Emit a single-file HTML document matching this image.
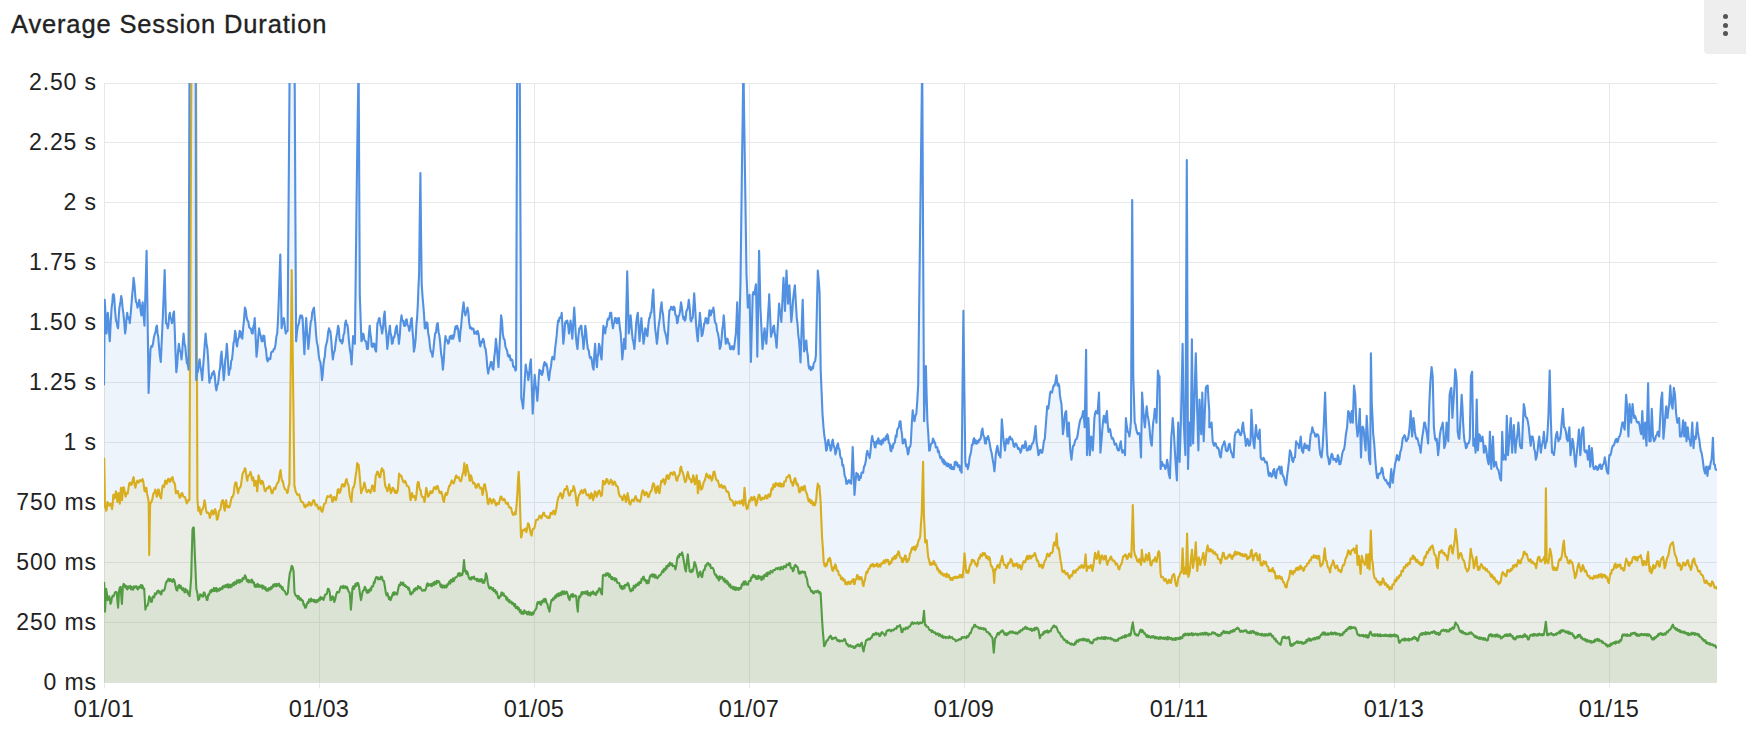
<!DOCTYPE html>
<html><head><meta charset="utf-8"><style>
html,body{margin:0;padding:0;background:#fff;width:1746px;height:734px;overflow:hidden;position:relative;font-family:"Liberation Sans",sans-serif;color:#222}
.title{position:absolute;left:11px;top:9px;font-size:25.5px;line-height:30px;letter-spacing:0.85px;white-space:nowrap;-webkit-text-stroke:0.35px #222}
.menu{position:absolute;left:1704px;top:0;width:42px;height:53.5px;background:#eeeeee;border-bottom-left-radius:4px}
.dot{position:absolute;left:19px;width:5px;height:5px;border-radius:50%;background:#555}
.yl{position:absolute;right:1649.2px;font-size:23px;letter-spacing:0.85px;white-space:nowrap;line-height:24px}
.xl{position:absolute;top:695.5px;width:80px;text-align:center;font-size:23.5px;letter-spacing:0.3px;line-height:26px}
svg{position:absolute;left:0;top:0}
</style></head><body>
<div class="title">Average Session Duration</div>
<div class="menu"><div class="dot" style="top:14.2px"></div><div class="dot" style="top:23px"></div><div class="dot" style="top:31.1px"></div></div>
<div class="yl" style="top:70.0px">2.50 s</div><div class="yl" style="top:129.9px">2.25 s</div><div class="yl" style="top:189.9px">2 s</div><div class="yl" style="top:249.9px">1.75 s</div><div class="yl" style="top:309.8px">1.50 s</div><div class="yl" style="top:369.8px">1.25 s</div><div class="yl" style="top:429.7px">1 s</div><div class="yl" style="top:489.6px">750 ms</div><div class="yl" style="top:549.6px">500 ms</div><div class="yl" style="top:609.5px">250 ms</div><div class="yl" style="top:669.5px">0 ms</div><div class="xl" style="left:64px">01/01</div><div class="xl" style="left:279px">01/03</div><div class="xl" style="left:494px">01/05</div><div class="xl" style="left:709px">01/07</div><div class="xl" style="left:924px">01/09</div><div class="xl" style="left:1139px">01/11</div><div class="xl" style="left:1354px">01/13</div><div class="xl" style="left:1569px">01/15</div>
<svg width="1746" height="734" viewBox="0 0 1746 734">
<defs><clipPath id="c"><rect x="104" y="83" width="1613" height="599.5"/></clipPath></defs>
<g stroke="#e8e8e8" stroke-width="1"><line x1="104" y1="682.5" x2="1717" y2="682.5"/><line x1="104" y1="622.5" x2="1717" y2="622.5"/><line x1="104" y1="562.5" x2="1717" y2="562.5"/><line x1="104" y1="502.5" x2="1717" y2="502.5"/><line x1="104" y1="442.5" x2="1717" y2="442.5"/><line x1="104" y1="382.5" x2="1717" y2="382.5"/><line x1="104" y1="322.5" x2="1717" y2="322.5"/><line x1="104" y1="262.5" x2="1717" y2="262.5"/><line x1="104" y1="202.5" x2="1717" y2="202.5"/><line x1="104" y1="142.5" x2="1717" y2="142.5"/><line x1="104" y1="83.5" x2="1717" y2="83.5"/><line x1="104.5" y1="83" x2="104.5" y2="688.5"/><line x1="319.5" y1="83" x2="319.5" y2="688.5"/><line x1="534.5" y1="83" x2="534.5" y2="688.5"/><line x1="749.5" y1="83" x2="749.5" y2="688.5"/><line x1="964.5" y1="83" x2="964.5" y2="688.5"/><line x1="1179.5" y1="83" x2="1179.5" y2="688.5"/><line x1="1394.5" y1="83" x2="1394.5" y2="688.5"/><line x1="1609.5" y1="83" x2="1609.5" y2="688.5"/></g>
<g clip-path="url(#c)">
<polygon points="104.0,385.2 104.7,299.9 105.6,315.7 106.5,333.5 107.1,325.4 107.8,312.8 108.5,320.2 109.1,333.0 109.8,341.3 110.7,322.8 111.6,307.6 112.3,302.7 112.9,294.7 113.6,294.1 114.2,297.3 115.1,311.0 116.0,320.6 116.7,322.2 117.4,326.5 118.1,328.3 118.8,315.8 119.4,307.6 120.3,303.3 121.2,296.0 121.9,299.5 122.6,307.9 123.3,312.8 124.2,321.6 125.1,333.5 125.8,328.6 126.5,318.5 127.2,312.8 128.0,318.6 128.9,317.4 129.8,323.1 130.7,313.6 131.6,302.4 132.3,293.5 132.9,287.8 133.6,277.9 134.5,285.2 135.4,297.3 136.1,302.1 136.8,303.0 137.5,307.6 138.4,305.2 139.3,299.9 140.0,304.2 140.7,311.3 141.4,315.4 142.0,307.4 142.7,302.4 143.6,315.7 144.5,325.7 145.2,300.7 145.9,275.7 146.6,250.7 147.3,298.1 148.0,345.6 148.6,393.0 149.5,371.0 150.5,349.0 151.3,346.1 152.2,346.7 153.0,343.8 153.9,337.5 154.9,333.5 155.5,332.5 156.2,327.1 156.9,325.7 157.6,333.4 158.3,337.3 159.0,346.4 159.9,355.9 160.8,362.0 161.5,346.4 162.2,330.9 162.9,315.4 163.8,292.7 164.7,270.1 165.3,296.6 166.0,323.1 166.9,323.9 167.8,328.3 168.5,324.2 169.2,315.5 169.9,312.8 170.5,318.5 171.2,318.7 171.9,323.1 172.6,320.6 173.3,313.4 174.0,311.5 174.8,331.8 175.5,352.0 176.3,372.3 177.2,364.8 178.1,350.9 178.9,343.8 179.8,350.5 180.6,352.0 181.5,359.4 182.2,352.7 182.9,340.8 183.6,333.5 184.4,343.0 185.3,346.7 186.2,356.8 186.9,363.3 187.7,363.8 188.5,369.7 189.5,60.0 190.3,61.8 191.1,59.2 191.8,61.2 192.6,57.9 193.4,61.5 194.2,58.9 195.0,61.7 195.7,60.0 196.2,380.1 197.1,372.9 197.9,371.6 198.8,363.1 199.6,359.4 200.5,367.8 201.3,371.5 202.2,380.1 203.0,368.4 203.9,356.8 204.7,345.1 205.6,333.5 206.5,343.4 207.4,349.0 208.1,358.6 208.8,372.9 209.4,382.7 210.2,378.5 211.0,378.3 211.8,374.9 212.5,372.8 213.2,374.3 213.8,371.0 214.7,375.0 215.6,385.7 216.4,390.4 217.1,385.5 217.8,384.6 218.5,380.1 219.3,371.3 220.1,368.3 220.8,356.6 221.6,351.6 222.3,362.8 223.0,368.3 223.7,380.1 224.5,372.2 225.2,360.3 226.0,355.3 226.8,343.8 227.5,352.4 228.2,366.1 228.8,374.9 229.6,369.8 230.4,368.8 231.2,360.8 232.0,359.4 232.7,353.0 233.5,343.0 234.3,340.2 235.1,330.9 235.7,333.8 236.4,343.3 237.1,346.4 238.0,339.1 238.9,337.7 239.7,330.9 240.6,331.8 241.4,337.6 242.3,338.7 243.2,327.5 244.0,320.2 244.9,307.6 245.8,310.2 246.6,317.3 247.5,320.6 248.3,321.5 249.2,327.3 250.1,328.3 250.9,328.7 251.8,333.1 252.7,333.5 253.3,326.6 254.0,325.0 254.7,318.0 255.6,335.6 256.5,356.8 257.4,348.8 258.3,337.0 259.1,328.3 260.0,333.8 260.8,335.9 261.7,341.3 262.6,341.3 263.4,335.5 264.3,336.1 265.2,346.0 266.0,349.5 266.9,359.4 267.7,361.5 268.6,358.2 269.5,359.4 270.3,359.0 271.2,352.3 272.1,351.6 272.9,351.6 273.8,349.1 274.6,349.0 275.5,344.6 276.4,336.6 277.2,333.5 277.9,321.7 278.5,307.6 279.4,281.1 280.3,254.6 281.0,291.4 281.6,328.3 282.3,323.9 283.0,323.3 283.7,318.0 284.4,321.8 285.1,329.2 285.8,333.5 286.7,331.2 287.6,330.9 288.3,240.6 289.0,150.3 289.7,60.0 290.5,61.7 291.3,59.0 292.1,61.2 292.9,58.0 293.7,61.5 294.6,60.0 295.3,200.6 296.1,341.3 297.0,332.2 297.9,325.7 298.8,323.9 299.7,318.0 300.5,315.4 301.2,317.7 301.9,315.6 302.6,318.0 303.5,337.2 304.4,354.2 305.3,335.1 306.2,318.0 306.9,330.6 307.6,337.0 308.3,349.0 309.2,339.8 310.1,328.3 310.8,321.3 311.5,320.1 312.2,312.8 313.1,309.4 314.0,307.6 314.7,317.0 315.4,323.9 316.0,333.5 316.9,342.4 317.8,346.3 318.6,354.2 319.5,360.1 320.4,362.0 321.2,369.1 322.0,380.1 322.7,374.9 323.4,365.1 324.1,359.4 324.8,356.6 325.6,346.9 326.4,343.8 327.3,340.3 328.1,332.4 329.0,328.3 329.7,331.5 330.3,330.9 331.2,339.0 332.1,351.6 332.9,359.4 333.8,352.9 334.7,350.9 335.5,343.8 336.4,337.0 337.2,333.0 338.1,325.7 338.8,328.5 339.5,338.4 340.2,341.3 341.0,340.0 341.9,343.5 342.8,341.3 343.5,334.8 344.3,333.3 345.1,323.7 345.9,320.6 346.6,324.6 347.3,324.5 347.9,328.3 348.8,339.4 349.8,349.0 350.7,354.5 351.6,364.5 352.3,351.1 353.1,336.1 354.0,337.8 354.9,343.8 355.8,267.5 356.7,191.2 357.6,125.6 358.6,60.0 359.2,177.3 359.8,294.7 360.6,318.0 361.4,341.3 362.0,339.8 362.7,333.5 363.6,334.3 364.4,339.7 365.3,341.3 366.1,341.6 367.0,348.9 367.9,349.0 368.8,335.4 369.7,325.7 370.4,334.3 371.1,338.1 371.7,346.4 372.6,346.9 373.5,343.6 374.3,343.8 375.2,349.7 376.1,351.6 376.8,335.9 377.4,323.1 378.1,322.5 378.8,318.8 379.5,318.0 380.4,325.1 381.2,327.1 382.1,333.5 383.0,327.8 383.8,317.5 384.7,311.5 385.5,326.3 386.4,334.2 387.3,349.0 388.1,342.0 389.0,332.4 389.9,325.7 390.5,333.1 391.2,335.3 391.9,343.8 392.7,343.4 393.5,337.3 394.3,337.2 395.0,333.5 395.9,327.7 396.8,325.7 397.5,334.0 398.2,335.4 398.9,343.8 399.8,335.7 400.6,322.6 401.5,315.4 402.4,320.8 403.2,320.7 404.1,325.7 405.0,326.0 405.8,320.3 406.7,319.3 407.5,325.2 408.4,326.1 409.3,330.9 410.1,327.6 411.0,319.9 411.8,318.0 412.5,330.3 413.2,338.3 413.9,351.6 414.8,346.9 415.7,338.7 416.4,325.2 417.1,317.6 417.8,305.0 418.4,288.2 419.1,274.0 419.7,223.5 420.4,173.1 421.0,228.7 421.7,284.3 422.6,297.2 423.5,307.6 424.1,315.7 424.8,328.3 425.6,328.4 426.5,322.4 427.4,323.1 428.2,333.2 429.1,337.7 430.0,346.4 430.8,351.6 431.7,352.4 432.5,356.8 433.4,349.8 434.3,340.4 435.1,333.5 436.0,332.3 436.9,324.5 437.7,323.1 438.6,332.2 439.4,335.6 440.3,343.8 441.2,354.3 442.0,359.0 442.9,369.7 443.8,359.9 444.6,345.5 445.5,336.1 446.3,339.8 447.2,340.4 448.1,343.8 448.9,342.5 449.8,336.4 450.7,336.1 451.5,338.7 452.4,335.4 453.2,338.7 454.2,335.0 455.1,328.3 455.7,326.2 456.4,328.7 457.1,325.7 458.0,328.7 458.9,336.9 459.7,341.3 460.4,331.6 461.1,326.6 461.8,318.0 462.7,309.3 463.6,302.4 464.5,311.2 465.4,315.4 466.1,312.0 466.8,311.4 467.5,307.6 468.3,312.0 469.2,322.9 470.1,328.3 470.9,327.4 471.8,329.4 472.7,328.3 473.5,328.9 474.4,333.8 475.2,333.5 476.1,331.7 477.0,334.1 477.8,330.9 478.7,334.7 479.6,343.7 480.4,346.4 481.3,341.5 482.1,342.5 483.0,338.7 483.9,340.9 484.7,347.2 485.6,349.0 486.5,356.3 487.3,367.3 488.2,373.6 489.0,368.9 489.9,366.6 490.8,362.0 491.6,362.1 492.5,368.4 493.4,369.7 494.2,357.6 495.1,350.6 495.9,338.7 496.8,346.9 497.7,358.5 498.5,367.1 499.4,349.9 500.3,332.6 501.1,315.4 502.0,320.8 502.8,333.4 503.7,338.7 504.6,339.7 505.4,346.5 506.3,349.0 507.1,350.5 508.0,356.0 508.9,356.8 509.7,355.2 510.6,360.2 511.5,359.4 512.3,360.0 513.2,366.4 514.0,367.1 514.7,366.8 515.4,370.6 516.1,369.7 517.2,60.0 518.0,58.7 518.9,61.2 519.7,60.0 520.5,229.1 521.3,398.2 522.2,402.5 523.1,408.5 524.0,393.9 524.8,379.2 525.7,364.5 526.6,371.0 527.4,372.4 528.3,380.1 529.1,374.7 530.0,364.4 530.9,359.4 531.8,386.5 532.7,413.7 533.4,402.6 534.1,385.4 534.7,374.9 535.6,384.9 536.5,390.9 537.3,400.8 538.0,391.7 538.7,378.8 539.4,369.7 540.3,373.7 541.1,370.9 542.0,374.9 542.9,371.9 543.7,364.9 544.6,362.0 545.4,365.4 546.3,363.6 547.2,367.1 548.1,375.4 549.0,380.1 549.7,373.7 550.3,369.7 551.0,366.2 551.7,359.9 552.4,356.8 553.3,358.9 554.2,359.4 555.1,348.6 556.0,341.3 556.7,335.2 557.4,326.6 558.1,320.6 558.8,321.6 559.5,317.6 560.2,318.0 561.0,317.5 561.7,312.8 562.5,326.7 563.3,343.8 564.2,335.8 565.1,323.1 565.8,321.3 566.5,323.0 567.2,320.6 568.1,324.9 569.0,333.5 569.8,327.9 570.5,320.6 571.4,327.2 572.3,338.7 573.2,324.2 574.2,307.6 574.9,318.4 575.7,333.5 576.6,343.7 577.5,349.0 578.4,336.5 579.3,328.3 580.0,328.8 580.7,325.7 581.4,325.7 582.1,335.1 582.8,338.9 583.5,349.0 584.4,338.6 585.3,325.7 586.1,331.2 587.0,342.3 587.9,349.0 588.8,350.6 589.7,356.8 590.4,358.4 591.1,357.2 591.7,359.4 592.7,366.9 593.6,369.7 594.3,354.6 595.1,343.8 596.0,357.8 596.9,367.1 597.6,357.1 598.3,353.7 599.0,343.8 599.9,347.1 600.7,355.3 601.6,359.4 602.5,341.0 603.4,325.7 604.3,330.6 605.2,333.5 605.9,327.2 606.6,326.8 607.3,320.6 608.0,318.5 608.7,319.7 609.3,318.0 610.2,312.9 611.2,312.8 612.1,322.7 613.0,328.3 613.7,323.2 614.3,323.1 615.0,318.0 615.9,318.3 616.8,323.1 617.5,323.0 618.2,318.3 618.9,318.0 619.8,327.1 620.7,333.5 621.5,345.2 622.3,359.4 623.2,349.8 624.1,338.7 624.7,342.0 625.4,349.0 626.3,310.2 627.2,271.4 628.0,302.4 628.7,333.5 629.7,325.9 630.6,315.4 631.2,321.4 631.9,331.8 632.6,338.7 633.5,342.5 634.4,349.0 635.3,337.1 636.2,323.1 637.0,317.0 637.8,312.8 638.7,328.2 639.6,341.3 640.5,327.4 641.4,318.0 642.1,328.0 642.8,333.8 643.5,343.8 644.4,337.9 645.3,328.3 646.0,329.7 646.7,334.3 647.4,336.1 648.3,325.3 649.2,318.0 649.9,317.9 650.6,312.6 651.3,312.8 651.9,306.5 652.6,295.3 653.3,289.5 654.2,310.9 655.1,328.3 656.0,334.9 656.9,343.8 657.6,338.6 658.3,328.5 659.0,323.1 659.9,317.4 660.7,307.9 661.6,302.4 662.3,311.1 663.0,313.9 663.7,323.1 664.6,330.7 665.5,333.5 666.4,337.4 667.3,343.8 668.0,334.5 668.7,320.6 669.4,310.2 670.2,310.2 671.1,306.8 672.0,307.6 672.8,309.9 673.7,306.6 674.5,307.6 675.4,314.9 676.3,315.7 677.1,323.1 677.8,321.9 678.5,316.0 679.2,315.4 680.1,311.1 681.0,302.4 681.9,307.5 682.8,315.4 683.5,319.1 684.2,316.8 684.9,320.6 685.6,318.9 686.3,311.4 687.0,310.2 687.9,307.4 688.8,299.9 689.7,307.8 690.6,320.6 691.3,321.4 692.0,317.8 692.7,318.0 693.4,306.9 694.2,293.4 695.1,307.1 696.0,323.1 696.9,333.9 697.8,341.3 698.5,329.7 699.2,323.1 699.9,312.8 700.8,322.5 701.7,336.1 702.6,334.2 703.5,328.3 704.2,323.5 704.9,323.1 705.6,318.0 706.5,318.7 707.3,323.4 708.2,323.1 708.8,315.9 709.5,310.2 710.1,315.3 710.8,315.4 711.6,310.6 712.5,312.1 713.4,307.6 714.0,311.6 714.7,320.3 715.4,323.1 716.3,324.2 717.1,331.0 718.0,333.5 718.9,339.1 719.8,349.0 720.7,346.1 721.6,338.7 722.3,329.0 723.0,325.1 723.7,315.4 724.4,323.3 725.1,336.7 725.8,343.8 726.7,338.8 727.6,338.7 728.4,343.5 729.3,343.4 730.2,349.0 731.1,349.2 732.0,346.4 732.7,346.3 733.4,349.5 734.0,349.0 735.0,340.3 735.9,333.5 736.5,320.3 737.2,302.4 737.9,328.3 738.7,354.2 739.6,318.0 740.5,281.7 741.2,226.3 741.9,170.9 742.7,115.4 743.4,60.0 744.1,113.5 744.9,167.0 745.7,220.5 746.5,274.0 747.1,288.4 747.8,307.6 748.7,302.1 749.6,294.7 750.2,328.3 750.9,362.0 751.8,328.3 752.7,294.7 753.4,292.0 754.1,294.4 754.7,292.1 755.4,287.3 756.0,284.3 756.7,320.6 757.3,356.8 758.2,303.7 759.1,250.7 759.8,279.2 760.4,307.6 761.1,321.4 761.8,335.2 762.5,349.0 763.2,343.4 763.9,334.0 764.6,328.3 765.5,338.1 766.4,343.8 767.3,329.2 768.1,314.5 769.0,299.9 769.2,294.4 770.1,315.5 771.0,336.7 771.8,333.2 772.5,332.2 773.2,326.9 774.0,325.6 774.8,333.8 775.7,338.5 776.6,347.7 777.4,333.0 778.3,318.3 779.1,303.6 779.9,311.5 780.6,313.6 781.3,322.0 782.1,307.2 782.8,292.5 783.5,277.8 784.3,295.5 785.0,310.9 785.7,290.7 786.5,270.5 787.2,285.8 788.0,303.6 788.7,296.1 789.4,285.2 790.3,302.3 791.3,322.0 792.2,312.7 793.1,299.9 794.0,291.3 794.9,285.2 795.9,303.7 796.8,318.3 797.5,323.5 798.3,335.2 799.0,340.4 799.7,348.9 800.5,362.4 801.2,341.6 801.9,320.7 802.7,299.9 803.4,325.6 804.1,351.4 804.9,349.4 805.6,342.4 806.3,340.4 807.1,351.2 807.8,355.4 808.6,366.1 809.3,368.8 810.0,366.5 810.8,370.1 811.5,369.8 812.2,367.0 813.0,368.3 813.7,363.3 814.4,362.4 815.2,360.8 815.9,355.1 816.8,312.8 817.8,270.5 818.7,279.8 819.6,292.5 820.7,369.8 821.6,391.9 822.5,413.9 823.5,427.4 824.4,436.0 825.3,441.3 826.2,450.7 826.9,449.5 827.7,442.4 828.4,439.7 829.2,445.0 829.9,445.3 830.6,450.7 831.4,448.3 832.1,441.7 832.8,439.7 833.7,446.0 834.6,447.8 835.4,454.4 836.3,451.5 837.1,445.5 838.0,443.4 838.7,448.6 839.5,449.4 840.2,455.8 840.9,458.1 841.7,458.7 842.4,465.5 843.1,464.7 843.9,469.1 844.7,475.9 845.6,477.5 846.4,483.8 847.3,483.7 848.2,480.6 849.0,480.1 849.8,482.6 850.5,480.8 851.2,483.8 852.0,467.7 852.7,447.0 853.6,470.9 854.5,494.9 855.5,481.6 856.4,472.8 857.1,476.3 857.8,474.0 858.6,479.9 859.3,480.1 860.1,476.1 860.8,477.9 861.5,472.6 862.3,472.8 863.1,472.8 864.0,466.6 864.8,465.4 865.7,461.6 866.6,453.8 867.4,450.7 868.1,454.8 868.9,454.2 869.6,458.1 870.5,451.5 871.3,441.9 872.2,436.0 873.1,441.2 873.9,441.9 874.8,447.0 875.5,447.4 876.2,441.6 877.0,443.5 877.7,439.7 878.4,438.3 879.2,443.6 879.9,440.8 880.7,443.4 881.4,444.7 882.1,440.0 882.9,443.0 883.6,438.6 884.3,439.7 885.1,440.4 885.8,436.4 886.5,439.3 887.3,434.3 888.0,436.0 888.9,443.0 889.7,443.6 890.6,450.7 891.3,451.3 892.1,445.6 892.8,448.1 893.5,443.5 894.3,443.4 895.0,441.6 895.7,435.5 896.5,436.8 897.2,429.9 897.9,428.6 898.8,427.2 899.7,421.5 900.5,421.3 901.3,430.2 902.0,434.4 902.7,443.4 903.6,443.0 904.4,439.3 905.3,439.7 906.2,446.6 907.0,448.0 907.9,454.4 908.6,453.0 909.3,447.0 910.1,446.9 910.8,443.4 911.7,425.2 912.7,410.2 913.6,418.2 914.5,421.3 915.4,415.6 916.3,413.9 917.3,400.7 918.2,384.5 919.0,319.6 919.8,254.7 920.6,189.8 921.4,124.9 922.2,60.0 923.1,240.6 924.1,421.3 925.0,393.7 925.9,366.1 926.6,393.7 927.4,421.3 928.3,434.0 929.2,450.7 929.9,450.1 930.7,444.7 931.4,443.4 932.2,443.2 932.9,438.6 933.6,439.7 934.4,442.7 935.1,442.5 935.8,447.4 936.6,447.0 937.3,447.2 938.0,452.1 938.8,450.9 939.5,454.4 940.4,458.3 941.2,457.0 942.1,459.9 942.8,462.5 943.6,459.4 944.3,464.3 945.0,461.6 945.8,463.6 946.5,465.8 947.2,463.2 948.0,466.4 948.7,464.0 949.4,465.4 950.2,468.3 950.9,464.6 951.6,469.0 952.4,467.2 953.1,469.1 954.0,469.1 954.8,462.2 955.7,461.7 956.4,464.9 957.2,462.8 957.9,466.8 958.6,465.4 959.4,465.4 960.1,470.4 960.8,469.4 961.6,472.8 962.5,391.9 963.4,310.9 964.3,386.3 965.3,461.7 966.1,466.3 967.0,464.5 967.8,469.1 968.7,465.3 969.6,457.4 970.4,454.4 971.1,451.7 971.9,444.6 972.6,444.9 973.4,439.7 974.1,438.1 974.8,443.2 975.6,440.1 976.3,443.8 977.0,443.4 977.8,440.8 978.5,442.5 979.2,439.6 980.0,439.7 980.8,438.0 981.7,430.9 982.5,428.6 983.4,435.6 984.3,437.3 985.1,443.4 985.9,443.5 986.6,437.7 987.3,439.1 988.1,436.0 988.1,436.5 988.9,439.1 989.7,443.5 990.7,449.6 991.6,452.7 992.7,459.7 993.5,463.9 994.4,471.3 995.1,464.1 995.7,455.1 996.6,449.3 997.4,445.8 998.2,451.3 999.0,455.1 999.7,454.4 1000.4,457.4 1001.1,440.6 1001.8,419.2 1002.5,426.7 1003.2,436.5 1004.1,444.3 1005.0,450.4 1005.8,442.7 1006.6,438.8 1007.4,443.3 1008.3,443.5 1009.2,437.6 1010.1,436.5 1011.0,439.5 1012.0,438.8 1012.8,441.0 1013.6,445.8 1014.4,446.9 1015.2,443.5 1016.1,443.7 1017.1,445.8 1018.0,448.9 1018.9,448.1 1019.7,449.5 1020.5,452.7 1021.3,450.7 1022.1,445.8 1023.1,445.3 1024.0,448.1 1024.7,446.0 1025.4,441.2 1026.1,444.7 1026.8,450.4 1027.7,450.4 1028.6,448.1 1029.4,445.9 1030.2,449.7 1030.9,448.1 1031.9,444.0 1032.8,443.5 1033.6,441.1 1034.4,436.5 1035.6,426.1 1036.7,443.5 1037.5,447.3 1038.4,455.1 1039.1,454.1 1039.7,450.4 1040.6,449.8 1041.4,452.7 1042.2,452.8 1043.0,448.1 1043.9,441.0 1044.8,438.8 1046.0,422.6 1047.2,406.4 1048.3,408.7 1049.1,402.6 1049.9,394.8 1050.6,391.5 1051.3,392.5 1052.1,392.5 1053.0,387.9 1053.8,385.4 1054.6,385.6 1055.5,381.8 1056.4,375.2 1057.6,385.6 1058.4,383.8 1059.2,385.6 1059.9,394.9 1060.6,399.5 1061.5,404.1 1062.2,417.7 1062.9,434.2 1063.7,428.4 1064.5,418.0 1065.3,412.5 1066.2,411.1 1066.8,424.8 1067.5,436.5 1068.2,427.2 1068.9,422.6 1069.6,437.3 1070.3,450.4 1071.5,459.7 1072.3,451.7 1073.1,445.8 1074.0,445.4 1075.0,441.2 1075.9,439.2 1076.8,438.8 1077.6,435.6 1078.4,429.6 1079.6,422.6 1080.5,419.3 1081.4,418.0 1082.2,416.1 1083.1,411.1 1083.9,416.9 1084.7,427.3 1085.4,388.5 1086.1,349.7 1087.0,455.1 1087.7,438.9 1088.4,418.0 1089.1,435.7 1089.8,455.1 1090.5,446.7 1091.2,436.5 1092.0,441.3 1092.8,450.4 1093.6,435.0 1094.4,418.0 1095.1,413.3 1095.8,411.1 1096.7,413.2 1097.6,413.4 1098.3,402.0 1099.0,392.5 1099.7,422.6 1100.4,452.7 1101.4,442.0 1102.3,429.6 1103.1,420.8 1103.9,415.7 1104.7,421.2 1105.5,422.6 1106.2,414.9 1106.9,411.1 1107.7,423.7 1108.5,431.9 1109.3,428.8 1110.2,429.6 1111.1,435.6 1112.0,438.8 1112.9,438.2 1113.9,441.2 1114.7,444.8 1115.5,443.5 1116.3,443.9 1117.1,448.1 1118.0,450.4 1119.0,450.4 1119.9,444.9 1120.8,441.2 1121.6,449.3 1122.4,452.7 1123.6,450.4 1124.3,451.0 1125.0,455.1 1125.9,418.0 1126.8,426.3 1127.8,431.9 1128.6,432.4 1129.4,436.5 1130.2,430.2 1131.0,420.3 1132.2,200.1 1133.3,376.3 1134.0,399.5 1134.7,422.6 1135.5,424.4 1136.3,429.6 1137.1,432.8 1137.9,434.2 1138.9,432.8 1139.8,434.2 1141.0,457.4 1142.1,392.5 1143.3,411.1 1144.1,420.6 1144.9,427.3 1145.8,415.7 1146.7,406.4 1147.7,415.7 1148.6,420.3 1149.4,426.9 1150.2,436.5 1151.0,443.1 1151.8,445.8 1152.5,432.2 1153.2,422.6 1154.0,417.7 1154.8,408.7 1155.7,413.7 1156.5,422.6 1157.2,396.6 1157.9,370.5 1158.7,375.5 1159.5,376.3 1160.6,469.0 1161.3,464.3 1162.0,462.0 1162.7,465.6 1163.4,464.3 1164.3,465.6 1165.3,469.0 1166.2,466.7 1167.1,459.7 1167.9,464.4 1168.7,473.6 1169.9,478.2 1170.6,457.4 1171.3,436.5 1172.0,429.5 1172.7,418.0 1173.4,426.4 1174.1,436.5 1174.9,451.3 1175.7,464.3 1176.9,480.5 1177.5,451.6 1178.2,422.6 1178.9,440.1 1179.6,462.0 1180.3,440.0 1181.0,418.0 1181.8,380.9 1182.6,343.9 1183.8,422.6 1184.6,440.4 1185.4,455.1 1186.1,307.5 1186.8,160.0 1188.0,469.0 1188.7,445.8 1189.4,422.6 1190.1,432.8 1190.7,445.8 1191.9,339.3 1193.1,443.5 1193.8,421.5 1194.5,399.5 1195.1,376.3 1195.8,353.2 1196.5,382.1 1197.2,411.1 1198.4,450.4 1199.5,399.5 1200.4,419.3 1201.2,434.2 1202.3,392.5 1203.0,416.8 1203.7,441.2 1204.4,423.4 1205.1,405.7 1205.8,387.9 1206.7,385.9 1207.7,385.6 1208.5,400.0 1209.3,411.1 1209.3,427.3 1210.4,427.3 1211.6,422.6 1212.7,441.2 1213.9,445.8 1214.8,443.1 1215.7,443.5 1216.6,446.8 1217.4,448.1 1218.2,447.8 1219.0,450.4 1219.9,455.9 1220.8,457.4 1221.7,449.3 1222.5,445.8 1223.4,444.3 1224.3,441.2 1225.1,444.1 1225.9,450.4 1226.9,451.3 1227.8,450.4 1228.7,444.8 1229.6,443.5 1230.5,449.0 1231.3,452.7 1232.0,453.5 1232.8,457.3 1233.6,457.4 1234.7,436.5 1235.7,432.2 1236.6,431.9 1237.4,432.0 1238.2,429.6 1239.0,430.9 1239.8,434.2 1240.8,435.2 1241.7,431.9 1242.4,425.1 1243.1,422.6 1243.8,430.7 1244.5,434.2 1245.2,438.7 1245.9,445.8 1246.7,443.8 1247.5,438.8 1248.3,441.1 1249.1,445.8 1249.8,445.2 1250.5,441.2 1251.4,409.9 1252.1,421.9 1252.8,436.5 1253.6,443.7 1254.4,448.1 1255.2,434.4 1256.0,425.0 1256.7,433.2 1257.4,436.5 1258.4,438.8 1259.1,432.4 1259.7,429.6 1260.7,457.4 1261.6,459.5 1262.5,459.7 1263.5,457.8 1264.4,459.7 1265.2,462.4 1266.0,462.0 1266.8,461.8 1267.6,466.6 1268.3,473.3 1269.0,475.9 1269.8,472.5 1270.6,473.6 1271.4,476.7 1272.3,475.9 1273.2,470.7 1274.1,469.0 1275.0,475.9 1276.0,478.2 1276.8,471.4 1277.6,469.0 1278.4,469.1 1279.2,466.6 1279.9,469.1 1280.6,473.6 1281.5,466.6 1282.2,472.7 1282.9,475.9 1283.7,476.6 1284.5,480.5 1285.3,483.8 1286.2,485.2 1287.1,475.7 1288.0,469.0 1288.9,461.4 1289.9,450.4 1290.7,451.9 1291.5,455.1 1292.3,460.7 1293.1,462.0 1294.0,457.8 1295.0,457.4 1296.1,441.2 1296.9,443.6 1297.7,443.5 1298.4,444.5 1299.1,448.1 1299.9,443.7 1300.7,436.5 1301.9,450.4 1303.1,452.7 1303.9,446.8 1304.7,443.5 1305.4,447.9 1306.1,448.1 1306.9,445.3 1307.7,445.8 1308.5,449.8 1309.3,450.4 1310.0,441.3 1310.7,434.2 1311.5,433.1 1312.3,427.3 1313.5,431.9 1314.4,432.9 1315.3,436.5 1316.1,436.7 1317.0,434.2 1317.8,434.5 1318.6,436.5 1319.5,448.3 1320.4,455.1 1321.6,457.4 1322.7,445.8 1323.9,422.6 1325.1,392.5 1326.2,427.3 1327.4,455.1 1328.3,458.1 1329.2,464.3 1330.0,463.2 1330.8,457.4 1331.7,453.8 1332.5,455.1 1333.4,459.8 1334.3,459.7 1335.2,458.7 1336.2,462.0 1337.0,460.9 1337.8,455.1 1338.6,457.3 1339.4,464.3 1340.3,464.2 1341.3,459.7 1342.2,454.1 1343.1,450.4 1343.9,449.8 1344.7,445.8 1345.9,434.2 1347.1,427.3 1348.2,411.1 1349.4,413.4 1350.5,422.6 1351.7,411.1 1352.8,422.6 1354.0,385.6 1355.2,394.8 1356.3,422.6 1357.5,436.5 1358.6,429.6 1359.8,408.7 1361.0,457.4 1362.1,427.3 1362.9,426.7 1363.7,429.6 1364.7,442.5 1365.6,450.4 1366.7,415.7 1367.9,436.5 1369.1,459.7 1370.2,464.3 1370.9,353.2 1371.8,404.1 1372.5,417.0 1373.2,434.2 1374.2,443.5 1375.3,459.7 1376.5,473.6 1377.2,477.9 1377.9,478.2 1378.7,473.8 1379.5,473.6 1380.3,473.8 1381.1,471.3 1381.8,467.7 1382.5,469.0 1383.3,475.5 1384.1,478.2 1385.3,480.5 1386.2,480.2 1387.1,482.8 1387.9,484.4 1388.7,482.8 1389.9,487.5 1390.6,475.8 1391.3,469.0 1392.0,477.6 1392.7,482.8 1393.4,476.0 1394.1,471.3 1395.0,464.3 1395.9,460.7 1396.9,455.1 1397.5,455.4 1398.2,459.7 1398.9,460.3 1399.6,457.4 1400.3,451.6 1401.0,450.4 1401.8,445.7 1402.6,438.8 1403.8,436.5 1404.5,435.1 1405.2,436.5 1405.9,440.9 1406.6,441.2 1407.3,439.2 1408.0,438.8 1408.8,434.0 1409.6,427.3 1410.7,411.1 1411.4,422.1 1412.1,436.5 1412.8,428.5 1413.5,418.0 1414.2,424.0 1414.9,431.9 1415.7,436.6 1416.5,438.8 1417.3,438.1 1418.2,441.2 1418.9,445.1 1419.5,445.8 1420.7,452.7 1421.5,443.7 1422.3,436.5 1423.3,430.5 1424.2,422.6 1425.0,422.7 1425.8,427.3 1427.0,434.2 1428.1,443.5 1429.3,404.1 1429.3,404.1 1430.4,380.9 1431.6,367.1 1432.7,376.3 1433.9,427.3 1435.1,438.8 1435.9,440.7 1436.7,438.8 1437.4,445.9 1438.1,455.1 1438.9,448.1 1439.7,436.5 1440.5,431.1 1441.3,427.3 1442.0,426.3 1442.7,422.6 1443.5,433.1 1444.3,448.1 1445.5,443.5 1446.6,422.6 1447.4,433.9 1448.3,441.2 1448.9,418.0 1449.6,394.8 1450.5,390.1 1451.3,387.9 1452.4,418.0 1453.6,399.5 1454.4,386.7 1455.2,369.4 1455.9,373.4 1456.6,380.9 1457.7,431.9 1458.6,437.6 1459.4,438.8 1460.5,418.0 1461.7,394.8 1462.4,406.4 1463.1,422.6 1463.8,433.4 1464.5,441.2 1465.2,442.7 1465.9,448.1 1466.7,447.5 1467.5,443.5 1468.6,443.5 1469.8,438.8 1470.9,376.3 1472.1,371.7 1473.3,445.8 1474.4,438.8 1475.6,452.7 1476.7,399.5 1477.9,450.4 1479.1,434.2 1479.9,435.3 1480.7,441.2 1481.6,441.0 1482.5,436.5 1483.2,442.6 1483.9,452.7 1484.6,451.4 1485.3,445.8 1486.2,449.1 1487.2,457.4 1488.0,462.0 1488.8,464.3 1489.9,431.9 1490.6,449.3 1491.3,469.0 1492.1,454.8 1493.0,436.5 1494.1,466.6 1495.0,462.2 1496.0,462.0 1496.8,467.1 1497.6,469.0 1498.4,469.7 1499.2,473.6 1500.1,478.5 1501.1,480.5 1502.2,431.9 1503.4,459.7 1504.5,455.1 1505.7,459.7 1506.8,415.7 1508.0,455.1 1509.2,441.2 1510.0,427.3 1510.8,418.0 1511.5,437.5 1512.2,452.7 1513.0,437.1 1513.8,425.0 1514.6,439.7 1515.4,452.7 1516.1,443.6 1516.8,438.8 1517.6,432.3 1518.4,422.6 1519.2,433.1 1520.0,445.8 1521.0,448.2 1521.9,448.1 1522.8,426.1 1523.8,404.1 1524.6,407.9 1525.4,415.7 1526.2,417.6 1527.0,418.0 1527.9,421.7 1528.8,427.3 1529.8,437.8 1530.7,445.8 1531.6,436.5 1532.6,436.5 1533.5,441.2 1534.3,449.4 1535.0,451.1 1535.8,459.7 1536.7,456.8 1537.6,450.4 1538.5,441.7 1539.3,436.5 1540.1,446.4 1540.9,452.7 1541.6,446.4 1542.3,443.5 1543.1,439.4 1543.9,431.9 1545.1,448.1 1546.0,442.5 1546.9,441.2 1547.7,429.7 1548.5,413.4 1549.7,370.5 1550.8,418.0 1552.0,452.7 1552.9,452.4 1553.9,455.1 1554.7,448.8 1555.5,438.8 1556.3,434.1 1557.1,431.9 1557.8,437.8 1558.5,441.2 1559.3,438.4 1560.1,438.8 1560.9,432.5 1561.7,422.6 1562.9,408.7 1564.0,427.3 1565.0,427.9 1565.9,431.9 1566.8,439.0 1567.8,441.2 1568.6,433.2 1569.4,427.3 1570.5,455.1 1571.5,448.8 1572.4,438.8 1573.2,442.1 1574.0,450.4 1574.8,460.6 1575.6,466.6 1576.6,454.5 1577.5,445.8 1578.2,439.1 1578.9,429.6 1579.6,440.9 1580.3,455.1 1581.0,447.0 1581.6,434.2 1582.5,428.4 1583.3,427.3 1584.4,450.4 1585.4,452.3 1586.3,450.4 1587.1,452.7 1587.9,459.7 1589.1,445.8 1590.2,466.6 1591.0,459.7 1591.8,448.1 1592.5,455.1 1593.2,466.6 1594.0,469.2 1594.8,469.0 1595.7,466.2 1596.5,466.6 1597.4,469.9 1598.3,469.0 1599.2,465.2 1600.2,464.3 1601.0,468.7 1601.8,469.0 1602.6,465.0 1603.4,464.3 1604.1,462.2 1604.8,457.4 1605.6,461.6 1606.4,469.0 1607.2,472.2 1608.1,473.6 1608.7,463.0 1609.4,455.1 1610.3,455.4 1611.1,452.7 1611.9,448.5 1612.7,445.8 1613.6,445.7 1614.5,443.5 1615.5,440.0 1616.4,438.8 1617.2,442.3 1618.0,441.2 1618.8,437.1 1619.6,436.5 1620.6,433.2 1621.5,427.3 1622.4,422.5 1623.3,422.6 1624.0,427.3 1624.7,429.6 1625.4,410.6 1626.1,394.8 1627.3,408.7 1628.4,436.5 1629.6,404.1 1630.4,415.4 1631.2,422.6 1631.9,411.4 1632.6,404.1 1633.4,412.6 1634.2,418.0 1635.0,415.9 1635.8,418.0 1636.8,421.9 1637.7,422.6 1638.6,421.8 1639.5,425.0 1640.4,431.2 1641.2,434.2 1642.3,411.1 1643.5,438.8 1644.3,428.3 1645.1,422.6 1645.8,436.2 1646.5,445.8 1647.3,414.5 1648.1,383.3 1649.3,441.2 1649.5,431.9 1650.6,441.2 1651.8,408.7 1653.0,436.5 1654.1,441.2 1655.3,438.8 1656.0,435.6 1656.8,435.2 1657.6,431.9 1658.4,431.8 1659.2,436.5 1660.1,419.2 1661.1,399.5 1662.2,392.5 1663.4,438.8 1664.5,427.3 1665.3,416.1 1666.2,406.4 1666.8,413.4 1667.5,418.0 1668.4,409.5 1669.2,404.1 1670.3,385.6 1671.5,404.1 1672.6,408.7 1673.8,387.9 1675.0,394.8 1676.1,413.4 1677.3,422.6 1678.2,422.7 1679.1,418.0 1680.0,436.5 1680.7,435.1 1681.4,436.5 1682.2,430.4 1683.1,420.3 1684.2,436.5 1685.4,422.6 1686.5,441.2 1687.7,427.3 1688.8,438.8 1689.8,440.1 1690.7,445.8 1691.5,435.1 1692.3,422.6 1693.5,448.1 1694.6,436.5 1695.8,438.8 1696.5,428.9 1697.2,422.6 1697.9,432.1 1698.6,436.5 1699.3,439.5 1700.0,445.8 1700.8,451.0 1701.6,452.7 1702.7,459.7 1703.9,469.0 1705.1,473.6 1706.2,466.6 1707.4,475.9 1708.5,466.6 1709.7,469.0 1710.6,463.0 1711.5,459.7 1712.2,451.1 1712.9,437.7 1713.9,464.3 1714.7,464.2 1715.5,469.0 1716.2,469.9 1717.0,469.0 1717,682.5 104,682.5" fill="#5291e2" fill-opacity="0.1" stroke="none"/><polygon points="104.0,458.6 104.2,458.6 105.0,507.3 105.6,506.7 106.2,510.8 106.8,508.7 107.4,502.0 108.1,502.9 108.9,505.5 109.7,505.5 110.6,503.7 111.3,504.3 112.0,509.1 112.7,503.9 113.3,494.9 113.9,494.8 114.5,498.4 115.2,496.1 115.9,491.3 116.6,494.9 117.4,502.0 118.0,499.3 118.6,493.1 119.2,496.7 119.8,503.7 120.9,487.8 121.5,495.0 122.1,500.2 123.0,487.8 123.7,487.2 124.4,489.6 125.1,494.5 125.7,496.7 126.3,493.0 126.9,493.1 127.6,493.7 128.3,489.6 129.2,483.7 130.1,482.5 131.0,485.0 131.9,484.3 132.8,479.3 133.6,477.2 134.5,483.7 135.4,487.8 136.3,483.5 137.2,480.7 138.1,482.4 139.0,482.5 139.8,480.1 140.7,480.7 141.6,481.1 142.5,479.0 143.2,481.1 143.9,486.0 144.5,490.9 145.1,491.3 145.8,488.0 146.4,487.8 147.1,493.9 147.8,496.7 148.7,502.0 149.2,555.1 150.1,505.5 150.7,502.6 151.3,502.0 152.1,500.1 152.8,496.7 153.4,493.6 154.0,493.1 154.6,492.3 155.2,489.6 155.9,491.5 156.7,496.7 157.4,495.5 158.1,489.6 158.7,489.5 159.3,493.1 160.2,496.8 161.1,498.4 162.0,489.6 162.7,485.6 163.4,486.0 164.0,487.2 164.6,484.3 165.2,480.5 165.9,480.7 166.6,483.9 167.3,482.5 168.2,478.7 169.1,479.0 169.9,481.9 170.8,480.7 171.7,477.6 172.6,477.2 173.5,482.2 174.4,482.5 175.1,485.5 175.8,493.1 176.4,493.2 177.0,491.3 177.9,491.1 178.8,494.9 179.7,497.7 180.6,496.7 181.4,493.4 182.3,493.1 183.2,496.5 184.1,496.7 185.0,496.9 185.9,500.2 186.8,503.4 187.6,502.0 188.5,499.5 189.4,500.2 190.4,280.1 191.4,60.0 192.1,62.1 192.9,58.7 193.7,62.2 194.4,57.8 195.2,61.5 196.0,60.0 196.7,279.2 197.4,498.4 198.3,510.8 198.9,507.4 199.5,507.3 200.2,513.1 200.9,514.4 201.8,509.8 202.7,509.1 203.6,506.2 204.5,500.2 205.3,504.4 206.2,510.8 207.1,513.0 208.0,512.6 208.9,513.4 209.8,517.9 210.7,515.4 211.5,510.8 212.4,510.3 213.3,514.4 214.2,512.9 215.1,509.1 216.0,512.1 216.9,519.7 217.6,519.1 218.3,516.1 218.9,511.1 219.5,510.8 220.4,509.2 221.3,503.7 222.2,500.4 223.1,500.2 223.9,507.1 224.8,510.8 225.4,503.7 226.1,500.2 226.8,505.4 227.5,507.3 228.4,506.0 229.2,507.3 230.1,504.8 231.0,500.2 231.9,496.8 232.8,496.7 233.7,493.6 234.6,486.0 235.4,482.5 236.3,482.5 237.2,488.7 238.1,493.1 239.0,488.4 239.9,487.8 240.8,486.2 241.6,480.7 242.5,474.1 243.4,471.9 244.1,471.1 244.8,468.3 245.4,469.0 246.1,473.6 246.7,478.0 247.3,480.7 248.0,476.2 248.7,475.4 249.6,474.8 250.5,471.9 251.2,474.3 251.9,479.0 252.5,480.3 253.2,477.2 253.8,480.7 254.4,486.0 255.1,485.0 255.8,480.7 256.5,483.9 257.2,491.3 257.8,484.5 258.5,475.4 259.3,477.9 260.2,482.5 261.1,483.8 262.0,480.7 262.9,481.9 263.8,486.0 264.7,490.6 265.5,491.3 266.4,488.8 267.3,487.8 268.2,488.2 269.1,486.0 270.0,486.8 270.9,489.6 271.7,493.2 272.6,493.1 273.5,489.6 274.4,487.8 275.3,489.2 276.2,486.0 277.1,483.5 277.9,482.5 278.6,481.8 279.2,477.2 279.9,472.9 280.6,470.1 281.3,476.6 282.0,480.7 282.9,481.3 283.8,486.0 284.7,488.8 285.6,489.6 286.4,490.3 287.3,493.1 287.9,491.5 288.6,486.0 289.4,484.3 290.2,412.9 291.0,341.4 291.7,270.0 292.6,342.0 293.5,414.0 294.4,486.0 295.0,487.3 295.6,491.3 296.5,493.1 297.4,494.8 298.3,494.9 299.2,494.3 300.1,498.4 301.0,501.2 301.8,502.0 302.7,502.1 303.6,503.7 304.5,506.8 305.4,507.3 306.3,504.6 307.2,505.5 308.0,505.7 308.9,502.0 309.8,502.8 310.7,505.5 311.6,505.0 312.5,502.0 313.3,500.3 314.2,500.2 315.1,504.3 316.0,505.5 316.9,504.4 317.8,507.3 318.7,509.2 319.5,507.3 320.4,506.8 321.3,510.8 322.2,511.9 323.1,509.1 324.0,504.2 324.9,503.7 325.7,503.0 326.6,498.4 327.5,496.0 328.4,496.7 328.9,496.7 329.7,496.9 330.6,494.9 331.5,496.6 332.4,502.0 333.3,500.6 334.2,496.7 335.0,497.5 335.9,500.2 336.8,496.4 337.7,489.6 338.6,489.2 339.5,493.1 340.4,491.4 341.2,487.8 342.1,484.3 343.0,484.3 343.9,486.5 344.8,486.0 345.7,480.9 346.6,479.0 347.3,482.6 348.0,484.3 348.6,485.5 349.2,491.3 349.8,496.0 350.5,498.4 351.5,502.0 352.1,493.1 352.8,487.8 353.6,487.5 354.5,484.3 355.4,477.3 356.3,471.9 357.2,463.0 357.9,465.6 358.6,464.8 359.2,470.0 359.8,477.2 360.5,486.0 361.1,493.1 361.8,490.6 362.5,489.6 363.4,487.0 364.3,482.5 365.1,485.2 366.0,489.6 366.9,492.2 367.8,491.3 368.7,489.8 369.6,491.3 370.5,492.8 371.3,489.6 372.2,485.5 373.1,486.0 373.8,491.1 374.5,491.3 375.2,482.3 375.8,475.4 376.4,475.1 377.0,471.9 377.7,471.6 378.4,473.6 379.3,477.1 380.2,477.2 381.1,471.0 382.0,468.3 382.7,471.3 383.4,470.1 384.0,473.5 384.6,480.7 385.2,485.4 385.9,487.8 386.6,488.1 387.3,491.3 388.2,489.4 389.1,484.3 389.9,488.0 390.8,493.1 391.7,491.2 392.6,487.8 393.5,488.2 394.4,491.3 395.1,492.8 395.8,490.6 396.5,493.1 397.2,492.5 397.9,489.6 398.5,480.7 399.1,473.6 399.9,475.6 400.6,475.4 401.4,476.1 402.3,479.0 403.2,481.8 404.1,482.5 405.0,480.9 405.9,482.5 406.8,485.8 407.6,486.0 408.5,486.6 409.4,489.6 410.0,496.7 410.7,500.2 411.4,495.6 412.1,493.1 413.0,497.1 413.8,496.7 414.7,496.1 415.6,500.2 416.5,494.2 417.4,484.3 418.1,481.9 418.8,482.5 419.4,487.6 420.0,489.6 420.7,490.5 421.3,494.9 422.0,496.6 422.7,496.7 423.6,497.9 424.5,502.0 425.3,496.5 426.2,487.8 427.1,491.2 428.0,496.7 428.9,495.8 429.8,493.1 430.7,491.0 431.5,493.1 432.4,492.7 433.3,489.6 434.2,487.1 435.1,487.8 436.0,489.2 436.9,486.0 437.7,486.1 438.6,489.6 439.5,492.6 440.4,493.1 441.3,491.6 442.2,494.9 443.1,499.8 443.9,502.0 444.8,496.8 445.7,493.1 446.6,495.0 447.5,493.1 448.4,488.7 449.2,486.0 450.1,485.5 451.0,482.5 451.9,480.4 452.8,482.5 453.7,483.5 454.6,480.7 455.4,477.3 456.3,475.4 457.2,477.8 458.1,477.2 459.0,477.5 459.9,480.7 460.8,481.4 461.6,479.0 462.5,474.3 463.4,471.9 464.3,463.0 464.9,470.9 465.5,475.4 466.2,469.3 467.0,464.8 467.7,469.5 468.4,471.9 469.0,474.9 469.6,480.7 470.2,480.4 470.8,475.4 471.6,477.2 472.3,480.7 473.2,483.6 474.0,482.5 474.9,484.1 475.8,487.8 476.7,487.7 477.6,484.3 478.5,483.8 479.3,486.0 480.2,488.4 481.1,487.8 481.8,489.4 482.5,494.9 483.2,491.8 483.8,486.0 484.4,484.2 485.0,484.3 485.7,488.7 486.4,491.3 487.1,496.7 487.8,503.7 488.5,504.1 489.1,500.2 490.0,498.4 490.9,500.2 491.7,503.4 492.6,502.0 493.5,499.2 494.4,500.2 495.3,503.6 496.2,505.5 497.1,502.8 497.9,503.7 498.8,504.0 499.7,500.2 500.6,496.5 501.5,496.7 502.4,500.0 503.3,500.2 504.1,498.9 505.0,500.2 505.9,503.5 506.8,503.7 507.7,502.6 508.6,505.5 509.4,507.6 510.3,507.3 511.2,508.3 512.1,512.6 513.0,515.0 513.9,514.4 514.8,512.0 515.6,514.4 516.5,505.8 517.4,493.1 518.0,480.2 518.7,471.9 519.7,493.1 520.3,515.2 521.0,537.4 521.6,536.8 522.2,532.1 522.9,530.0 523.6,530.3 524.3,530.5 525.0,528.5 525.6,528.8 526.3,532.1 527.2,528.8 528.0,523.2 528.9,524.4 529.8,528.5 530.7,533.9 531.6,535.6 532.5,529.8 533.3,528.5 534.2,528.5 535.1,525.0 536.0,520.2 536.9,519.7 537.8,519.7 538.7,517.9 539.5,515.7 540.4,516.1 541.3,518.5 542.2,516.1 543.1,513.4 544.0,512.6 544.9,515.8 545.7,516.1 546.6,516.2 547.5,517.9 548.4,517.9 549.3,516.1 549.7,517.9 550.6,513.0 551.5,512.6 552.4,514.1 553.3,510.8 554.2,510.8 555.0,514.4 555.9,510.9 556.8,505.5 557.7,499.9 558.6,496.7 559.5,496.0 560.4,493.1 561.2,493.9 562.1,498.4 563.0,496.8 563.9,491.3 564.8,489.0 565.7,489.6 566.3,489.4 566.9,486.0 567.6,488.7 568.3,493.1 569.2,495.6 570.1,494.9 571.0,490.8 571.9,491.3 572.8,490.7 573.6,486.0 574.5,488.7 575.4,493.1 576.3,500.9 577.2,505.5 578.1,498.3 579.0,494.9 579.8,494.3 580.7,491.3 581.6,490.0 582.5,493.1 583.4,492.8 584.3,489.6 585.1,489.4 586.0,493.1 586.9,495.4 587.8,494.9 588.7,494.3 589.6,498.4 590.5,497.8 591.3,493.1 592.2,495.0 593.1,500.2 594.0,496.7 594.9,491.3 595.8,492.5 596.7,496.7 597.5,494.8 598.4,491.3 599.3,490.5 600.2,493.1 601.1,496.2 602.0,494.9 603.0,480.7 603.8,481.5 604.6,484.3 605.5,483.2 606.4,479.0 607.3,479.2 608.2,482.5 609.1,483.9 609.9,482.5 610.8,479.7 611.7,480.7 612.6,484.8 613.5,484.3 614.4,481.5 615.2,482.5 616.1,485.8 617.0,486.0 617.9,487.2 618.8,493.1 619.7,496.2 620.6,496.7 621.4,496.5 622.3,500.2 623.2,499.4 624.1,494.9 625.0,496.4 625.9,502.0 626.8,499.7 627.6,493.1 628.5,497.3 629.4,503.7 630.3,504.6 631.2,502.0 632.1,499.7 633.0,500.2 633.8,501.2 634.7,498.4 635.6,496.1 636.5,498.4 637.4,501.1 638.3,500.2 639.2,500.3 640.0,502.0 640.9,499.0 641.8,493.1 642.7,490.3 643.6,491.3 644.5,495.3 645.3,494.9 646.2,492.2 647.1,493.1 648.0,497.0 648.9,496.7 649.8,493.3 650.7,491.3 651.5,491.0 652.4,486.0 653.3,483.2 654.2,484.3 655.1,490.4 656.0,493.1 656.9,487.3 657.7,486.0 658.6,491.8 659.5,493.1 660.4,486.0 661.3,480.7 662.2,481.9 663.1,479.0 663.9,479.6 664.8,484.3 665.7,480.9 666.6,475.4 667.5,475.2 668.4,479.0 669.2,478.0 670.1,473.6 671.0,472.6 671.9,473.6 672.8,474.8 673.7,471.9 674.6,472.7 675.4,475.4 676.3,479.8 677.2,480.7 678.1,476.6 679.0,475.4 679.7,473.6 680.4,467.8 681.1,466.6 681.8,470.7 682.5,471.9 683.4,474.3 684.3,479.0 685.2,482.2 686.1,480.7 687.0,475.5 687.8,471.9 688.7,476.1 689.6,479.0 690.5,479.2 691.4,482.5 692.3,481.1 693.2,475.4 694.0,478.0 694.9,484.3 695.8,481.8 696.7,475.4 697.3,482.7 697.9,493.1 698.6,488.8 699.3,480.7 700.2,483.9 701.1,489.6 702.0,489.0 702.9,486.0 703.8,481.8 704.7,480.7 705.5,477.9 706.4,473.6 707.3,474.6 708.2,477.2 709.1,478.3 710.0,475.4 710.9,477.1 711.7,480.7 712.6,478.3 713.5,471.9 714.4,471.6 715.3,475.4 716.2,479.5 717.1,480.7 717.9,480.6 718.8,484.3 719.7,487.2 720.6,486.0 721.5,484.7 722.4,487.8 723.3,487.9 724.1,486.0 725.0,486.8 725.9,489.6 726.8,491.8 727.7,491.3 728.6,492.5 729.4,496.7 730.3,499.6 731.2,500.2 732.1,500.3 733.0,502.0 733.9,505.4 734.8,505.5 735.6,501.4 736.5,502.0 737.4,503.3 738.3,502.0 739.2,501.2 740.1,503.7 741.0,503.3 741.8,500.2 742.5,501.4 743.3,505.5 743.9,498.8 744.5,487.8 745.1,494.5 745.7,503.7 746.8,509.1 747.7,508.2 748.6,503.7 749.3,500.4 750.0,501.8 750.7,498.4 751.6,497.1 752.5,500.2 753.3,499.3 754.2,496.7 755.1,499.0 756.0,505.5 756.9,503.2 757.8,498.4 758.7,494.9 759.5,494.9 760.4,499.6 761.3,500.2 762.2,497.5 763.1,498.4 764.0,498.9 764.9,496.7 765.7,495.4 766.6,498.4 767.5,498.1 768.4,494.3 769.3,494.9 769.8,496.7 770.5,495.1 771.3,489.3 772.0,488.0 772.7,489.4 773.4,484.4 774.2,485.8 774.9,486.8 775.6,483.1 776.3,483.6 777.1,485.4 777.8,483.6 778.5,485.8 779.3,486.2 780.0,483.1 780.7,483.6 781.4,486.7 782.2,484.1 782.9,485.8 783.6,486.4 784.3,481.5 785.1,481.4 785.8,481.3 786.5,477.3 787.2,477.1 788.1,476.8 789.0,474.9 789.8,475.6 790.5,479.2 791.2,482.4 792.0,482.1 792.7,485.8 793.6,483.7 794.4,479.2 795.2,478.1 796.0,481.4 796.7,484.8 797.5,483.6 798.4,486.5 799.2,492.3 800.1,491.9 801.0,488.0 801.7,486.8 802.5,490.1 803.2,490.0 804.0,486.3 804.7,485.8 805.4,490.2 806.2,492.3 807.1,494.5 808.0,498.9 808.7,501.4 809.4,499.0 810.1,501.0 810.9,503.1 811.6,500.4 812.3,503.2 813.0,505.1 813.8,502.6 814.5,505.4 815.4,503.9 816.2,498.9 817.0,489.8 817.8,483.6 818.5,486.8 819.3,485.8 819.9,492.1 820.6,501.0 821.4,521.3 822.1,538.1 822.9,548.3 823.7,562.1 824.5,565.5 825.4,566.4 826.1,563.5 826.8,565.4 827.6,562.1 828.3,559.1 829.0,560.7 829.8,557.7 830.6,560.3 831.5,566.4 832.3,570.4 833.0,570.8 833.8,567.0 834.5,568.3 835.2,564.3 835.9,565.5 836.7,570.0 837.4,570.8 838.1,570.8 838.8,574.8 839.6,575.1 840.3,575.5 841.0,578.9 841.7,579.5 842.5,577.7 843.2,580.6 843.9,579.5 844.7,579.8 845.4,584.2 846.1,583.9 846.8,582.3 847.6,584.3 848.3,581.7 849.0,581.7 849.7,583.7 850.5,583.9 851.2,581.4 851.9,582.0 852.6,579.5 853.4,579.2 854.1,584.2 854.8,583.9 855.5,579.4 856.3,579.2 857.0,575.1 857.7,575.3 858.5,578.9 859.2,579.5 859.9,577.1 860.6,579.1 861.4,577.3 862.1,579.3 862.8,584.6 863.5,586.0 864.3,581.6 865.0,579.8 865.7,575.1 866.4,571.9 867.2,572.9 867.9,570.8 868.6,568.6 869.4,568.7 870.1,566.4 870.8,564.8 871.5,566.1 872.3,564.3 873.0,564.1 873.7,566.7 874.4,566.4 875.2,564.8 875.9,565.9 876.6,564.3 877.3,563.6 878.1,566.7 878.8,566.4 879.5,564.6 880.3,566.6 881.0,564.3 881.7,562.9 882.4,563.6 883.2,562.1 883.9,560.4 884.6,563.2 885.3,562.1 886.1,559.7 886.8,561.4 887.5,559.9 888.2,560.1 889.0,564.5 889.7,564.3 890.4,561.8 891.2,562.9 891.9,559.9 892.6,557.8 893.3,559.5 894.1,557.7 894.8,555.8 895.5,558.8 896.2,557.7 897.0,554.3 897.7,554.7 898.4,551.2 899.1,552.4 899.9,557.2 900.6,557.7 901.3,557.8 902.1,562.0 902.8,562.1 903.5,558.6 904.2,559.6 905.0,555.5 905.7,555.8 906.4,561.6 907.1,562.1 907.9,559.4 908.6,560.3 909.3,557.7 910.0,553.5 910.8,552.5 911.5,549.0 912.2,547.6 913.0,549.4 913.7,546.8 914.4,546.8 915.1,550.1 915.9,549.0 916.6,545.3 917.3,546.4 918.0,542.5 918.8,539.6 919.5,539.1 920.2,535.9 921.0,523.4 921.7,514.1 922.4,488.0 923.1,461.8 923.9,514.1 924.6,528.9 925.2,542.5 926.0,540.7 926.8,540.3 927.5,550.0 928.3,557.7 929.2,560.2 930.0,564.3 930.8,565.0 931.5,562.8 932.2,564.3 932.9,564.2 933.7,560.9 934.4,562.1 935.1,565.0 935.8,564.3 936.6,566.4 937.3,569.6 938.0,568.4 938.7,570.8 939.5,572.7 940.2,570.9 940.9,573.0 941.7,574.5 942.4,573.2 943.1,575.1 943.8,575.8 944.6,574.3 945.3,575.1 946.0,576.9 946.7,573.5 947.5,575.1 948.2,577.1 948.9,575.1 949.6,577.3 950.4,579.8 951.1,578.0 951.8,579.5 952.6,580.0 953.3,577.3 954.0,577.3 954.7,578.1 955.5,576.6 956.2,577.3 956.9,578.2 957.6,576.7 958.4,577.3 959.1,577.5 959.8,574.8 960.5,575.1 961.3,577.3 962.0,574.9 962.7,577.3 963.6,567.1 964.5,553.4 965.2,560.5 966.0,570.8 966.7,572.8 967.4,570.5 968.2,573.0 968.9,570.9 969.6,566.4 970.4,564.3 971.1,564.5 971.8,559.9 972.5,559.9 973.3,561.5 974.0,560.3 974.7,562.1 975.4,564.5 976.2,563.8 976.9,566.4 977.6,564.7 978.3,559.5 979.1,557.7 979.8,558.6 980.5,554.6 981.3,555.5 982.0,556.1 982.7,552.9 983.4,553.4 984.2,555.0 984.9,553.2 985.6,555.5 986.3,558.1 987.1,556.1 987.8,557.7 988.5,559.6 989.2,556.9 990.0,558.8 990.5,563.4 991.2,566.4 992.0,566.4 992.7,568.8 993.5,572.4 994.2,582.9 995.0,569.4 995.7,570.0 996.5,567.9 997.2,565.6 998.0,564.9 998.7,567.2 999.5,567.9 1000.2,562.8 1001.0,560.4 1002.2,555.9 1003.2,561.9 1004.0,564.8 1004.7,564.9 1005.5,565.0 1006.2,567.9 1007.0,568.0 1007.7,564.9 1008.5,562.7 1009.2,563.4 1010.0,562.4 1010.7,558.9 1011.5,559.8 1012.2,561.9 1013.0,565.8 1013.7,566.4 1014.5,564.0 1015.2,564.9 1016.0,565.8 1016.7,563.4 1017.5,564.3 1018.2,567.9 1019.0,567.0 1019.7,564.9 1020.5,566.3 1021.2,569.4 1022.0,567.1 1022.7,563.4 1023.5,561.3 1024.2,561.9 1025.0,562.5 1025.7,560.4 1026.4,557.4 1027.2,555.9 1027.9,559.3 1028.7,558.9 1029.4,555.6 1030.2,555.9 1030.9,558.4 1031.7,557.4 1032.4,555.5 1033.2,555.9 1033.9,555.4 1034.7,552.9 1035.4,554.3 1036.2,557.4 1036.9,560.6 1037.7,560.4 1038.4,561.9 1039.2,566.4 1039.9,566.6 1040.7,564.9 1041.4,564.6 1042.2,567.9 1042.9,567.7 1043.7,564.9 1044.4,561.6 1045.2,560.4 1045.9,559.3 1046.7,555.9 1047.4,553.7 1048.2,554.4 1048.9,556.4 1049.7,555.9 1050.4,553.0 1051.2,552.9 1051.9,552.9 1052.7,551.4 1053.4,545.4 1054.2,542.4 1054.9,544.9 1055.7,545.4 1056.7,533.5 1057.6,548.4 1058.4,547.4 1059.1,549.9 1059.9,556.0 1060.6,560.4 1061.4,564.7 1062.1,570.9 1062.9,572.2 1063.6,570.9 1064.4,570.6 1065.1,572.4 1065.9,574.4 1066.6,573.9 1067.4,572.9 1068.1,575.4 1068.9,577.7 1069.6,578.4 1070.4,575.3 1071.1,575.4 1071.8,576.1 1072.6,573.9 1073.3,570.8 1074.1,570.9 1074.8,572.8 1075.6,572.4 1076.3,569.7 1077.1,569.4 1077.8,569.7 1078.6,567.9 1079.3,566.7 1080.1,567.9 1080.8,567.3 1081.6,564.9 1082.3,565.6 1083.1,567.9 1083.8,567.6 1084.6,564.9 1085.6,554.4 1086.7,570.9 1087.9,566.4 1088.6,566.3 1089.4,567.9 1090.1,567.6 1090.9,564.9 1091.6,566.6 1092.4,570.9 1093.1,567.4 1093.9,561.9 1095.1,552.9 1095.8,555.1 1096.6,558.9 1097.5,556.6 1098.4,551.4 1099.1,555.7 1099.9,563.4 1100.6,560.5 1101.4,555.9 1102.1,555.3 1102.9,557.4 1103.6,559.6 1104.4,558.9 1105.1,555.7 1105.9,555.9 1106.6,561.9 1107.4,564.9 1108.1,561.7 1108.9,560.4 1109.6,559.8 1110.4,557.4 1111.1,556.5 1111.9,558.9 1112.6,560.6 1113.4,560.4 1114.1,560.6 1114.9,561.9 1115.6,564.4 1116.4,563.4 1117.1,564.1 1117.8,566.4 1118.6,568.9 1119.3,569.4 1120.1,566.2 1120.8,564.9 1121.6,563.6 1122.3,560.4 1123.1,556.6 1123.8,555.9 1124.6,556.2 1125.3,554.4 1126.1,555.5 1126.8,558.9 1127.6,558.6 1128.3,555.9 1129.1,553.5 1129.8,554.4 1130.6,556.5 1131.3,557.4 1132.1,531.2 1132.8,505.0 1134.0,549.9 1135.1,555.9 1135.8,556.1 1136.6,558.9 1137.3,561.2 1138.1,561.9 1138.8,559.7 1139.6,558.9 1140.3,563.3 1141.1,564.9 1141.8,549.9 1143.0,560.4 1143.8,560.1 1144.5,561.9 1145.3,558.8 1146.0,554.4 1146.8,556.1 1147.5,560.4 1148.3,558.5 1149.0,552.9 1149.8,557.5 1150.5,564.9 1151.3,565.4 1152.0,563.4 1152.8,560.3 1153.5,560.4 1154.3,560.7 1155.0,557.4 1155.8,558.9 1156.5,561.9 1157.3,558.4 1158.0,552.9 1158.8,551.1 1159.5,552.9 1160.6,573.9 1161.3,577.2 1162.0,576.9 1162.8,576.8 1163.5,578.4 1164.3,580.7 1165.0,579.9 1165.8,578.9 1166.5,581.4 1167.3,583.5 1168.0,582.9 1168.8,579.9 1169.5,579.9 1170.3,582.7 1171.0,582.9 1171.8,578.3 1172.5,575.4 1173.3,575.5 1174.0,573.9 1174.8,577.8 1175.5,582.9 1176.3,585.9 1177.0,585.9 1177.8,580.6 1178.5,576.9 1179.3,576.8 1180.0,573.9 1180.8,572.1 1181.5,572.4 1182.6,548.4 1183.8,573.9 1185.0,567.9 1186.0,573.9 1187.1,533.5 1188.3,576.9 1189.0,575.1 1189.8,570.9 1191.0,558.9 1192.0,549.9 1193.1,567.9 1193.8,561.6 1194.6,558.9 1195.8,542.4 1196.5,557.8 1197.3,570.9 1198.0,563.0 1198.8,557.4 1199.5,562.2 1200.3,564.9 1201.0,561.1 1201.8,558.9 1202.5,556.8 1203.3,552.9 1204.0,557.6 1204.8,564.9 1205.5,560.6 1206.3,552.9 1207.0,548.5 1207.7,545.4 1208.5,550.3 1209.2,551.4 1209.7,549.9 1210.5,549.0 1211.2,551.6 1212.0,551.4 1212.7,550.4 1213.5,553.5 1214.2,552.9 1215.0,552.2 1215.7,554.6 1216.5,554.4 1217.2,554.7 1218.0,558.7 1218.7,558.9 1219.7,559.6 1220.7,563.4 1221.4,561.0 1222.2,555.9 1222.9,552.9 1223.7,552.9 1224.6,557.5 1225.5,558.9 1226.2,557.6 1227.0,558.5 1227.7,557.4 1228.5,555.2 1229.2,556.2 1230.0,554.4 1230.7,555.2 1231.5,558.4 1232.2,558.9 1233.0,555.6 1233.7,556.3 1234.5,552.9 1235.2,551.5 1236.0,554.8 1236.7,552.9 1237.5,552.2 1238.2,554.2 1239.0,552.9 1239.7,552.7 1240.5,555.4 1241.2,554.4 1242.0,553.8 1242.7,556.2 1243.5,555.9 1244.2,554.4 1245.0,556.4 1245.7,554.4 1246.4,554.7 1247.2,559.3 1247.9,558.9 1248.7,556.9 1249.4,557.9 1250.2,555.9 1250.9,551.1 1251.7,549.9 1252.4,556.6 1253.2,560.4 1253.9,556.7 1254.7,554.4 1255.4,555.3 1256.2,552.9 1256.9,555.6 1257.7,560.4 1258.7,559.3 1259.6,554.4 1260.7,564.9 1261.4,563.0 1262.2,565.6 1262.9,563.4 1263.7,561.2 1264.4,563.7 1265.2,561.9 1265.9,561.6 1266.7,565.5 1267.4,566.4 1268.2,566.9 1268.9,571.1 1269.7,570.9 1270.4,569.8 1271.2,571.4 1271.9,569.4 1272.7,568.0 1273.4,571.9 1274.2,570.9 1274.9,572.9 1275.7,578.4 1276.4,578.6 1277.2,576.1 1277.9,576.9 1278.7,578.3 1279.4,575.8 1280.2,576.9 1280.9,579.0 1281.7,577.3 1282.4,579.9 1283.2,582.2 1283.9,582.3 1284.7,584.4 1285.6,587.3 1286.6,587.4 1287.5,581.8 1288.4,579.9 1289.3,577.1 1290.2,570.9 1291.2,570.9 1292.1,573.9 1292.9,574.4 1293.6,571.1 1294.4,572.4 1295.1,571.5 1295.9,568.5 1296.6,567.9 1297.4,570.0 1298.1,567.2 1298.9,569.4 1299.6,569.5 1300.4,565.6 1301.1,566.4 1301.9,568.6 1302.6,568.0 1303.4,570.9 1304.1,570.1 1304.9,567.0 1305.6,566.4 1306.4,566.2 1307.1,563.8 1307.9,563.4 1308.6,563.5 1309.4,560.2 1310.1,560.4 1310.9,560.4 1311.6,557.0 1312.4,557.4 1313.1,557.6 1313.9,555.2 1314.6,555.9 1315.4,557.7 1316.1,555.8 1316.9,557.4 1317.6,558.7 1318.4,555.7 1319.1,555.9 1319.9,562.3 1320.6,566.4 1321.4,564.5 1322.1,564.9 1322.9,563.0 1323.6,558.9 1324.7,548.4 1325.9,560.4 1326.6,560.8 1327.4,564.9 1328.1,567.7 1328.9,567.9 1330.1,572.4 1330.8,567.4 1331.6,564.9 1332.3,563.8 1333.1,560.4 1333.8,562.3 1334.6,566.4 1335.5,568.3 1336.4,566.4 1337.1,565.5 1337.8,567.9 1338.6,570.8 1339.3,570.9 1340.1,570.1 1340.8,572.3 1341.6,570.9 1342.3,567.2 1343.1,564.9 1343.8,565.2 1344.6,563.4 1345.3,559.8 1346.1,557.4 1346.8,556.7 1347.6,552.9 1348.3,550.3 1349.1,551.4 1349.8,554.3 1350.6,554.4 1351.3,550.9 1352.1,549.9 1352.8,550.1 1353.6,548.4 1354.3,549.5 1355.1,552.9 1355.8,550.4 1356.6,545.4 1357.6,564.9 1358.8,555.9 1359.7,563.8 1360.6,573.9 1361.8,555.9 1362.6,559.9 1363.3,561.9 1364.1,562.6 1364.8,564.9 1365.6,561.2 1366.3,554.4 1367.5,567.9 1368.6,554.4 1369.6,569.4 1370.8,530.5 1372.0,558.9 1372.8,563.8 1373.5,572.4 1374.3,577.1 1375.0,578.4 1375.9,578.5 1376.8,581.4 1377.6,582.5 1378.3,581.4 1379.1,582.9 1379.8,585.1 1380.6,582.0 1381.3,584.4 1382.0,582.7 1382.8,578.4 1383.5,579.3 1384.3,582.9 1385.0,584.9 1385.8,583.0 1386.5,584.4 1387.3,586.9 1388.0,585.3 1388.8,587.4 1389.5,589.6 1390.3,587.2 1391.0,588.9 1391.8,588.8 1392.5,584.6 1393.3,584.4 1394.0,584.2 1394.8,580.2 1395.5,579.9 1396.3,581.2 1397.0,577.3 1397.8,578.4 1398.5,578.5 1399.3,575.2 1400.0,575.4 1400.8,575.7 1401.5,570.8 1402.3,570.9 1403.0,571.4 1403.8,567.1 1404.5,567.9 1405.3,567.6 1406.0,564.6 1406.8,564.9 1407.5,565.8 1408.3,562.7 1409.0,563.4 1409.8,563.8 1410.5,558.6 1411.3,558.9 1412.0,559.0 1412.8,555.5 1413.5,555.9 1414.3,559.0 1415.0,557.4 1415.8,560.4 1416.5,562.0 1417.3,559.8 1418.0,561.9 1418.8,563.5 1419.5,562.2 1420.3,563.4 1421.0,565.4 1421.8,563.0 1422.5,564.9 1423.3,563.0 1424.0,558.9 1424.8,556.2 1425.5,557.8 1426.3,554.4 1427.0,551.8 1427.7,553.5 1428.5,551.4 1429.2,548.9 1430.0,549.9 1430.6,547.0 1431.4,547.5 1432.3,545.4 1433.1,547.6 1433.9,551.9 1434.7,555.0 1435.5,555.2 1436.2,557.9 1436.9,565.7 1437.7,568.3 1438.5,558.6 1439.3,551.9 1440.3,552.6 1441.3,550.3 1442.1,550.3 1442.9,553.1 1443.7,553.6 1444.4,552.9 1445.1,555.4 1445.8,555.2 1446.6,555.8 1447.5,560.1 1448.3,555.4 1449.1,548.7 1450.1,545.7 1451.1,545.4 1451.9,551.0 1452.7,553.6 1453.5,547.9 1454.3,543.8 1455.0,538.1 1455.6,529.0 1456.8,538.9 1457.6,547.7 1458.4,558.5 1459.2,556.7 1460.1,553.6 1460.9,553.0 1461.7,555.2 1462.5,558.8 1463.3,560.1 1464.1,560.8 1465.0,565.0 1465.7,568.4 1466.4,568.7 1467.1,571.5 1468.1,570.5 1469.0,568.3 1469.9,557.9 1470.7,548.7 1471.5,554.0 1472.3,556.8 1473.1,561.0 1473.9,568.3 1474.8,565.1 1475.6,559.6 1476.4,556.8 1477.2,564.6 1478.0,569.9 1478.7,567.1 1479.5,569.6 1480.2,566.6 1481.1,564.1 1482.1,565.0 1483.1,568.1 1484.1,568.3 1484.8,567.5 1485.5,570.2 1486.2,569.9 1486.9,569.1 1487.6,571.8 1488.3,571.5 1489.3,572.2 1490.3,574.8 1491.1,577.0 1491.9,574.6 1492.7,576.5 1493.6,579.1 1494.4,577.4 1495.2,579.7 1496.0,581.8 1496.8,580.7 1497.7,583.0 1498.5,584.3 1499.3,582.1 1500.1,583.0 1500.9,580.6 1501.7,574.8 1502.7,572.1 1503.7,573.2 1504.4,575.1 1505.1,574.5 1505.8,576.5 1506.5,575.9 1507.2,570.6 1508.0,569.9 1508.9,571.6 1509.9,571.5 1510.7,569.1 1511.5,570.3 1512.4,568.3 1513.1,565.5 1513.8,567.5 1514.5,565.0 1515.5,564.6 1516.5,566.6 1517.3,564.2 1518.1,560.1 1519.1,560.6 1520.0,563.4 1520.8,562.9 1521.5,559.1 1522.2,558.5 1523.0,556.0 1523.8,551.9 1524.5,551.6 1525.2,554.5 1525.9,553.6 1526.9,554.2 1527.9,558.5 1528.9,561.0 1529.9,560.1 1530.6,559.3 1531.3,562.8 1532.0,561.7 1532.7,561.5 1533.4,563.7 1534.1,563.4 1535.1,564.3 1536.1,568.3 1536.9,563.9 1537.7,558.5 1538.5,557.0 1539.3,556.8 1540.2,560.9 1541.0,561.7 1541.8,560.1 1542.6,560.1 1543.4,559.3 1544.2,556.8 1545.1,563.4 1545.9,488.2 1546.7,561.7 1547.5,561.5 1548.3,563.4 1549.1,557.7 1550.0,548.7 1550.8,552.2 1551.6,556.8 1552.7,568.3 1553.5,570.0 1554.2,567.3 1554.9,568.3 1555.6,570.2 1556.3,568.2 1557.0,569.9 1557.8,566.6 1558.6,561.7 1559.6,559.1 1560.6,560.1 1561.4,557.6 1562.2,553.6 1563.0,545.4 1563.9,540.5 1564.7,550.4 1565.5,556.8 1566.3,556.5 1567.1,558.5 1568.1,562.8 1569.1,563.4 1569.7,561.1 1570.4,560.1 1571.2,562.5 1572.0,562.2 1572.9,565.0 1573.6,570.0 1574.3,572.1 1575.0,578.1 1576.0,576.1 1576.9,571.5 1577.9,565.8 1578.9,563.4 1579.6,567.0 1580.3,568.2 1581.0,571.5 1581.8,570.0 1582.7,565.0 1583.5,566.6 1584.3,569.9 1585.0,571.6 1585.7,570.3 1586.4,571.5 1587.4,575.4 1588.4,576.5 1589.2,575.8 1590.0,578.4 1590.8,578.1 1591.7,577.5 1592.5,579.1 1593.3,578.1 1594.1,575.9 1594.9,577.8 1595.7,576.5 1596.6,575.6 1597.4,577.8 1598.2,576.5 1599.0,574.5 1599.8,577.0 1600.6,574.8 1601.4,573.9 1602.1,577.6 1602.8,576.5 1603.8,574.9 1604.7,574.8 1605.5,577.7 1606.4,576.4 1607.2,578.1 1608.0,581.3 1608.8,583.0 1609.6,577.4 1610.5,573.2 1611.2,573.7 1611.9,569.8 1612.6,569.9 1613.6,569.3 1614.5,565.0 1615.4,563.7 1616.2,567.9 1617.0,566.6 1617.8,564.7 1618.6,566.6 1619.4,565.0 1620.3,564.3 1621.1,568.7 1621.9,568.3 1622.7,568.0 1623.5,570.7 1624.3,569.9 1625.3,563.6 1626.3,558.5 1627.0,561.2 1627.7,561.4 1628.4,565.0 1629.3,566.0 1630.1,562.2 1630.9,563.4 1631.7,562.5 1632.5,558.5 1633.5,556.9 1634.5,556.8 1635.2,559.5 1635.9,557.1 1636.6,560.1 1637.4,560.5 1638.2,556.7 1639.1,556.8 1639.9,557.0 1640.7,555.2 1641.7,559.4 1642.7,565.0 1643.4,565.3 1644.1,561.0 1644.8,561.7 1645.6,564.1 1646.4,565.0 1647.2,556.8 1648.1,551.9 1648.9,563.5 1649.7,571.5 1649.9,566.6 1650.7,568.9 1651.5,573.2 1652.4,570.8 1653.2,565.0 1654.0,565.9 1654.8,568.3 1655.6,566.8 1656.5,563.4 1657.3,561.2 1658.1,561.7 1658.9,565.9 1659.7,566.6 1660.5,561.3 1661.4,558.5 1662.2,558.3 1663.0,556.8 1663.8,560.8 1664.6,568.3 1665.4,566.3 1666.3,561.7 1667.1,557.7 1667.9,556.8 1668.7,553.6 1669.5,548.7 1670.3,545.2 1671.2,543.8 1672.0,543.6 1672.8,542.1 1673.6,546.2 1674.4,551.9 1675.3,555.5 1676.1,556.8 1676.9,559.8 1677.7,565.0 1678.5,565.6 1679.3,563.4 1680.2,565.0 1681.0,569.9 1681.8,568.5 1682.6,565.0 1683.4,562.4 1684.2,563.4 1685.1,565.6 1685.9,565.0 1686.9,561.5 1687.8,560.1 1688.7,564.2 1689.5,566.6 1690.1,566.4 1690.8,569.9 1691.6,567.3 1692.4,561.7 1693.2,559.5 1694.1,558.5 1694.9,563.2 1695.7,565.0 1696.5,565.6 1697.3,568.3 1698.1,571.0 1699.0,571.5 1699.8,570.8 1700.6,573.2 1701.4,574.9 1702.2,574.8 1703.0,576.3 1703.9,579.7 1704.7,582.6 1705.5,583.0 1706.3,580.4 1707.1,581.4 1707.9,583.7 1708.8,584.6 1709.6,583.8 1710.4,586.3 1711.2,585.3 1712.0,581.4 1712.9,582.2 1713.7,584.6 1714.5,587.7 1715.3,587.9 1716.0,586.9 1716.6,588.7 1717.0,588.7 1717,682.5 104,682.5" fill="#d8ad1e" fill-opacity="0.1" stroke="none"/><polygon points="104.0,582.9 104.2,582.9 105.0,611.6 106.1,588.7 106.9,593.5 107.6,600.1 108.4,599.5 109.2,596.3 109.8,599.0 110.5,603.9 111.2,602.4 111.8,598.2 112.6,595.8 113.4,596.3 114.1,595.0 114.9,592.5 115.8,591.9 116.8,592.5 117.5,601.8 118.1,607.7 119.1,590.6 119.8,587.7 120.6,586.8 121.3,596.2 121.9,603.9 122.9,586.8 123.7,583.9 124.4,584.8 125.2,587.3 125.9,585.7 126.7,588.7 127.4,589.4 128.1,586.3 128.8,588.0 129.6,586.8 130.3,585.8 131.0,589.4 131.7,586.9 132.4,588.7 133.1,589.7 133.9,586.2 134.6,587.9 135.3,586.8 136.2,586.1 137.2,588.7 137.9,589.5 138.6,586.7 139.3,587.8 140.1,586.8 140.8,585.0 141.5,588.0 142.2,585.2 142.9,586.8 143.6,589.4 144.2,588.7 145.4,609.6 146.3,606.2 147.3,605.8 148.3,602.9 149.2,596.3 150.2,598.1 151.1,602.0 151.9,601.7 152.6,597.0 153.4,596.3 154.2,597.5 154.9,593.3 155.7,594.4 156.5,593.8 157.3,591.1 158.2,590.6 159.0,592.7 159.8,591.3 160.7,594.4 161.4,594.3 162.2,590.4 162.9,590.6 163.9,590.6 164.8,588.7 165.8,583.6 166.8,581.0 167.5,581.5 168.3,578.7 169.0,579.1 169.9,581.1 170.7,579.1 171.5,581.0 172.5,581.9 173.4,579.1 174.4,580.5 175.3,584.8 176.3,589.5 177.2,590.6 178.2,586.0 179.2,584.8 180.0,588.0 180.8,585.9 181.6,588.7 182.4,590.1 183.2,588.2 183.9,590.6 184.6,592.4 185.4,588.8 186.1,591.9 186.8,590.6 187.5,590.5 188.2,594.3 188.9,593.2 189.6,596.3 190.4,588.1 191.2,577.2 191.8,553.4 192.5,529.5 193.2,527.6 193.8,527.6 195.0,558.1 195.7,574.1 196.3,588.7 197.3,592.7 198.2,600.1 199.2,599.1 200.1,594.4 201.1,594.7 202.0,596.3 202.9,596.7 203.7,592.6 204.5,592.5 205.3,595.8 206.0,596.6 206.8,600.1 207.5,599.8 208.2,594.6 209.0,595.0 209.7,592.5 210.4,590.6 211.1,592.2 211.8,589.5 212.5,590.6 213.2,591.1 214.0,587.9 214.7,591.0 215.4,588.7 216.1,587.9 216.8,591.5 217.5,589.1 218.3,590.6 219.0,590.8 219.7,588.2 220.4,589.8 221.1,588.7 221.8,587.4 222.5,588.8 223.3,585.9 224.0,586.8 224.7,587.1 225.4,585.2 226.1,587.0 226.8,584.8 227.6,584.3 228.3,587.6 229.0,584.5 229.7,586.8 230.4,587.4 231.1,584.6 231.8,586.6 232.6,584.8 233.3,582.9 234.0,585.3 234.7,582.1 235.4,582.9 236.1,583.9 236.8,580.2 237.6,582.8 238.3,581.0 239.0,579.9 239.7,582.6 240.4,580.1 241.1,581.0 241.9,581.4 242.7,577.9 243.4,579.1 244.2,578.5 245.0,575.3 245.9,576.9 246.9,581.0 247.6,581.6 248.3,579.9 249.0,582.4 249.7,581.0 250.4,580.4 251.2,582.4 251.9,579.6 252.6,581.0 253.3,583.1 254.0,582.5 254.7,586.5 255.4,586.8 256.2,584.8 256.9,586.8 257.6,583.8 258.3,584.8 259.0,586.9 259.7,585.2 260.5,586.9 261.2,586.8 261.9,585.3 262.6,588.6 263.3,585.9 264.0,586.8 264.7,588.9 265.5,587.3 266.2,590.6 266.9,590.6 267.6,589.0 268.3,590.6 269.0,588.1 269.8,588.7 270.5,589.5 271.2,586.7 271.9,588.3 272.6,586.8 273.3,584.7 274.0,586.4 274.8,584.0 275.5,584.8 276.2,586.4 276.9,583.9 277.6,585.7 278.3,584.8 279.0,583.7 279.8,586.7 280.5,585.5 281.2,586.8 281.9,588.9 282.6,587.2 283.3,590.3 284.1,590.6 285.0,591.5 286.0,594.4 286.9,594.4 287.9,592.5 288.8,581.3 289.8,573.4 290.7,570.7 291.7,565.8 292.6,566.9 293.6,571.5 294.5,592.5 295.5,595.2 296.5,596.3 297.2,595.8 297.9,598.7 298.6,596.0 299.3,598.2 300.0,599.8 300.7,598.3 301.5,600.4 302.2,600.1 302.9,600.7 303.6,604.7 304.3,604.2 305.0,607.7 306.0,607.5 306.9,603.9 307.7,602.2 308.4,603.0 309.1,599.4 309.8,600.1 310.5,601.5 311.2,598.5 311.9,601.1 312.7,600.1 313.4,599.8 314.1,602.0 314.8,599.9 315.5,602.0 316.2,602.5 317.0,600.0 317.7,601.7 318.4,600.1 319.1,598.5 319.8,600.3 320.5,596.9 321.2,598.2 322.0,599.0 322.7,597.6 323.4,600.0 324.1,598.2 325.1,594.6 326.0,594.4 327.0,593.4 327.9,588.7 328.9,589.4 329.8,592.5 330.5,600.1 331.4,600.0 332.4,596.3 333.4,597.3 334.3,602.0 335.3,599.1 336.2,594.4 337.2,591.9 338.1,592.5 339.1,592.3 340.0,588.7 341.0,586.3 341.9,586.8 342.6,588.0 343.4,585.8 344.1,587.8 344.8,586.8 345.5,586.4 346.2,588.4 346.9,586.8 347.7,588.7 348.6,591.5 349.6,592.5 350.2,599.4 350.9,609.6 351.7,599.8 352.4,588.7 353.2,586.3 354.0,588.9 354.7,586.8 355.5,583.7 356.4,586.0 357.2,582.9 358.1,583.1 359.1,586.8 360.1,594.8 361.0,600.1 362.0,594.8 362.9,590.6 363.9,590.2 364.8,586.8 365.8,588.8 366.7,592.5 367.4,593.0 368.2,590.1 368.9,592.3 369.6,590.6 370.3,588.5 371.0,590.5 371.7,586.3 372.5,586.8 373.2,585.9 373.9,582.0 374.6,582.7 375.3,579.1 376.3,577.0 377.2,577.2 378.0,579.5 378.7,577.5 379.5,579.1 380.3,579.3 381.2,576.6 382.0,577.2 382.9,580.8 383.9,581.0 384.8,586.0 385.8,592.5 386.6,595.4 387.5,593.2 388.3,596.3 389.0,599.2 389.8,597.2 390.6,600.1 391.5,597.8 392.5,594.4 393.2,592.5 393.9,595.1 394.6,592.3 395.3,592.5 396.3,594.4 397.2,594.4 398.2,588.7 399.2,584.8 400.0,585.5 400.8,582.4 401.6,582.9 402.4,584.8 403.2,582.6 403.9,584.8 404.6,585.9 405.4,585.2 406.1,587.0 406.8,586.8 407.5,587.0 408.2,589.3 408.9,587.8 409.6,590.6 410.4,594.2 411.2,594.4 411.9,592.4 412.7,593.1 413.5,590.6 414.2,589.1 414.9,590.6 415.6,588.1 416.3,588.7 417.1,589.5 418.0,586.0 418.8,586.8 419.6,588.4 420.3,587.2 421.1,588.7 422.0,590.6 423.0,590.6 423.9,589.8 424.9,590.6 425.9,589.0 426.8,584.8 427.5,583.3 428.2,585.9 429.0,584.2 429.7,584.8 430.4,585.7 431.1,583.8 431.8,586.2 432.5,584.8 433.2,582.8 434.0,585.0 434.7,581.8 435.4,582.9 436.1,583.9 436.8,580.8 437.5,582.6 438.3,581.0 439.2,581.7 440.2,584.8 440.9,586.8 441.6,584.7 442.3,587.8 443.0,586.8 443.7,585.6 444.5,587.7 445.2,585.5 445.9,586.8 446.6,587.3 447.3,584.2 448.0,585.0 448.7,582.9 449.5,581.3 450.2,583.7 450.9,579.7 451.6,581.0 452.3,581.6 453.0,578.3 453.7,581.2 454.5,579.1 455.4,577.3 456.4,577.2 457.3,576.5 458.3,573.4 459.0,573.1 459.7,576.0 460.4,573.4 461.1,575.3 462.1,575.2 463.0,571.5 464.0,560.1 465.0,571.5 465.7,570.4 466.4,573.9 467.1,571.4 467.8,573.4 468.8,577.6 469.7,579.1 470.4,577.9 471.2,579.5 471.9,577.1 472.6,577.2 473.3,578.5 474.0,576.6 474.7,579.3 475.4,579.1 476.2,578.9 476.9,580.8 477.6,578.8 478.3,581.0 479.0,581.4 479.7,579.5 480.5,581.3 481.2,579.1 481.9,579.3 482.6,582.7 483.3,580.5 484.0,582.9 485.0,579.9 485.9,573.4 486.9,576.3 487.8,582.9 488.8,587.1 489.8,588.7 490.7,587.0 491.7,588.7 492.4,589.8 493.1,588.0 493.8,591.3 494.5,590.6 495.2,590.0 495.9,593.2 496.7,591.9 497.4,594.4 498.3,598.1 499.3,598.2 500.0,596.1 500.7,596.3 501.4,592.6 502.1,592.5 502.9,595.1 503.6,593.5 504.3,596.1 505.0,596.3 505.7,596.3 506.4,599.6 507.2,597.6 507.9,600.1 508.6,601.7 509.3,600.0 510.0,602.6 510.7,602.0 511.4,601.5 512.2,604.1 512.9,602.8 513.6,603.9 514.3,606.1 515.0,604.0 515.7,607.9 516.5,607.7 517.2,606.6 517.9,609.5 518.6,607.7 519.3,609.6 520.0,612.2 520.7,610.1 521.5,613.8 522.2,613.5 522.9,611.8 523.6,613.9 524.3,610.3 525.0,611.6 525.8,612.8 526.5,611.8 527.2,614.5 527.9,613.5 528.6,611.7 529.3,614.7 530.0,612.3 530.8,613.5 531.5,615.0 532.2,612.6 532.9,614.4 533.6,613.5 534.6,610.7 535.5,609.6 536.3,608.4 537.1,603.6 537.8,602.0 538.6,603.5 539.5,601.8 540.3,603.9 541.0,604.8 541.7,601.1 542.4,602.6 543.2,600.1 543.9,599.0 544.6,601.8 545.3,598.8 546.0,600.1 546.7,603.4 547.4,604.0 548.2,607.9 548.9,609.6 549.5,611.6 550.5,604.6 551.4,600.1 552.2,600.7 552.9,598.4 553.6,599.7 554.3,598.2 555.0,596.2 555.7,597.9 556.5,594.6 557.2,594.4 557.9,596.3 558.6,593.2 559.3,595.8 560.0,594.4 560.7,592.7 561.5,595.1 562.2,591.3 562.9,592.5 563.6,593.8 564.3,591.3 565.0,594.0 565.7,592.5 566.7,591.7 567.7,594.4 568.6,598.3 569.6,600.1 570.5,595.7 571.5,594.4 572.2,596.7 572.9,594.1 573.6,596.7 574.3,596.3 575.3,595.4 576.2,596.3 577.0,605.4 577.8,611.6 578.4,602.5 579.1,596.3 580.1,597.2 581.0,594.4 581.7,592.2 582.4,594.3 583.2,592.1 583.9,592.5 584.6,593.4 585.3,591.7 586.0,594.0 586.7,592.5 587.4,591.2 588.2,595.2 588.9,593.0 589.6,594.4 590.3,595.6 591.0,592.4 591.7,594.1 592.5,592.5 593.2,591.4 593.9,594.1 594.6,593.2 595.3,594.4 596.0,595.1 596.7,591.5 597.5,592.6 598.2,590.6 599.1,588.3 600.1,588.7 601.0,593.0 602.0,594.4 602.9,575.3 603.9,574.7 604.8,575.3 605.6,575.9 606.3,573.2 607.0,575.1 607.7,573.4 608.4,573.5 609.1,576.7 609.9,574.4 610.6,577.2 611.3,578.8 612.0,576.9 612.7,579.4 613.4,579.1 614.1,578.2 614.9,580.6 615.6,578.4 616.3,579.1 617.2,582.8 618.2,582.9 619.2,583.1 620.1,586.8 620.8,587.9 621.5,585.9 622.3,589.3 623.0,588.7 623.7,586.1 624.4,588.3 625.1,584.8 625.8,584.8 626.8,585.4 627.7,582.9 628.7,584.4 629.6,588.7 630.6,591.3 631.6,590.6 632.3,588.7 633.0,590.2 633.7,585.9 634.4,586.8 635.1,587.7 635.8,584.5 636.6,586.0 637.3,584.8 638.0,583.1 638.7,584.9 639.4,581.9 640.1,582.9 640.8,583.0 641.6,578.8 642.3,579.5 643.0,577.2 643.7,576.7 644.4,580.5 645.1,579.3 645.9,581.0 646.6,583.3 647.3,580.5 648.0,583.2 648.7,582.9 649.7,577.3 650.6,575.3 651.3,576.1 652.1,574.3 652.8,576.8 653.5,575.3 654.2,574.4 654.9,577.6 655.6,575.3 656.3,577.2 657.3,578.4 658.3,577.2 659.2,575.3 660.2,575.3 661.1,574.2 662.1,571.5 662.8,570.4 663.5,572.1 664.2,568.5 664.9,569.6 665.6,569.9 666.4,566.1 667.1,567.8 667.8,565.8 668.5,564.4 669.2,565.9 669.9,562.6 670.7,563.9 671.4,565.0 672.1,563.6 672.8,566.2 673.5,565.8 674.5,566.1 675.4,569.6 676.4,564.9 677.3,558.1 678.0,556.2 678.8,557.3 679.5,554.0 680.2,554.3 681.1,555.0 682.1,552.4 683.0,556.2 684.0,562.0 685.0,568.4 685.9,571.5 686.9,562.2 687.8,554.3 688.8,563.8 689.7,571.5 690.4,570.8 691.2,572.2 691.9,569.9 692.6,571.5 693.5,568.3 694.5,562.0 695.4,564.0 696.4,567.7 697.4,573.3 698.3,577.2 699.3,573.2 700.2,571.5 701.2,575.9 702.1,577.2 703.1,571.7 704.0,569.6 704.7,569.7 705.5,565.4 706.2,566.1 706.9,563.9 707.8,562.8 708.8,563.9 709.5,565.6 710.2,564.5 710.9,568.1 711.7,567.7 712.6,567.8 713.6,569.6 714.5,573.4 715.5,575.3 716.2,574.7 716.9,577.8 717.6,576.5 718.3,579.1 719.0,580.4 719.8,576.3 720.5,578.8 721.2,577.2 722.1,576.9 723.1,579.1 723.8,580.9 724.5,578.7 725.2,582.4 726.0,581.0 726.7,580.5 727.4,583.9 728.1,582.2 728.8,584.8 729.5,586.5 730.3,584.4 731.0,587.8 731.7,586.8 732.4,586.7 733.1,589.3 733.8,586.7 734.5,588.7 735.3,589.9 736.0,587.4 736.7,589.8 737.4,588.7 738.1,587.8 738.8,589.9 739.6,588.0 740.3,588.7 741.0,588.5 741.7,584.4 742.4,585.5 743.1,582.9 743.8,581.6 744.6,584.8 745.3,581.2 746.0,582.9 746.9,584.6 747.9,584.8 748.8,581.3 749.8,581.0 750.5,581.0 751.2,577.5 751.9,577.8 752.7,575.3 753.4,574.9 754.1,576.9 754.8,575.5 755.5,577.2 756.3,579.0 757.1,576.2 757.8,578.9 758.6,575.7 759.3,577.2 760.1,578.4 760.8,576.5 761.5,580.0 762.2,579.1 762.9,576.4 763.6,578.7 764.3,574.7 765.1,575.3 765.8,576.0 766.6,573.0 767.3,576.1 768.1,572.3 768.9,573.6 768.9,573.4 769.8,574.0 770.6,570.8 771.5,571.9 772.4,572.5 773.3,570.0 774.2,570.1 775.0,570.1 775.9,568.2 776.8,568.3 777.7,569.2 778.6,567.5 779.5,568.3 780.4,569.6 781.2,566.8 782.1,568.3 783.0,569.0 783.9,566.0 784.8,566.6 785.7,567.4 786.6,564.4 787.4,564.8 788.3,565.1 789.2,563.0 790.0,563.2 790.7,567.7 791.5,568.3 792.2,568.1 792.9,571.3 793.6,570.1 794.5,565.9 795.4,564.8 796.3,566.7 797.2,566.6 797.9,567.9 798.6,572.6 799.3,573.6 800.1,571.7 800.8,573.3 801.6,571.9 802.5,571.3 803.4,572.7 804.3,571.9 805.0,572.0 805.7,576.2 806.4,577.2 807.1,579.5 807.8,584.3 808.7,586.9 809.6,587.0 810.5,589.6 811.3,591.6 812.2,590.8 813.1,593.1 814.0,593.3 814.9,591.3 815.8,591.3 816.7,592.1 817.5,590.6 818.4,591.3 819.1,593.2 819.8,591.9 820.6,593.1 821.6,610.8 822.2,621.8 822.9,632.1 823.5,638.4 824.1,646.2 825.0,645.2 825.9,642.7 826.6,640.6 827.4,640.7 828.2,639.2 828.9,637.3 829.7,637.5 830.5,635.6 831.2,636.4 831.9,639.1 832.6,639.2 833.5,638.0 834.4,638.4 835.2,637.4 836.1,637.8 837.0,640.2 837.9,640.9 838.8,640.0 839.7,641.6 840.6,640.9 841.4,640.5 842.3,641.3 843.2,640.9 844.1,639.1 845.0,639.2 845.9,642.4 846.8,644.5 847.6,644.0 848.5,646.4 849.4,646.2 850.3,645.1 851.2,646.8 852.1,646.2 853.0,646.3 853.8,648.0 854.7,648.0 855.6,645.8 856.5,646.5 857.4,644.5 858.3,644.4 859.2,646.1 860.0,646.2 860.9,643.5 861.8,642.7 862.7,648.3 863.6,651.5 864.3,647.1 865.1,644.8 865.9,640.9 866.6,639.9 867.3,640.2 868.0,639.2 868.7,638.6 869.4,639.5 870.1,639.2 870.9,637.6 871.7,637.7 872.4,635.6 873.3,633.9 874.2,635.0 875.1,633.8 876.0,632.7 876.9,634.6 877.7,633.8 878.6,633.4 879.5,636.1 880.4,635.6 881.3,632.7 882.2,632.1 883.1,633.6 883.9,633.8 884.8,635.6 885.7,634.7 886.6,630.9 887.5,630.3 888.4,630.7 889.2,629.7 890.1,630.3 891.0,631.4 891.9,629.8 892.8,630.3 893.7,630.4 894.6,628.5 895.4,628.5 896.3,628.9 897.2,626.2 898.1,626.8 899.0,626.4 899.9,625.0 900.8,627.5 901.6,632.1 902.5,631.9 903.4,628.6 904.3,628.5 905.2,629.4 906.1,627.4 907.0,628.5 907.8,628.6 908.7,626.6 909.6,626.8 910.5,625.5 911.4,623.2 912.3,622.2 913.2,624.0 914.0,623.2 914.9,622.6 915.8,623.7 916.7,623.2 917.6,622.2 918.5,624.1 919.3,623.2 920.2,622.3 921.1,623.2 922.0,623.0 922.9,621.4 924.0,610.8 925.0,625.0 925.8,624.8 926.5,626.7 927.3,626.8 928.2,627.0 929.1,629.5 930.0,630.3 930.9,630.0 931.7,632.2 932.6,630.7 933.5,632.1 934.4,633.0 935.3,632.4 936.2,634.5 937.1,633.8 937.9,633.4 938.8,635.8 939.7,634.1 940.6,635.6 941.5,636.8 942.4,635.4 943.3,637.9 944.1,637.4 945.0,636.7 945.9,638.1 946.8,637.0 947.7,637.4 948.6,638.1 949.4,636.2 950.3,637.8 951.2,637.4 952.1,637.1 953.0,639.0 953.9,639.2 954.8,639.3 955.6,641.2 956.5,640.9 957.4,639.9 958.3,640.4 959.2,639.1 960.1,639.2 961.0,639.5 961.8,637.1 962.7,637.4 963.6,637.7 964.5,636.8 965.4,637.4 966.3,638.1 967.2,635.9 968.0,636.9 968.9,635.6 969.8,633.1 970.7,633.1 971.6,630.3 972.5,627.7 973.3,627.8 974.2,625.0 975.1,624.8 976.0,626.7 976.9,626.8 977.8,626.8 978.7,628.4 979.5,628.5 980.4,627.5 981.3,629.0 982.2,628.5 983.1,628.1 984.0,629.7 984.9,628.5 985.7,629.2 986.6,632.0 987.5,632.1 988.3,632.2 989.2,634.0 990.0,633.8 990.5,635.6 991.5,636.3 992.5,638.2 993.2,646.5 993.8,652.7 994.5,644.6 995.1,638.2 996.1,637.1 997.1,634.3 998.0,632.8 998.9,634.5 999.8,632.9 1000.6,631.4 1001.5,632.0 1002.4,630.3 1003.4,631.5 1004.4,634.3 1005.2,634.7 1006.0,633.2 1006.8,635.1 1007.7,634.3 1008.5,632.5 1009.3,633.5 1010.1,631.5 1011.0,631.6 1011.8,632.7 1012.6,631.3 1013.4,633.0 1014.3,632.9 1015.0,632.3 1015.8,633.7 1016.6,632.5 1017.4,633.8 1018.2,632.9 1019.0,631.3 1019.8,632.3 1020.7,630.1 1021.5,630.3 1022.3,630.5 1023.1,628.4 1024.0,629.0 1024.8,627.7 1025.6,626.7 1026.4,628.8 1027.2,627.7 1028.0,629.1 1028.7,629.0 1029.5,628.7 1030.3,630.0 1031.1,628.6 1031.9,631.0 1032.7,630.3 1033.5,628.7 1034.3,630.4 1035.1,627.8 1035.9,629.3 1036.6,627.7 1037.6,628.2 1038.6,630.3 1039.3,635.0 1039.9,638.2 1040.9,635.1 1041.9,634.3 1042.7,634.8 1043.5,632.0 1044.3,633.4 1045.1,631.1 1045.9,631.6 1046.7,632.3 1047.4,630.4 1048.2,632.7 1049.0,631.0 1049.8,631.6 1050.6,631.4 1051.5,628.5 1052.3,628.1 1053.1,626.3 1054.0,625.4 1054.9,627.0 1055.7,626.3 1056.7,627.5 1057.7,630.3 1058.6,632.5 1059.5,632.5 1060.4,634.3 1061.2,636.6 1062.1,636.3 1063.0,638.2 1063.9,639.8 1064.7,639.3 1065.6,640.8 1066.4,642.3 1067.2,640.9 1068.0,643.0 1068.8,642.5 1069.6,643.5 1070.4,644.3 1071.2,643.3 1072.0,644.7 1072.7,644.0 1073.5,644.8 1074.3,645.0 1075.1,642.3 1075.9,643.6 1076.7,640.4 1077.5,640.8 1078.3,641.7 1079.1,639.6 1079.9,640.5 1080.6,639.2 1081.4,639.5 1082.2,640.3 1083.0,638.7 1083.8,640.3 1084.6,638.9 1085.4,639.5 1086.2,640.9 1087.0,639.4 1087.8,641.1 1088.5,639.5 1089.3,640.8 1090.2,642.8 1091.1,642.0 1092.0,643.5 1092.9,642.7 1093.7,639.8 1094.6,639.5 1095.4,639.6 1096.2,638.5 1097.0,639.5 1097.8,637.7 1098.6,638.2 1099.4,638.7 1100.1,637.8 1100.9,638.7 1101.7,637.2 1102.5,638.2 1103.3,639.0 1104.1,637.0 1104.9,639.2 1105.7,637.0 1106.5,638.2 1107.3,638.6 1108.1,637.7 1108.9,638.6 1109.8,638.2 1110.6,637.8 1111.4,639.5 1112.2,638.8 1113.1,639.5 1113.9,640.7 1114.7,639.7 1115.5,641.1 1116.3,640.8 1117.2,639.6 1118.0,640.6 1118.8,638.2 1119.6,638.2 1120.4,638.5 1121.2,637.3 1122.0,638.1 1122.8,636.3 1123.6,636.9 1124.4,637.5 1125.2,635.2 1126.0,637.1 1126.8,635.3 1127.5,635.6 1128.4,635.7 1129.2,633.9 1130.0,635.6 1130.8,634.3 1131.8,627.5 1132.8,622.4 1133.8,629.4 1134.8,634.3 1135.6,633.8 1136.4,635.5 1137.3,634.7 1138.1,635.6 1139.1,633.3 1140.1,630.3 1140.9,629.7 1141.7,632.1 1142.5,630.2 1143.4,631.6 1144.2,633.7 1145.1,633.3 1146.0,635.6 1146.8,637.0 1147.6,635.1 1148.4,637.2 1149.1,635.9 1149.9,636.9 1150.7,637.7 1151.5,636.4 1152.3,637.4 1153.1,636.0 1153.9,636.9 1154.7,638.3 1155.5,636.6 1156.3,638.4 1157.1,637.3 1157.8,638.2 1158.6,638.9 1159.4,637.2 1160.2,638.9 1161.0,637.0 1161.8,638.2 1162.6,638.7 1163.4,637.6 1164.2,639.0 1165.0,637.5 1165.7,638.2 1166.5,639.3 1167.3,637.1 1168.1,639.3 1168.9,637.3 1169.7,638.2 1170.5,638.9 1171.3,637.9 1172.1,639.8 1172.9,638.5 1173.7,639.5 1174.4,639.9 1175.2,638.0 1176.0,639.9 1176.8,638.0 1177.6,638.2 1178.4,639.1 1179.2,637.5 1180.0,639.0 1180.8,637.1 1181.6,638.2 1182.2,638.1 1182.9,635.6 1183.7,634.4 1184.5,635.6 1185.2,633.6 1186.0,635.0 1186.8,634.3 1187.6,633.6 1188.4,635.3 1189.2,633.6 1190.0,634.8 1190.8,634.3 1191.6,633.1 1192.4,635.4 1193.1,633.6 1193.9,634.9 1194.7,634.3 1195.5,633.7 1196.3,634.7 1197.1,633.7 1197.9,635.4 1198.7,634.3 1199.4,633.7 1200.2,634.6 1200.9,633.4 1201.7,634.3 1202.4,633.0 1203.2,634.7 1203.9,633.6 1204.7,632.6 1205.5,634.6 1206.2,632.8 1207.0,634.3 1207.7,633.4 1208.5,635.3 1209.3,633.8 1210.0,634.3 1210.5,634.3 1211.4,634.2 1212.3,632.2 1213.2,632.3 1214.1,633.5 1214.9,632.8 1215.8,634.3 1216.6,634.9 1217.4,634.2 1218.2,636.2 1219.0,634.8 1219.8,635.6 1220.6,635.7 1221.4,633.1 1222.2,633.8 1223.1,631.6 1223.8,630.9 1224.6,633.0 1225.4,631.8 1226.1,632.9 1226.9,631.7 1227.7,632.9 1228.5,633.2 1229.2,631.9 1230.0,633.2 1230.8,630.8 1231.6,631.6 1232.4,631.7 1233.3,629.8 1234.1,631.4 1234.9,630.3 1235.8,628.7 1236.7,629.0 1237.5,627.7 1238.5,628.3 1239.5,630.3 1240.4,631.9 1241.3,630.6 1242.2,631.6 1243.0,631.8 1243.8,630.5 1244.6,631.1 1245.4,630.3 1246.3,630.3 1247.1,632.7 1247.9,631.9 1248.7,632.9 1249.6,633.1 1250.4,631.1 1251.2,633.1 1252.0,631.6 1252.9,630.8 1253.7,632.8 1254.5,631.9 1255.3,632.9 1256.1,634.4 1256.9,632.7 1257.7,634.7 1258.5,633.4 1259.3,634.3 1260.1,634.8 1260.9,633.9 1261.7,635.6 1262.4,633.8 1263.2,634.9 1264.0,635.7 1264.8,634.2 1265.6,635.7 1266.4,634.2 1267.2,634.9 1268.0,635.6 1268.8,633.6 1269.6,635.0 1270.3,633.5 1271.1,634.3 1272.0,636.7 1272.9,635.8 1273.8,638.2 1274.6,639.5 1275.4,638.6 1276.1,641.6 1276.9,640.9 1277.7,642.2 1278.6,643.6 1279.5,643.4 1280.4,644.8 1281.2,642.6 1282.1,638.3 1283.0,636.9 1283.8,637.9 1284.6,636.5 1285.5,638.3 1286.3,638.2 1287.2,637.4 1288.0,638.4 1288.9,636.9 1289.6,639.8 1290.2,644.8 1291.1,646.0 1291.9,643.9 1292.7,645.6 1293.5,644.8 1294.4,642.9 1295.3,643.5 1296.2,642.2 1297.0,641.3 1297.7,642.9 1298.5,641.7 1299.3,643.0 1300.1,642.2 1300.9,641.8 1301.7,643.5 1302.5,642.3 1303.3,643.8 1304.1,643.5 1304.9,642.0 1305.7,642.8 1306.4,639.9 1307.2,641.5 1308.0,639.5 1308.8,638.4 1309.6,640.6 1310.4,638.9 1311.2,640.7 1312.0,639.5 1312.8,638.7 1313.6,639.5 1314.3,637.9 1315.1,639.4 1315.9,638.2 1316.7,637.3 1317.5,638.6 1318.3,636.8 1319.1,638.3 1319.9,636.9 1320.8,634.8 1321.6,635.0 1322.5,632.9 1323.3,632.4 1324.1,634.6 1324.9,632.5 1325.7,634.8 1326.5,634.3 1327.3,633.4 1328.0,634.9 1328.8,633.4 1329.6,634.4 1330.4,633.6 1331.2,632.4 1332.0,634.3 1332.8,632.8 1333.6,634.1 1334.4,632.9 1335.2,632.5 1336.0,634.6 1336.7,633.1 1337.5,634.5 1338.3,634.3 1339.1,633.6 1340.0,635.7 1340.8,634.0 1341.6,634.9 1342.4,635.2 1343.3,632.3 1344.1,633.1 1344.9,631.6 1345.7,630.2 1346.5,630.8 1347.3,628.5 1348.1,629.1 1348.9,627.7 1349.7,626.8 1350.4,628.8 1351.2,626.8 1352.0,628.1 1352.8,627.7 1353.7,627.1 1354.6,628.3 1355.4,627.7 1356.4,630.1 1357.4,634.3 1358.2,635.1 1359.1,634.5 1359.9,635.9 1360.7,635.6 1361.5,635.0 1362.3,636.0 1363.1,634.8 1363.9,636.7 1364.7,635.6 1365.5,635.0 1366.2,637.1 1367.0,635.3 1367.8,637.7 1368.6,636.9 1369.6,633.1 1370.6,631.6 1371.6,634.3 1372.6,635.6 1373.4,634.5 1374.2,635.8 1374.9,634.1 1375.7,635.7 1376.5,634.9 1377.3,634.2 1378.0,636.2 1378.8,634.6 1379.5,635.8 1380.3,634.3 1381.0,636.3 1381.8,635.6 1382.5,635.1 1383.3,636.0 1384.1,634.9 1384.8,635.9 1385.6,634.5 1386.3,636.1 1387.1,635.6 1387.8,635.0 1388.6,636.3 1389.3,634.8 1390.1,636.3 1390.8,634.7 1391.6,636.5 1392.3,635.6 1393.1,634.8 1393.8,636.0 1394.6,634.4 1395.3,636.5 1396.1,635.1 1396.8,636.3 1397.6,635.6 1398.3,637.9 1398.9,642.2 1399.7,642.8 1400.5,640.7 1401.3,640.9 1402.1,639.3 1402.9,639.5 1403.7,640.2 1404.5,638.4 1405.2,640.6 1406.0,638.9 1406.8,639.5 1407.6,640.2 1408.4,638.7 1409.2,640.6 1410.0,639.0 1410.8,639.5 1411.6,639.7 1412.4,638.0 1413.1,638.8 1413.9,637.0 1414.7,636.9 1415.6,639.0 1416.4,638.1 1417.2,640.7 1418.0,640.8 1419.0,637.1 1420.0,634.3 1420.8,634.7 1421.6,633.2 1422.4,634.9 1423.2,632.9 1423.9,633.6 1424.7,634.1 1425.5,632.2 1426.2,634.3 1427.0,632.5 1427.7,633.7 1428.5,632.5 1429.3,634.1 1430.0,632.9 1430.5,632.9 1431.4,632.0 1432.3,632.9 1433.2,631.6 1434.0,631.1 1434.8,633.1 1435.5,631.8 1436.3,634.3 1437.1,633.6 1438.0,632.7 1438.9,635.0 1439.8,634.3 1440.7,631.7 1441.7,630.3 1442.6,630.7 1443.4,629.6 1444.2,630.9 1445.0,630.3 1445.9,629.9 1446.7,631.7 1447.5,630.3 1448.3,631.0 1449.1,631.5 1450.0,628.8 1450.8,629.9 1451.6,629.0 1452.5,627.4 1453.4,628.8 1454.3,627.7 1454.9,624.5 1455.6,622.4 1456.6,624.2 1457.5,625.0 1458.5,627.3 1459.5,630.3 1460.3,631.6 1461.1,630.7 1461.9,633.0 1462.7,631.3 1463.5,632.9 1464.3,633.6 1465.1,632.8 1465.8,634.4 1466.6,633.5 1467.4,634.3 1468.2,634.3 1469.1,632.7 1469.9,633.7 1470.7,632.3 1471.5,632.5 1472.4,634.4 1473.2,634.2 1474.0,635.6 1474.8,636.8 1475.6,635.8 1476.4,637.7 1477.2,636.7 1478.0,638.2 1478.8,638.7 1479.5,637.3 1480.3,639.1 1481.1,637.7 1481.9,638.2 1482.7,639.5 1483.5,638.0 1484.3,639.8 1485.1,638.4 1485.9,639.5 1486.9,640.7 1487.8,640.2 1488.5,636.8 1489.2,634.9 1489.9,635.4 1490.7,634.1 1491.5,636.3 1492.2,634.6 1493.0,636.3 1493.8,635.6 1494.5,635.0 1495.3,636.7 1496.0,634.6 1496.8,636.1 1497.5,634.5 1498.3,636.8 1499.0,635.6 1499.9,635.8 1500.8,638.5 1501.7,638.2 1502.6,636.6 1503.4,637.0 1504.3,635.6 1505.1,634.5 1506.0,636.0 1506.8,634.3 1507.6,636.1 1508.4,634.7 1509.3,635.9 1510.1,633.9 1510.9,634.9 1511.7,636.6 1512.5,635.9 1513.3,638.8 1514.1,637.9 1514.8,639.5 1515.7,639.2 1516.6,636.5 1517.5,636.2 1518.3,637.4 1519.1,636.0 1519.9,637.1 1520.6,635.8 1521.4,636.9 1522.2,637.3 1523.0,635.5 1523.8,636.8 1524.6,634.2 1525.4,634.9 1526.2,636.9 1527.0,636.0 1527.9,639.4 1528.7,639.5 1529.7,636.2 1530.7,634.9 1531.4,635.5 1532.2,634.5 1532.9,635.8 1533.7,633.9 1534.4,635.6 1535.2,634.1 1535.9,634.9 1536.7,635.6 1537.5,634.1 1538.3,635.5 1539.1,633.6 1539.9,634.3 1540.7,635.1 1541.5,634.1 1542.3,635.5 1543.0,634.1 1543.8,634.9 1544.8,629.3 1545.8,621.7 1546.5,627.8 1547.1,634.9 1547.9,635.3 1548.8,633.7 1549.6,634.6 1550.4,633.6 1551.2,633.0 1552.0,634.6 1552.8,634.0 1553.6,635.4 1554.4,634.9 1555.2,634.0 1556.0,634.9 1556.7,633.2 1557.5,633.8 1558.3,632.9 1559.1,631.7 1559.9,633.2 1560.6,630.5 1561.4,632.0 1562.2,630.0 1562.9,630.3 1563.8,631.2 1564.6,630.7 1565.4,632.4 1566.2,632.3 1567.0,631.3 1567.7,633.1 1568.5,631.7 1569.2,633.8 1570.0,632.5 1570.7,634.0 1571.5,633.6 1572.3,633.3 1573.1,636.0 1573.9,635.5 1574.7,638.1 1575.4,638.2 1576.2,637.0 1577.0,637.4 1577.8,635.0 1578.6,636.6 1579.4,634.9 1580.2,634.9 1581.0,637.9 1581.8,637.2 1582.6,639.5 1583.4,639.5 1584.1,638.7 1584.9,640.4 1585.6,639.3 1586.4,641.5 1587.1,639.8 1587.9,641.7 1588.6,640.8 1589.4,640.6 1590.2,642.3 1591.0,641.0 1591.8,642.7 1592.6,642.2 1593.4,641.0 1594.2,642.2 1594.9,639.6 1595.7,640.8 1596.5,639.5 1597.3,638.8 1598.1,640.8 1598.9,639.3 1599.7,641.2 1600.5,640.8 1601.3,640.5 1602.1,642.7 1602.8,641.7 1603.6,643.3 1604.4,643.5 1605.2,643.5 1606.0,645.4 1606.8,644.5 1607.6,646.6 1608.4,646.1 1609.2,644.8 1610.0,646.2 1610.8,643.5 1611.5,645.0 1612.3,643.5 1613.1,642.6 1613.8,643.5 1614.6,642.1 1615.3,643.7 1616.1,641.4 1616.8,642.9 1617.6,642.2 1618.4,641.3 1619.2,642.7 1620.1,640.2 1620.9,640.8 1621.6,639.0 1622.2,635.6 1623.0,634.4 1623.9,635.7 1624.7,634.3 1625.5,634.9 1626.3,636.0 1627.1,634.3 1627.9,635.8 1628.7,635.0 1629.5,635.6 1630.2,635.9 1631.0,633.4 1631.8,634.5 1632.6,633.1 1633.4,632.9 1634.2,633.7 1634.9,632.7 1635.7,634.8 1636.4,633.7 1637.2,636.0 1637.9,634.3 1638.7,635.6 1639.5,635.9 1640.3,634.1 1641.1,635.1 1641.8,633.9 1642.6,634.3 1643.5,635.3 1644.3,634.0 1645.1,635.1 1645.9,634.0 1646.7,635.6 1647.6,634.0 1648.4,635.7 1649.2,634.4 1650.0,635.6 1650.6,635.9 1651.6,638.4 1652.5,639.6 1653.2,638.1 1654.0,639.3 1654.7,637.2 1655.4,638.2 1656.2,637.1 1656.9,635.8 1657.7,636.4 1658.4,633.9 1659.2,634.8 1659.9,633.4 1660.6,633.1 1661.4,634.6 1662.1,633.7 1662.9,635.0 1663.6,634.6 1664.4,633.4 1665.3,634.6 1666.1,633.4 1666.9,631.7 1667.7,632.4 1668.6,630.9 1669.4,629.7 1670.2,629.7 1671.0,628.5 1672.0,626.0 1672.9,624.7 1673.8,627.1 1674.7,628.5 1675.5,628.0 1676.2,629.8 1677.0,628.6 1677.7,630.8 1678.5,630.3 1679.2,629.8 1679.9,632.0 1680.7,630.6 1681.4,632.5 1682.2,632.2 1682.9,631.7 1683.7,632.8 1684.4,631.5 1685.1,633.4 1685.9,632.8 1686.6,632.7 1687.4,634.7 1688.1,633.0 1688.9,635.2 1689.6,634.6 1690.3,633.7 1691.1,634.6 1691.8,632.7 1692.6,634.2 1693.3,633.4 1694.0,632.9 1694.8,634.9 1695.5,633.3 1696.3,634.7 1697.0,634.0 1697.8,633.9 1698.5,635.8 1699.2,634.7 1700.0,637.2 1700.7,637.1 1701.5,637.5 1702.2,639.4 1703.0,639.0 1703.7,641.0 1704.4,640.8 1705.2,640.2 1705.9,642.9 1706.7,641.9 1707.4,643.7 1708.2,643.3 1708.9,642.9 1709.6,644.6 1710.4,643.4 1711.1,644.9 1711.9,644.5 1712.7,644.3 1713.5,645.8 1714.3,645.2 1715.2,645.3 1716.0,647.6 1716.8,647.0 1717.0,647.0 1717,682.5 104,682.5" fill="#549c44" fill-opacity="0.1" stroke="none"/>
<polyline points="104.0,582.9 104.2,582.9 105.0,611.6 106.1,588.7 106.9,593.5 107.6,600.1 108.4,599.5 109.2,596.3 109.8,599.0 110.5,603.9 111.2,602.4 111.8,598.2 112.6,595.8 113.4,596.3 114.1,595.0 114.9,592.5 115.8,591.9 116.8,592.5 117.5,601.8 118.1,607.7 119.1,590.6 119.8,587.7 120.6,586.8 121.3,596.2 121.9,603.9 122.9,586.8 123.7,583.9 124.4,584.8 125.2,587.3 125.9,585.7 126.7,588.7 127.4,589.4 128.1,586.3 128.8,588.0 129.6,586.8 130.3,585.8 131.0,589.4 131.7,586.9 132.4,588.7 133.1,589.7 133.9,586.2 134.6,587.9 135.3,586.8 136.2,586.1 137.2,588.7 137.9,589.5 138.6,586.7 139.3,587.8 140.1,586.8 140.8,585.0 141.5,588.0 142.2,585.2 142.9,586.8 143.6,589.4 144.2,588.7 145.4,609.6 146.3,606.2 147.3,605.8 148.3,602.9 149.2,596.3 150.2,598.1 151.1,602.0 151.9,601.7 152.6,597.0 153.4,596.3 154.2,597.5 154.9,593.3 155.7,594.4 156.5,593.8 157.3,591.1 158.2,590.6 159.0,592.7 159.8,591.3 160.7,594.4 161.4,594.3 162.2,590.4 162.9,590.6 163.9,590.6 164.8,588.7 165.8,583.6 166.8,581.0 167.5,581.5 168.3,578.7 169.0,579.1 169.9,581.1 170.7,579.1 171.5,581.0 172.5,581.9 173.4,579.1 174.4,580.5 175.3,584.8 176.3,589.5 177.2,590.6 178.2,586.0 179.2,584.8 180.0,588.0 180.8,585.9 181.6,588.7 182.4,590.1 183.2,588.2 183.9,590.6 184.6,592.4 185.4,588.8 186.1,591.9 186.8,590.6 187.5,590.5 188.2,594.3 188.9,593.2 189.6,596.3 190.4,588.1 191.2,577.2 191.8,553.4 192.5,529.5 193.2,527.6 193.8,527.6 195.0,558.1 195.7,574.1 196.3,588.7 197.3,592.7 198.2,600.1 199.2,599.1 200.1,594.4 201.1,594.7 202.0,596.3 202.9,596.7 203.7,592.6 204.5,592.5 205.3,595.8 206.0,596.6 206.8,600.1 207.5,599.8 208.2,594.6 209.0,595.0 209.7,592.5 210.4,590.6 211.1,592.2 211.8,589.5 212.5,590.6 213.2,591.1 214.0,587.9 214.7,591.0 215.4,588.7 216.1,587.9 216.8,591.5 217.5,589.1 218.3,590.6 219.0,590.8 219.7,588.2 220.4,589.8 221.1,588.7 221.8,587.4 222.5,588.8 223.3,585.9 224.0,586.8 224.7,587.1 225.4,585.2 226.1,587.0 226.8,584.8 227.6,584.3 228.3,587.6 229.0,584.5 229.7,586.8 230.4,587.4 231.1,584.6 231.8,586.6 232.6,584.8 233.3,582.9 234.0,585.3 234.7,582.1 235.4,582.9 236.1,583.9 236.8,580.2 237.6,582.8 238.3,581.0 239.0,579.9 239.7,582.6 240.4,580.1 241.1,581.0 241.9,581.4 242.7,577.9 243.4,579.1 244.2,578.5 245.0,575.3 245.9,576.9 246.9,581.0 247.6,581.6 248.3,579.9 249.0,582.4 249.7,581.0 250.4,580.4 251.2,582.4 251.9,579.6 252.6,581.0 253.3,583.1 254.0,582.5 254.7,586.5 255.4,586.8 256.2,584.8 256.9,586.8 257.6,583.8 258.3,584.8 259.0,586.9 259.7,585.2 260.5,586.9 261.2,586.8 261.9,585.3 262.6,588.6 263.3,585.9 264.0,586.8 264.7,588.9 265.5,587.3 266.2,590.6 266.9,590.6 267.6,589.0 268.3,590.6 269.0,588.1 269.8,588.7 270.5,589.5 271.2,586.7 271.9,588.3 272.6,586.8 273.3,584.7 274.0,586.4 274.8,584.0 275.5,584.8 276.2,586.4 276.9,583.9 277.6,585.7 278.3,584.8 279.0,583.7 279.8,586.7 280.5,585.5 281.2,586.8 281.9,588.9 282.6,587.2 283.3,590.3 284.1,590.6 285.0,591.5 286.0,594.4 286.9,594.4 287.9,592.5 288.8,581.3 289.8,573.4 290.7,570.7 291.7,565.8 292.6,566.9 293.6,571.5 294.5,592.5 295.5,595.2 296.5,596.3 297.2,595.8 297.9,598.7 298.6,596.0 299.3,598.2 300.0,599.8 300.7,598.3 301.5,600.4 302.2,600.1 302.9,600.7 303.6,604.7 304.3,604.2 305.0,607.7 306.0,607.5 306.9,603.9 307.7,602.2 308.4,603.0 309.1,599.4 309.8,600.1 310.5,601.5 311.2,598.5 311.9,601.1 312.7,600.1 313.4,599.8 314.1,602.0 314.8,599.9 315.5,602.0 316.2,602.5 317.0,600.0 317.7,601.7 318.4,600.1 319.1,598.5 319.8,600.3 320.5,596.9 321.2,598.2 322.0,599.0 322.7,597.6 323.4,600.0 324.1,598.2 325.1,594.6 326.0,594.4 327.0,593.4 327.9,588.7 328.9,589.4 329.8,592.5 330.5,600.1 331.4,600.0 332.4,596.3 333.4,597.3 334.3,602.0 335.3,599.1 336.2,594.4 337.2,591.9 338.1,592.5 339.1,592.3 340.0,588.7 341.0,586.3 341.9,586.8 342.6,588.0 343.4,585.8 344.1,587.8 344.8,586.8 345.5,586.4 346.2,588.4 346.9,586.8 347.7,588.7 348.6,591.5 349.6,592.5 350.2,599.4 350.9,609.6 351.7,599.8 352.4,588.7 353.2,586.3 354.0,588.9 354.7,586.8 355.5,583.7 356.4,586.0 357.2,582.9 358.1,583.1 359.1,586.8 360.1,594.8 361.0,600.1 362.0,594.8 362.9,590.6 363.9,590.2 364.8,586.8 365.8,588.8 366.7,592.5 367.4,593.0 368.2,590.1 368.9,592.3 369.6,590.6 370.3,588.5 371.0,590.5 371.7,586.3 372.5,586.8 373.2,585.9 373.9,582.0 374.6,582.7 375.3,579.1 376.3,577.0 377.2,577.2 378.0,579.5 378.7,577.5 379.5,579.1 380.3,579.3 381.2,576.6 382.0,577.2 382.9,580.8 383.9,581.0 384.8,586.0 385.8,592.5 386.6,595.4 387.5,593.2 388.3,596.3 389.0,599.2 389.8,597.2 390.6,600.1 391.5,597.8 392.5,594.4 393.2,592.5 393.9,595.1 394.6,592.3 395.3,592.5 396.3,594.4 397.2,594.4 398.2,588.7 399.2,584.8 400.0,585.5 400.8,582.4 401.6,582.9 402.4,584.8 403.2,582.6 403.9,584.8 404.6,585.9 405.4,585.2 406.1,587.0 406.8,586.8 407.5,587.0 408.2,589.3 408.9,587.8 409.6,590.6 410.4,594.2 411.2,594.4 411.9,592.4 412.7,593.1 413.5,590.6 414.2,589.1 414.9,590.6 415.6,588.1 416.3,588.7 417.1,589.5 418.0,586.0 418.8,586.8 419.6,588.4 420.3,587.2 421.1,588.7 422.0,590.6 423.0,590.6 423.9,589.8 424.9,590.6 425.9,589.0 426.8,584.8 427.5,583.3 428.2,585.9 429.0,584.2 429.7,584.8 430.4,585.7 431.1,583.8 431.8,586.2 432.5,584.8 433.2,582.8 434.0,585.0 434.7,581.8 435.4,582.9 436.1,583.9 436.8,580.8 437.5,582.6 438.3,581.0 439.2,581.7 440.2,584.8 440.9,586.8 441.6,584.7 442.3,587.8 443.0,586.8 443.7,585.6 444.5,587.7 445.2,585.5 445.9,586.8 446.6,587.3 447.3,584.2 448.0,585.0 448.7,582.9 449.5,581.3 450.2,583.7 450.9,579.7 451.6,581.0 452.3,581.6 453.0,578.3 453.7,581.2 454.5,579.1 455.4,577.3 456.4,577.2 457.3,576.5 458.3,573.4 459.0,573.1 459.7,576.0 460.4,573.4 461.1,575.3 462.1,575.2 463.0,571.5 464.0,560.1 465.0,571.5 465.7,570.4 466.4,573.9 467.1,571.4 467.8,573.4 468.8,577.6 469.7,579.1 470.4,577.9 471.2,579.5 471.9,577.1 472.6,577.2 473.3,578.5 474.0,576.6 474.7,579.3 475.4,579.1 476.2,578.9 476.9,580.8 477.6,578.8 478.3,581.0 479.0,581.4 479.7,579.5 480.5,581.3 481.2,579.1 481.9,579.3 482.6,582.7 483.3,580.5 484.0,582.9 485.0,579.9 485.9,573.4 486.9,576.3 487.8,582.9 488.8,587.1 489.8,588.7 490.7,587.0 491.7,588.7 492.4,589.8 493.1,588.0 493.8,591.3 494.5,590.6 495.2,590.0 495.9,593.2 496.7,591.9 497.4,594.4 498.3,598.1 499.3,598.2 500.0,596.1 500.7,596.3 501.4,592.6 502.1,592.5 502.9,595.1 503.6,593.5 504.3,596.1 505.0,596.3 505.7,596.3 506.4,599.6 507.2,597.6 507.9,600.1 508.6,601.7 509.3,600.0 510.0,602.6 510.7,602.0 511.4,601.5 512.2,604.1 512.9,602.8 513.6,603.9 514.3,606.1 515.0,604.0 515.7,607.9 516.5,607.7 517.2,606.6 517.9,609.5 518.6,607.7 519.3,609.6 520.0,612.2 520.7,610.1 521.5,613.8 522.2,613.5 522.9,611.8 523.6,613.9 524.3,610.3 525.0,611.6 525.8,612.8 526.5,611.8 527.2,614.5 527.9,613.5 528.6,611.7 529.3,614.7 530.0,612.3 530.8,613.5 531.5,615.0 532.2,612.6 532.9,614.4 533.6,613.5 534.6,610.7 535.5,609.6 536.3,608.4 537.1,603.6 537.8,602.0 538.6,603.5 539.5,601.8 540.3,603.9 541.0,604.8 541.7,601.1 542.4,602.6 543.2,600.1 543.9,599.0 544.6,601.8 545.3,598.8 546.0,600.1 546.7,603.4 547.4,604.0 548.2,607.9 548.9,609.6 549.5,611.6 550.5,604.6 551.4,600.1 552.2,600.7 552.9,598.4 553.6,599.7 554.3,598.2 555.0,596.2 555.7,597.9 556.5,594.6 557.2,594.4 557.9,596.3 558.6,593.2 559.3,595.8 560.0,594.4 560.7,592.7 561.5,595.1 562.2,591.3 562.9,592.5 563.6,593.8 564.3,591.3 565.0,594.0 565.7,592.5 566.7,591.7 567.7,594.4 568.6,598.3 569.6,600.1 570.5,595.7 571.5,594.4 572.2,596.7 572.9,594.1 573.6,596.7 574.3,596.3 575.3,595.4 576.2,596.3 577.0,605.4 577.8,611.6 578.4,602.5 579.1,596.3 580.1,597.2 581.0,594.4 581.7,592.2 582.4,594.3 583.2,592.1 583.9,592.5 584.6,593.4 585.3,591.7 586.0,594.0 586.7,592.5 587.4,591.2 588.2,595.2 588.9,593.0 589.6,594.4 590.3,595.6 591.0,592.4 591.7,594.1 592.5,592.5 593.2,591.4 593.9,594.1 594.6,593.2 595.3,594.4 596.0,595.1 596.7,591.5 597.5,592.6 598.2,590.6 599.1,588.3 600.1,588.7 601.0,593.0 602.0,594.4 602.9,575.3 603.9,574.7 604.8,575.3 605.6,575.9 606.3,573.2 607.0,575.1 607.7,573.4 608.4,573.5 609.1,576.7 609.9,574.4 610.6,577.2 611.3,578.8 612.0,576.9 612.7,579.4 613.4,579.1 614.1,578.2 614.9,580.6 615.6,578.4 616.3,579.1 617.2,582.8 618.2,582.9 619.2,583.1 620.1,586.8 620.8,587.9 621.5,585.9 622.3,589.3 623.0,588.7 623.7,586.1 624.4,588.3 625.1,584.8 625.8,584.8 626.8,585.4 627.7,582.9 628.7,584.4 629.6,588.7 630.6,591.3 631.6,590.6 632.3,588.7 633.0,590.2 633.7,585.9 634.4,586.8 635.1,587.7 635.8,584.5 636.6,586.0 637.3,584.8 638.0,583.1 638.7,584.9 639.4,581.9 640.1,582.9 640.8,583.0 641.6,578.8 642.3,579.5 643.0,577.2 643.7,576.7 644.4,580.5 645.1,579.3 645.9,581.0 646.6,583.3 647.3,580.5 648.0,583.2 648.7,582.9 649.7,577.3 650.6,575.3 651.3,576.1 652.1,574.3 652.8,576.8 653.5,575.3 654.2,574.4 654.9,577.6 655.6,575.3 656.3,577.2 657.3,578.4 658.3,577.2 659.2,575.3 660.2,575.3 661.1,574.2 662.1,571.5 662.8,570.4 663.5,572.1 664.2,568.5 664.9,569.6 665.6,569.9 666.4,566.1 667.1,567.8 667.8,565.8 668.5,564.4 669.2,565.9 669.9,562.6 670.7,563.9 671.4,565.0 672.1,563.6 672.8,566.2 673.5,565.8 674.5,566.1 675.4,569.6 676.4,564.9 677.3,558.1 678.0,556.2 678.8,557.3 679.5,554.0 680.2,554.3 681.1,555.0 682.1,552.4 683.0,556.2 684.0,562.0 685.0,568.4 685.9,571.5 686.9,562.2 687.8,554.3 688.8,563.8 689.7,571.5 690.4,570.8 691.2,572.2 691.9,569.9 692.6,571.5 693.5,568.3 694.5,562.0 695.4,564.0 696.4,567.7 697.4,573.3 698.3,577.2 699.3,573.2 700.2,571.5 701.2,575.9 702.1,577.2 703.1,571.7 704.0,569.6 704.7,569.7 705.5,565.4 706.2,566.1 706.9,563.9 707.8,562.8 708.8,563.9 709.5,565.6 710.2,564.5 710.9,568.1 711.7,567.7 712.6,567.8 713.6,569.6 714.5,573.4 715.5,575.3 716.2,574.7 716.9,577.8 717.6,576.5 718.3,579.1 719.0,580.4 719.8,576.3 720.5,578.8 721.2,577.2 722.1,576.9 723.1,579.1 723.8,580.9 724.5,578.7 725.2,582.4 726.0,581.0 726.7,580.5 727.4,583.9 728.1,582.2 728.8,584.8 729.5,586.5 730.3,584.4 731.0,587.8 731.7,586.8 732.4,586.7 733.1,589.3 733.8,586.7 734.5,588.7 735.3,589.9 736.0,587.4 736.7,589.8 737.4,588.7 738.1,587.8 738.8,589.9 739.6,588.0 740.3,588.7 741.0,588.5 741.7,584.4 742.4,585.5 743.1,582.9 743.8,581.6 744.6,584.8 745.3,581.2 746.0,582.9 746.9,584.6 747.9,584.8 748.8,581.3 749.8,581.0 750.5,581.0 751.2,577.5 751.9,577.8 752.7,575.3 753.4,574.9 754.1,576.9 754.8,575.5 755.5,577.2 756.3,579.0 757.1,576.2 757.8,578.9 758.6,575.7 759.3,577.2 760.1,578.4 760.8,576.5 761.5,580.0 762.2,579.1 762.9,576.4 763.6,578.7 764.3,574.7 765.1,575.3 765.8,576.0 766.6,573.0 767.3,576.1 768.1,572.3 768.9,573.6 768.9,573.4 769.8,574.0 770.6,570.8 771.5,571.9 772.4,572.5 773.3,570.0 774.2,570.1 775.0,570.1 775.9,568.2 776.8,568.3 777.7,569.2 778.6,567.5 779.5,568.3 780.4,569.6 781.2,566.8 782.1,568.3 783.0,569.0 783.9,566.0 784.8,566.6 785.7,567.4 786.6,564.4 787.4,564.8 788.3,565.1 789.2,563.0 790.0,563.2 790.7,567.7 791.5,568.3 792.2,568.1 792.9,571.3 793.6,570.1 794.5,565.9 795.4,564.8 796.3,566.7 797.2,566.6 797.9,567.9 798.6,572.6 799.3,573.6 800.1,571.7 800.8,573.3 801.6,571.9 802.5,571.3 803.4,572.7 804.3,571.9 805.0,572.0 805.7,576.2 806.4,577.2 807.1,579.5 807.8,584.3 808.7,586.9 809.6,587.0 810.5,589.6 811.3,591.6 812.2,590.8 813.1,593.1 814.0,593.3 814.9,591.3 815.8,591.3 816.7,592.1 817.5,590.6 818.4,591.3 819.1,593.2 819.8,591.9 820.6,593.1 821.6,610.8 822.2,621.8 822.9,632.1 823.5,638.4 824.1,646.2 825.0,645.2 825.9,642.7 826.6,640.6 827.4,640.7 828.2,639.2 828.9,637.3 829.7,637.5 830.5,635.6 831.2,636.4 831.9,639.1 832.6,639.2 833.5,638.0 834.4,638.4 835.2,637.4 836.1,637.8 837.0,640.2 837.9,640.9 838.8,640.0 839.7,641.6 840.6,640.9 841.4,640.5 842.3,641.3 843.2,640.9 844.1,639.1 845.0,639.2 845.9,642.4 846.8,644.5 847.6,644.0 848.5,646.4 849.4,646.2 850.3,645.1 851.2,646.8 852.1,646.2 853.0,646.3 853.8,648.0 854.7,648.0 855.6,645.8 856.5,646.5 857.4,644.5 858.3,644.4 859.2,646.1 860.0,646.2 860.9,643.5 861.8,642.7 862.7,648.3 863.6,651.5 864.3,647.1 865.1,644.8 865.9,640.9 866.6,639.9 867.3,640.2 868.0,639.2 868.7,638.6 869.4,639.5 870.1,639.2 870.9,637.6 871.7,637.7 872.4,635.6 873.3,633.9 874.2,635.0 875.1,633.8 876.0,632.7 876.9,634.6 877.7,633.8 878.6,633.4 879.5,636.1 880.4,635.6 881.3,632.7 882.2,632.1 883.1,633.6 883.9,633.8 884.8,635.6 885.7,634.7 886.6,630.9 887.5,630.3 888.4,630.7 889.2,629.7 890.1,630.3 891.0,631.4 891.9,629.8 892.8,630.3 893.7,630.4 894.6,628.5 895.4,628.5 896.3,628.9 897.2,626.2 898.1,626.8 899.0,626.4 899.9,625.0 900.8,627.5 901.6,632.1 902.5,631.9 903.4,628.6 904.3,628.5 905.2,629.4 906.1,627.4 907.0,628.5 907.8,628.6 908.7,626.6 909.6,626.8 910.5,625.5 911.4,623.2 912.3,622.2 913.2,624.0 914.0,623.2 914.9,622.6 915.8,623.7 916.7,623.2 917.6,622.2 918.5,624.1 919.3,623.2 920.2,622.3 921.1,623.2 922.0,623.0 922.9,621.4 924.0,610.8 925.0,625.0 925.8,624.8 926.5,626.7 927.3,626.8 928.2,627.0 929.1,629.5 930.0,630.3 930.9,630.0 931.7,632.2 932.6,630.7 933.5,632.1 934.4,633.0 935.3,632.4 936.2,634.5 937.1,633.8 937.9,633.4 938.8,635.8 939.7,634.1 940.6,635.6 941.5,636.8 942.4,635.4 943.3,637.9 944.1,637.4 945.0,636.7 945.9,638.1 946.8,637.0 947.7,637.4 948.6,638.1 949.4,636.2 950.3,637.8 951.2,637.4 952.1,637.1 953.0,639.0 953.9,639.2 954.8,639.3 955.6,641.2 956.5,640.9 957.4,639.9 958.3,640.4 959.2,639.1 960.1,639.2 961.0,639.5 961.8,637.1 962.7,637.4 963.6,637.7 964.5,636.8 965.4,637.4 966.3,638.1 967.2,635.9 968.0,636.9 968.9,635.6 969.8,633.1 970.7,633.1 971.6,630.3 972.5,627.7 973.3,627.8 974.2,625.0 975.1,624.8 976.0,626.7 976.9,626.8 977.8,626.8 978.7,628.4 979.5,628.5 980.4,627.5 981.3,629.0 982.2,628.5 983.1,628.1 984.0,629.7 984.9,628.5 985.7,629.2 986.6,632.0 987.5,632.1 988.3,632.2 989.2,634.0 990.0,633.8 990.5,635.6 991.5,636.3 992.5,638.2 993.2,646.5 993.8,652.7 994.5,644.6 995.1,638.2 996.1,637.1 997.1,634.3 998.0,632.8 998.9,634.5 999.8,632.9 1000.6,631.4 1001.5,632.0 1002.4,630.3 1003.4,631.5 1004.4,634.3 1005.2,634.7 1006.0,633.2 1006.8,635.1 1007.7,634.3 1008.5,632.5 1009.3,633.5 1010.1,631.5 1011.0,631.6 1011.8,632.7 1012.6,631.3 1013.4,633.0 1014.3,632.9 1015.0,632.3 1015.8,633.7 1016.6,632.5 1017.4,633.8 1018.2,632.9 1019.0,631.3 1019.8,632.3 1020.7,630.1 1021.5,630.3 1022.3,630.5 1023.1,628.4 1024.0,629.0 1024.8,627.7 1025.6,626.7 1026.4,628.8 1027.2,627.7 1028.0,629.1 1028.7,629.0 1029.5,628.7 1030.3,630.0 1031.1,628.6 1031.9,631.0 1032.7,630.3 1033.5,628.7 1034.3,630.4 1035.1,627.8 1035.9,629.3 1036.6,627.7 1037.6,628.2 1038.6,630.3 1039.3,635.0 1039.9,638.2 1040.9,635.1 1041.9,634.3 1042.7,634.8 1043.5,632.0 1044.3,633.4 1045.1,631.1 1045.9,631.6 1046.7,632.3 1047.4,630.4 1048.2,632.7 1049.0,631.0 1049.8,631.6 1050.6,631.4 1051.5,628.5 1052.3,628.1 1053.1,626.3 1054.0,625.4 1054.9,627.0 1055.7,626.3 1056.7,627.5 1057.7,630.3 1058.6,632.5 1059.5,632.5 1060.4,634.3 1061.2,636.6 1062.1,636.3 1063.0,638.2 1063.9,639.8 1064.7,639.3 1065.6,640.8 1066.4,642.3 1067.2,640.9 1068.0,643.0 1068.8,642.5 1069.6,643.5 1070.4,644.3 1071.2,643.3 1072.0,644.7 1072.7,644.0 1073.5,644.8 1074.3,645.0 1075.1,642.3 1075.9,643.6 1076.7,640.4 1077.5,640.8 1078.3,641.7 1079.1,639.6 1079.9,640.5 1080.6,639.2 1081.4,639.5 1082.2,640.3 1083.0,638.7 1083.8,640.3 1084.6,638.9 1085.4,639.5 1086.2,640.9 1087.0,639.4 1087.8,641.1 1088.5,639.5 1089.3,640.8 1090.2,642.8 1091.1,642.0 1092.0,643.5 1092.9,642.7 1093.7,639.8 1094.6,639.5 1095.4,639.6 1096.2,638.5 1097.0,639.5 1097.8,637.7 1098.6,638.2 1099.4,638.7 1100.1,637.8 1100.9,638.7 1101.7,637.2 1102.5,638.2 1103.3,639.0 1104.1,637.0 1104.9,639.2 1105.7,637.0 1106.5,638.2 1107.3,638.6 1108.1,637.7 1108.9,638.6 1109.8,638.2 1110.6,637.8 1111.4,639.5 1112.2,638.8 1113.1,639.5 1113.9,640.7 1114.7,639.7 1115.5,641.1 1116.3,640.8 1117.2,639.6 1118.0,640.6 1118.8,638.2 1119.6,638.2 1120.4,638.5 1121.2,637.3 1122.0,638.1 1122.8,636.3 1123.6,636.9 1124.4,637.5 1125.2,635.2 1126.0,637.1 1126.8,635.3 1127.5,635.6 1128.4,635.7 1129.2,633.9 1130.0,635.6 1130.8,634.3 1131.8,627.5 1132.8,622.4 1133.8,629.4 1134.8,634.3 1135.6,633.8 1136.4,635.5 1137.3,634.7 1138.1,635.6 1139.1,633.3 1140.1,630.3 1140.9,629.7 1141.7,632.1 1142.5,630.2 1143.4,631.6 1144.2,633.7 1145.1,633.3 1146.0,635.6 1146.8,637.0 1147.6,635.1 1148.4,637.2 1149.1,635.9 1149.9,636.9 1150.7,637.7 1151.5,636.4 1152.3,637.4 1153.1,636.0 1153.9,636.9 1154.7,638.3 1155.5,636.6 1156.3,638.4 1157.1,637.3 1157.8,638.2 1158.6,638.9 1159.4,637.2 1160.2,638.9 1161.0,637.0 1161.8,638.2 1162.6,638.7 1163.4,637.6 1164.2,639.0 1165.0,637.5 1165.7,638.2 1166.5,639.3 1167.3,637.1 1168.1,639.3 1168.9,637.3 1169.7,638.2 1170.5,638.9 1171.3,637.9 1172.1,639.8 1172.9,638.5 1173.7,639.5 1174.4,639.9 1175.2,638.0 1176.0,639.9 1176.8,638.0 1177.6,638.2 1178.4,639.1 1179.2,637.5 1180.0,639.0 1180.8,637.1 1181.6,638.2 1182.2,638.1 1182.9,635.6 1183.7,634.4 1184.5,635.6 1185.2,633.6 1186.0,635.0 1186.8,634.3 1187.6,633.6 1188.4,635.3 1189.2,633.6 1190.0,634.8 1190.8,634.3 1191.6,633.1 1192.4,635.4 1193.1,633.6 1193.9,634.9 1194.7,634.3 1195.5,633.7 1196.3,634.7 1197.1,633.7 1197.9,635.4 1198.7,634.3 1199.4,633.7 1200.2,634.6 1200.9,633.4 1201.7,634.3 1202.4,633.0 1203.2,634.7 1203.9,633.6 1204.7,632.6 1205.5,634.6 1206.2,632.8 1207.0,634.3 1207.7,633.4 1208.5,635.3 1209.3,633.8 1210.0,634.3 1210.5,634.3 1211.4,634.2 1212.3,632.2 1213.2,632.3 1214.1,633.5 1214.9,632.8 1215.8,634.3 1216.6,634.9 1217.4,634.2 1218.2,636.2 1219.0,634.8 1219.8,635.6 1220.6,635.7 1221.4,633.1 1222.2,633.8 1223.1,631.6 1223.8,630.9 1224.6,633.0 1225.4,631.8 1226.1,632.9 1226.9,631.7 1227.7,632.9 1228.5,633.2 1229.2,631.9 1230.0,633.2 1230.8,630.8 1231.6,631.6 1232.4,631.7 1233.3,629.8 1234.1,631.4 1234.9,630.3 1235.8,628.7 1236.7,629.0 1237.5,627.7 1238.5,628.3 1239.5,630.3 1240.4,631.9 1241.3,630.6 1242.2,631.6 1243.0,631.8 1243.8,630.5 1244.6,631.1 1245.4,630.3 1246.3,630.3 1247.1,632.7 1247.9,631.9 1248.7,632.9 1249.6,633.1 1250.4,631.1 1251.2,633.1 1252.0,631.6 1252.9,630.8 1253.7,632.8 1254.5,631.9 1255.3,632.9 1256.1,634.4 1256.9,632.7 1257.7,634.7 1258.5,633.4 1259.3,634.3 1260.1,634.8 1260.9,633.9 1261.7,635.6 1262.4,633.8 1263.2,634.9 1264.0,635.7 1264.8,634.2 1265.6,635.7 1266.4,634.2 1267.2,634.9 1268.0,635.6 1268.8,633.6 1269.6,635.0 1270.3,633.5 1271.1,634.3 1272.0,636.7 1272.9,635.8 1273.8,638.2 1274.6,639.5 1275.4,638.6 1276.1,641.6 1276.9,640.9 1277.7,642.2 1278.6,643.6 1279.5,643.4 1280.4,644.8 1281.2,642.6 1282.1,638.3 1283.0,636.9 1283.8,637.9 1284.6,636.5 1285.5,638.3 1286.3,638.2 1287.2,637.4 1288.0,638.4 1288.9,636.9 1289.6,639.8 1290.2,644.8 1291.1,646.0 1291.9,643.9 1292.7,645.6 1293.5,644.8 1294.4,642.9 1295.3,643.5 1296.2,642.2 1297.0,641.3 1297.7,642.9 1298.5,641.7 1299.3,643.0 1300.1,642.2 1300.9,641.8 1301.7,643.5 1302.5,642.3 1303.3,643.8 1304.1,643.5 1304.9,642.0 1305.7,642.8 1306.4,639.9 1307.2,641.5 1308.0,639.5 1308.8,638.4 1309.6,640.6 1310.4,638.9 1311.2,640.7 1312.0,639.5 1312.8,638.7 1313.6,639.5 1314.3,637.9 1315.1,639.4 1315.9,638.2 1316.7,637.3 1317.5,638.6 1318.3,636.8 1319.1,638.3 1319.9,636.9 1320.8,634.8 1321.6,635.0 1322.5,632.9 1323.3,632.4 1324.1,634.6 1324.9,632.5 1325.7,634.8 1326.5,634.3 1327.3,633.4 1328.0,634.9 1328.8,633.4 1329.6,634.4 1330.4,633.6 1331.2,632.4 1332.0,634.3 1332.8,632.8 1333.6,634.1 1334.4,632.9 1335.2,632.5 1336.0,634.6 1336.7,633.1 1337.5,634.5 1338.3,634.3 1339.1,633.6 1340.0,635.7 1340.8,634.0 1341.6,634.9 1342.4,635.2 1343.3,632.3 1344.1,633.1 1344.9,631.6 1345.7,630.2 1346.5,630.8 1347.3,628.5 1348.1,629.1 1348.9,627.7 1349.7,626.8 1350.4,628.8 1351.2,626.8 1352.0,628.1 1352.8,627.7 1353.7,627.1 1354.6,628.3 1355.4,627.7 1356.4,630.1 1357.4,634.3 1358.2,635.1 1359.1,634.5 1359.9,635.9 1360.7,635.6 1361.5,635.0 1362.3,636.0 1363.1,634.8 1363.9,636.7 1364.7,635.6 1365.5,635.0 1366.2,637.1 1367.0,635.3 1367.8,637.7 1368.6,636.9 1369.6,633.1 1370.6,631.6 1371.6,634.3 1372.6,635.6 1373.4,634.5 1374.2,635.8 1374.9,634.1 1375.7,635.7 1376.5,634.9 1377.3,634.2 1378.0,636.2 1378.8,634.6 1379.5,635.8 1380.3,634.3 1381.0,636.3 1381.8,635.6 1382.5,635.1 1383.3,636.0 1384.1,634.9 1384.8,635.9 1385.6,634.5 1386.3,636.1 1387.1,635.6 1387.8,635.0 1388.6,636.3 1389.3,634.8 1390.1,636.3 1390.8,634.7 1391.6,636.5 1392.3,635.6 1393.1,634.8 1393.8,636.0 1394.6,634.4 1395.3,636.5 1396.1,635.1 1396.8,636.3 1397.6,635.6 1398.3,637.9 1398.9,642.2 1399.7,642.8 1400.5,640.7 1401.3,640.9 1402.1,639.3 1402.9,639.5 1403.7,640.2 1404.5,638.4 1405.2,640.6 1406.0,638.9 1406.8,639.5 1407.6,640.2 1408.4,638.7 1409.2,640.6 1410.0,639.0 1410.8,639.5 1411.6,639.7 1412.4,638.0 1413.1,638.8 1413.9,637.0 1414.7,636.9 1415.6,639.0 1416.4,638.1 1417.2,640.7 1418.0,640.8 1419.0,637.1 1420.0,634.3 1420.8,634.7 1421.6,633.2 1422.4,634.9 1423.2,632.9 1423.9,633.6 1424.7,634.1 1425.5,632.2 1426.2,634.3 1427.0,632.5 1427.7,633.7 1428.5,632.5 1429.3,634.1 1430.0,632.9 1430.5,632.9 1431.4,632.0 1432.3,632.9 1433.2,631.6 1434.0,631.1 1434.8,633.1 1435.5,631.8 1436.3,634.3 1437.1,633.6 1438.0,632.7 1438.9,635.0 1439.8,634.3 1440.7,631.7 1441.7,630.3 1442.6,630.7 1443.4,629.6 1444.2,630.9 1445.0,630.3 1445.9,629.9 1446.7,631.7 1447.5,630.3 1448.3,631.0 1449.1,631.5 1450.0,628.8 1450.8,629.9 1451.6,629.0 1452.5,627.4 1453.4,628.8 1454.3,627.7 1454.9,624.5 1455.6,622.4 1456.6,624.2 1457.5,625.0 1458.5,627.3 1459.5,630.3 1460.3,631.6 1461.1,630.7 1461.9,633.0 1462.7,631.3 1463.5,632.9 1464.3,633.6 1465.1,632.8 1465.8,634.4 1466.6,633.5 1467.4,634.3 1468.2,634.3 1469.1,632.7 1469.9,633.7 1470.7,632.3 1471.5,632.5 1472.4,634.4 1473.2,634.2 1474.0,635.6 1474.8,636.8 1475.6,635.8 1476.4,637.7 1477.2,636.7 1478.0,638.2 1478.8,638.7 1479.5,637.3 1480.3,639.1 1481.1,637.7 1481.9,638.2 1482.7,639.5 1483.5,638.0 1484.3,639.8 1485.1,638.4 1485.9,639.5 1486.9,640.7 1487.8,640.2 1488.5,636.8 1489.2,634.9 1489.9,635.4 1490.7,634.1 1491.5,636.3 1492.2,634.6 1493.0,636.3 1493.8,635.6 1494.5,635.0 1495.3,636.7 1496.0,634.6 1496.8,636.1 1497.5,634.5 1498.3,636.8 1499.0,635.6 1499.9,635.8 1500.8,638.5 1501.7,638.2 1502.6,636.6 1503.4,637.0 1504.3,635.6 1505.1,634.5 1506.0,636.0 1506.8,634.3 1507.6,636.1 1508.4,634.7 1509.3,635.9 1510.1,633.9 1510.9,634.9 1511.7,636.6 1512.5,635.9 1513.3,638.8 1514.1,637.9 1514.8,639.5 1515.7,639.2 1516.6,636.5 1517.5,636.2 1518.3,637.4 1519.1,636.0 1519.9,637.1 1520.6,635.8 1521.4,636.9 1522.2,637.3 1523.0,635.5 1523.8,636.8 1524.6,634.2 1525.4,634.9 1526.2,636.9 1527.0,636.0 1527.9,639.4 1528.7,639.5 1529.7,636.2 1530.7,634.9 1531.4,635.5 1532.2,634.5 1532.9,635.8 1533.7,633.9 1534.4,635.6 1535.2,634.1 1535.9,634.9 1536.7,635.6 1537.5,634.1 1538.3,635.5 1539.1,633.6 1539.9,634.3 1540.7,635.1 1541.5,634.1 1542.3,635.5 1543.0,634.1 1543.8,634.9 1544.8,629.3 1545.8,621.7 1546.5,627.8 1547.1,634.9 1547.9,635.3 1548.8,633.7 1549.6,634.6 1550.4,633.6 1551.2,633.0 1552.0,634.6 1552.8,634.0 1553.6,635.4 1554.4,634.9 1555.2,634.0 1556.0,634.9 1556.7,633.2 1557.5,633.8 1558.3,632.9 1559.1,631.7 1559.9,633.2 1560.6,630.5 1561.4,632.0 1562.2,630.0 1562.9,630.3 1563.8,631.2 1564.6,630.7 1565.4,632.4 1566.2,632.3 1567.0,631.3 1567.7,633.1 1568.5,631.7 1569.2,633.8 1570.0,632.5 1570.7,634.0 1571.5,633.6 1572.3,633.3 1573.1,636.0 1573.9,635.5 1574.7,638.1 1575.4,638.2 1576.2,637.0 1577.0,637.4 1577.8,635.0 1578.6,636.6 1579.4,634.9 1580.2,634.9 1581.0,637.9 1581.8,637.2 1582.6,639.5 1583.4,639.5 1584.1,638.7 1584.9,640.4 1585.6,639.3 1586.4,641.5 1587.1,639.8 1587.9,641.7 1588.6,640.8 1589.4,640.6 1590.2,642.3 1591.0,641.0 1591.8,642.7 1592.6,642.2 1593.4,641.0 1594.2,642.2 1594.9,639.6 1595.7,640.8 1596.5,639.5 1597.3,638.8 1598.1,640.8 1598.9,639.3 1599.7,641.2 1600.5,640.8 1601.3,640.5 1602.1,642.7 1602.8,641.7 1603.6,643.3 1604.4,643.5 1605.2,643.5 1606.0,645.4 1606.8,644.5 1607.6,646.6 1608.4,646.1 1609.2,644.8 1610.0,646.2 1610.8,643.5 1611.5,645.0 1612.3,643.5 1613.1,642.6 1613.8,643.5 1614.6,642.1 1615.3,643.7 1616.1,641.4 1616.8,642.9 1617.6,642.2 1618.4,641.3 1619.2,642.7 1620.1,640.2 1620.9,640.8 1621.6,639.0 1622.2,635.6 1623.0,634.4 1623.9,635.7 1624.7,634.3 1625.5,634.9 1626.3,636.0 1627.1,634.3 1627.9,635.8 1628.7,635.0 1629.5,635.6 1630.2,635.9 1631.0,633.4 1631.8,634.5 1632.6,633.1 1633.4,632.9 1634.2,633.7 1634.9,632.7 1635.7,634.8 1636.4,633.7 1637.2,636.0 1637.9,634.3 1638.7,635.6 1639.5,635.9 1640.3,634.1 1641.1,635.1 1641.8,633.9 1642.6,634.3 1643.5,635.3 1644.3,634.0 1645.1,635.1 1645.9,634.0 1646.7,635.6 1647.6,634.0 1648.4,635.7 1649.2,634.4 1650.0,635.6 1650.6,635.9 1651.6,638.4 1652.5,639.6 1653.2,638.1 1654.0,639.3 1654.7,637.2 1655.4,638.2 1656.2,637.1 1656.9,635.8 1657.7,636.4 1658.4,633.9 1659.2,634.8 1659.9,633.4 1660.6,633.1 1661.4,634.6 1662.1,633.7 1662.9,635.0 1663.6,634.6 1664.4,633.4 1665.3,634.6 1666.1,633.4 1666.9,631.7 1667.7,632.4 1668.6,630.9 1669.4,629.7 1670.2,629.7 1671.0,628.5 1672.0,626.0 1672.9,624.7 1673.8,627.1 1674.7,628.5 1675.5,628.0 1676.2,629.8 1677.0,628.6 1677.7,630.8 1678.5,630.3 1679.2,629.8 1679.9,632.0 1680.7,630.6 1681.4,632.5 1682.2,632.2 1682.9,631.7 1683.7,632.8 1684.4,631.5 1685.1,633.4 1685.9,632.8 1686.6,632.7 1687.4,634.7 1688.1,633.0 1688.9,635.2 1689.6,634.6 1690.3,633.7 1691.1,634.6 1691.8,632.7 1692.6,634.2 1693.3,633.4 1694.0,632.9 1694.8,634.9 1695.5,633.3 1696.3,634.7 1697.0,634.0 1697.8,633.9 1698.5,635.8 1699.2,634.7 1700.0,637.2 1700.7,637.1 1701.5,637.5 1702.2,639.4 1703.0,639.0 1703.7,641.0 1704.4,640.8 1705.2,640.2 1705.9,642.9 1706.7,641.9 1707.4,643.7 1708.2,643.3 1708.9,642.9 1709.6,644.6 1710.4,643.4 1711.1,644.9 1711.9,644.5 1712.7,644.3 1713.5,645.8 1714.3,645.2 1715.2,645.3 1716.0,647.6 1716.8,647.0 1717.0,647.0" fill="none" stroke="#549c44" stroke-width="2.1" stroke-linejoin="round"/><polyline points="104.0,458.6 104.2,458.6 105.0,507.3 105.6,506.7 106.2,510.8 106.8,508.7 107.4,502.0 108.1,502.9 108.9,505.5 109.7,505.5 110.6,503.7 111.3,504.3 112.0,509.1 112.7,503.9 113.3,494.9 113.9,494.8 114.5,498.4 115.2,496.1 115.9,491.3 116.6,494.9 117.4,502.0 118.0,499.3 118.6,493.1 119.2,496.7 119.8,503.7 120.9,487.8 121.5,495.0 122.1,500.2 123.0,487.8 123.7,487.2 124.4,489.6 125.1,494.5 125.7,496.7 126.3,493.0 126.9,493.1 127.6,493.7 128.3,489.6 129.2,483.7 130.1,482.5 131.0,485.0 131.9,484.3 132.8,479.3 133.6,477.2 134.5,483.7 135.4,487.8 136.3,483.5 137.2,480.7 138.1,482.4 139.0,482.5 139.8,480.1 140.7,480.7 141.6,481.1 142.5,479.0 143.2,481.1 143.9,486.0 144.5,490.9 145.1,491.3 145.8,488.0 146.4,487.8 147.1,493.9 147.8,496.7 148.7,502.0 149.2,555.1 150.1,505.5 150.7,502.6 151.3,502.0 152.1,500.1 152.8,496.7 153.4,493.6 154.0,493.1 154.6,492.3 155.2,489.6 155.9,491.5 156.7,496.7 157.4,495.5 158.1,489.6 158.7,489.5 159.3,493.1 160.2,496.8 161.1,498.4 162.0,489.6 162.7,485.6 163.4,486.0 164.0,487.2 164.6,484.3 165.2,480.5 165.9,480.7 166.6,483.9 167.3,482.5 168.2,478.7 169.1,479.0 169.9,481.9 170.8,480.7 171.7,477.6 172.6,477.2 173.5,482.2 174.4,482.5 175.1,485.5 175.8,493.1 176.4,493.2 177.0,491.3 177.9,491.1 178.8,494.9 179.7,497.7 180.6,496.7 181.4,493.4 182.3,493.1 183.2,496.5 184.1,496.7 185.0,496.9 185.9,500.2 186.8,503.4 187.6,502.0 188.5,499.5 189.4,500.2 190.4,280.1 191.4,60.0 192.1,62.1 192.9,58.7 193.7,62.2 194.4,57.8 195.2,61.5 196.0,60.0 196.7,279.2 197.4,498.4 198.3,510.8 198.9,507.4 199.5,507.3 200.2,513.1 200.9,514.4 201.8,509.8 202.7,509.1 203.6,506.2 204.5,500.2 205.3,504.4 206.2,510.8 207.1,513.0 208.0,512.6 208.9,513.4 209.8,517.9 210.7,515.4 211.5,510.8 212.4,510.3 213.3,514.4 214.2,512.9 215.1,509.1 216.0,512.1 216.9,519.7 217.6,519.1 218.3,516.1 218.9,511.1 219.5,510.8 220.4,509.2 221.3,503.7 222.2,500.4 223.1,500.2 223.9,507.1 224.8,510.8 225.4,503.7 226.1,500.2 226.8,505.4 227.5,507.3 228.4,506.0 229.2,507.3 230.1,504.8 231.0,500.2 231.9,496.8 232.8,496.7 233.7,493.6 234.6,486.0 235.4,482.5 236.3,482.5 237.2,488.7 238.1,493.1 239.0,488.4 239.9,487.8 240.8,486.2 241.6,480.7 242.5,474.1 243.4,471.9 244.1,471.1 244.8,468.3 245.4,469.0 246.1,473.6 246.7,478.0 247.3,480.7 248.0,476.2 248.7,475.4 249.6,474.8 250.5,471.9 251.2,474.3 251.9,479.0 252.5,480.3 253.2,477.2 253.8,480.7 254.4,486.0 255.1,485.0 255.8,480.7 256.5,483.9 257.2,491.3 257.8,484.5 258.5,475.4 259.3,477.9 260.2,482.5 261.1,483.8 262.0,480.7 262.9,481.9 263.8,486.0 264.7,490.6 265.5,491.3 266.4,488.8 267.3,487.8 268.2,488.2 269.1,486.0 270.0,486.8 270.9,489.6 271.7,493.2 272.6,493.1 273.5,489.6 274.4,487.8 275.3,489.2 276.2,486.0 277.1,483.5 277.9,482.5 278.6,481.8 279.2,477.2 279.9,472.9 280.6,470.1 281.3,476.6 282.0,480.7 282.9,481.3 283.8,486.0 284.7,488.8 285.6,489.6 286.4,490.3 287.3,493.1 287.9,491.5 288.6,486.0 289.4,484.3 290.2,412.9 291.0,341.4 291.7,270.0 292.6,342.0 293.5,414.0 294.4,486.0 295.0,487.3 295.6,491.3 296.5,493.1 297.4,494.8 298.3,494.9 299.2,494.3 300.1,498.4 301.0,501.2 301.8,502.0 302.7,502.1 303.6,503.7 304.5,506.8 305.4,507.3 306.3,504.6 307.2,505.5 308.0,505.7 308.9,502.0 309.8,502.8 310.7,505.5 311.6,505.0 312.5,502.0 313.3,500.3 314.2,500.2 315.1,504.3 316.0,505.5 316.9,504.4 317.8,507.3 318.7,509.2 319.5,507.3 320.4,506.8 321.3,510.8 322.2,511.9 323.1,509.1 324.0,504.2 324.9,503.7 325.7,503.0 326.6,498.4 327.5,496.0 328.4,496.7 328.9,496.7 329.7,496.9 330.6,494.9 331.5,496.6 332.4,502.0 333.3,500.6 334.2,496.7 335.0,497.5 335.9,500.2 336.8,496.4 337.7,489.6 338.6,489.2 339.5,493.1 340.4,491.4 341.2,487.8 342.1,484.3 343.0,484.3 343.9,486.5 344.8,486.0 345.7,480.9 346.6,479.0 347.3,482.6 348.0,484.3 348.6,485.5 349.2,491.3 349.8,496.0 350.5,498.4 351.5,502.0 352.1,493.1 352.8,487.8 353.6,487.5 354.5,484.3 355.4,477.3 356.3,471.9 357.2,463.0 357.9,465.6 358.6,464.8 359.2,470.0 359.8,477.2 360.5,486.0 361.1,493.1 361.8,490.6 362.5,489.6 363.4,487.0 364.3,482.5 365.1,485.2 366.0,489.6 366.9,492.2 367.8,491.3 368.7,489.8 369.6,491.3 370.5,492.8 371.3,489.6 372.2,485.5 373.1,486.0 373.8,491.1 374.5,491.3 375.2,482.3 375.8,475.4 376.4,475.1 377.0,471.9 377.7,471.6 378.4,473.6 379.3,477.1 380.2,477.2 381.1,471.0 382.0,468.3 382.7,471.3 383.4,470.1 384.0,473.5 384.6,480.7 385.2,485.4 385.9,487.8 386.6,488.1 387.3,491.3 388.2,489.4 389.1,484.3 389.9,488.0 390.8,493.1 391.7,491.2 392.6,487.8 393.5,488.2 394.4,491.3 395.1,492.8 395.8,490.6 396.5,493.1 397.2,492.5 397.9,489.6 398.5,480.7 399.1,473.6 399.9,475.6 400.6,475.4 401.4,476.1 402.3,479.0 403.2,481.8 404.1,482.5 405.0,480.9 405.9,482.5 406.8,485.8 407.6,486.0 408.5,486.6 409.4,489.6 410.0,496.7 410.7,500.2 411.4,495.6 412.1,493.1 413.0,497.1 413.8,496.7 414.7,496.1 415.6,500.2 416.5,494.2 417.4,484.3 418.1,481.9 418.8,482.5 419.4,487.6 420.0,489.6 420.7,490.5 421.3,494.9 422.0,496.6 422.7,496.7 423.6,497.9 424.5,502.0 425.3,496.5 426.2,487.8 427.1,491.2 428.0,496.7 428.9,495.8 429.8,493.1 430.7,491.0 431.5,493.1 432.4,492.7 433.3,489.6 434.2,487.1 435.1,487.8 436.0,489.2 436.9,486.0 437.7,486.1 438.6,489.6 439.5,492.6 440.4,493.1 441.3,491.6 442.2,494.9 443.1,499.8 443.9,502.0 444.8,496.8 445.7,493.1 446.6,495.0 447.5,493.1 448.4,488.7 449.2,486.0 450.1,485.5 451.0,482.5 451.9,480.4 452.8,482.5 453.7,483.5 454.6,480.7 455.4,477.3 456.3,475.4 457.2,477.8 458.1,477.2 459.0,477.5 459.9,480.7 460.8,481.4 461.6,479.0 462.5,474.3 463.4,471.9 464.3,463.0 464.9,470.9 465.5,475.4 466.2,469.3 467.0,464.8 467.7,469.5 468.4,471.9 469.0,474.9 469.6,480.7 470.2,480.4 470.8,475.4 471.6,477.2 472.3,480.7 473.2,483.6 474.0,482.5 474.9,484.1 475.8,487.8 476.7,487.7 477.6,484.3 478.5,483.8 479.3,486.0 480.2,488.4 481.1,487.8 481.8,489.4 482.5,494.9 483.2,491.8 483.8,486.0 484.4,484.2 485.0,484.3 485.7,488.7 486.4,491.3 487.1,496.7 487.8,503.7 488.5,504.1 489.1,500.2 490.0,498.4 490.9,500.2 491.7,503.4 492.6,502.0 493.5,499.2 494.4,500.2 495.3,503.6 496.2,505.5 497.1,502.8 497.9,503.7 498.8,504.0 499.7,500.2 500.6,496.5 501.5,496.7 502.4,500.0 503.3,500.2 504.1,498.9 505.0,500.2 505.9,503.5 506.8,503.7 507.7,502.6 508.6,505.5 509.4,507.6 510.3,507.3 511.2,508.3 512.1,512.6 513.0,515.0 513.9,514.4 514.8,512.0 515.6,514.4 516.5,505.8 517.4,493.1 518.0,480.2 518.7,471.9 519.7,493.1 520.3,515.2 521.0,537.4 521.6,536.8 522.2,532.1 522.9,530.0 523.6,530.3 524.3,530.5 525.0,528.5 525.6,528.8 526.3,532.1 527.2,528.8 528.0,523.2 528.9,524.4 529.8,528.5 530.7,533.9 531.6,535.6 532.5,529.8 533.3,528.5 534.2,528.5 535.1,525.0 536.0,520.2 536.9,519.7 537.8,519.7 538.7,517.9 539.5,515.7 540.4,516.1 541.3,518.5 542.2,516.1 543.1,513.4 544.0,512.6 544.9,515.8 545.7,516.1 546.6,516.2 547.5,517.9 548.4,517.9 549.3,516.1 549.7,517.9 550.6,513.0 551.5,512.6 552.4,514.1 553.3,510.8 554.2,510.8 555.0,514.4 555.9,510.9 556.8,505.5 557.7,499.9 558.6,496.7 559.5,496.0 560.4,493.1 561.2,493.9 562.1,498.4 563.0,496.8 563.9,491.3 564.8,489.0 565.7,489.6 566.3,489.4 566.9,486.0 567.6,488.7 568.3,493.1 569.2,495.6 570.1,494.9 571.0,490.8 571.9,491.3 572.8,490.7 573.6,486.0 574.5,488.7 575.4,493.1 576.3,500.9 577.2,505.5 578.1,498.3 579.0,494.9 579.8,494.3 580.7,491.3 581.6,490.0 582.5,493.1 583.4,492.8 584.3,489.6 585.1,489.4 586.0,493.1 586.9,495.4 587.8,494.9 588.7,494.3 589.6,498.4 590.5,497.8 591.3,493.1 592.2,495.0 593.1,500.2 594.0,496.7 594.9,491.3 595.8,492.5 596.7,496.7 597.5,494.8 598.4,491.3 599.3,490.5 600.2,493.1 601.1,496.2 602.0,494.9 603.0,480.7 603.8,481.5 604.6,484.3 605.5,483.2 606.4,479.0 607.3,479.2 608.2,482.5 609.1,483.9 609.9,482.5 610.8,479.7 611.7,480.7 612.6,484.8 613.5,484.3 614.4,481.5 615.2,482.5 616.1,485.8 617.0,486.0 617.9,487.2 618.8,493.1 619.7,496.2 620.6,496.7 621.4,496.5 622.3,500.2 623.2,499.4 624.1,494.9 625.0,496.4 625.9,502.0 626.8,499.7 627.6,493.1 628.5,497.3 629.4,503.7 630.3,504.6 631.2,502.0 632.1,499.7 633.0,500.2 633.8,501.2 634.7,498.4 635.6,496.1 636.5,498.4 637.4,501.1 638.3,500.2 639.2,500.3 640.0,502.0 640.9,499.0 641.8,493.1 642.7,490.3 643.6,491.3 644.5,495.3 645.3,494.9 646.2,492.2 647.1,493.1 648.0,497.0 648.9,496.7 649.8,493.3 650.7,491.3 651.5,491.0 652.4,486.0 653.3,483.2 654.2,484.3 655.1,490.4 656.0,493.1 656.9,487.3 657.7,486.0 658.6,491.8 659.5,493.1 660.4,486.0 661.3,480.7 662.2,481.9 663.1,479.0 663.9,479.6 664.8,484.3 665.7,480.9 666.6,475.4 667.5,475.2 668.4,479.0 669.2,478.0 670.1,473.6 671.0,472.6 671.9,473.6 672.8,474.8 673.7,471.9 674.6,472.7 675.4,475.4 676.3,479.8 677.2,480.7 678.1,476.6 679.0,475.4 679.7,473.6 680.4,467.8 681.1,466.6 681.8,470.7 682.5,471.9 683.4,474.3 684.3,479.0 685.2,482.2 686.1,480.7 687.0,475.5 687.8,471.9 688.7,476.1 689.6,479.0 690.5,479.2 691.4,482.5 692.3,481.1 693.2,475.4 694.0,478.0 694.9,484.3 695.8,481.8 696.7,475.4 697.3,482.7 697.9,493.1 698.6,488.8 699.3,480.7 700.2,483.9 701.1,489.6 702.0,489.0 702.9,486.0 703.8,481.8 704.7,480.7 705.5,477.9 706.4,473.6 707.3,474.6 708.2,477.2 709.1,478.3 710.0,475.4 710.9,477.1 711.7,480.7 712.6,478.3 713.5,471.9 714.4,471.6 715.3,475.4 716.2,479.5 717.1,480.7 717.9,480.6 718.8,484.3 719.7,487.2 720.6,486.0 721.5,484.7 722.4,487.8 723.3,487.9 724.1,486.0 725.0,486.8 725.9,489.6 726.8,491.8 727.7,491.3 728.6,492.5 729.4,496.7 730.3,499.6 731.2,500.2 732.1,500.3 733.0,502.0 733.9,505.4 734.8,505.5 735.6,501.4 736.5,502.0 737.4,503.3 738.3,502.0 739.2,501.2 740.1,503.7 741.0,503.3 741.8,500.2 742.5,501.4 743.3,505.5 743.9,498.8 744.5,487.8 745.1,494.5 745.7,503.7 746.8,509.1 747.7,508.2 748.6,503.7 749.3,500.4 750.0,501.8 750.7,498.4 751.6,497.1 752.5,500.2 753.3,499.3 754.2,496.7 755.1,499.0 756.0,505.5 756.9,503.2 757.8,498.4 758.7,494.9 759.5,494.9 760.4,499.6 761.3,500.2 762.2,497.5 763.1,498.4 764.0,498.9 764.9,496.7 765.7,495.4 766.6,498.4 767.5,498.1 768.4,494.3 769.3,494.9 769.8,496.7 770.5,495.1 771.3,489.3 772.0,488.0 772.7,489.4 773.4,484.4 774.2,485.8 774.9,486.8 775.6,483.1 776.3,483.6 777.1,485.4 777.8,483.6 778.5,485.8 779.3,486.2 780.0,483.1 780.7,483.6 781.4,486.7 782.2,484.1 782.9,485.8 783.6,486.4 784.3,481.5 785.1,481.4 785.8,481.3 786.5,477.3 787.2,477.1 788.1,476.8 789.0,474.9 789.8,475.6 790.5,479.2 791.2,482.4 792.0,482.1 792.7,485.8 793.6,483.7 794.4,479.2 795.2,478.1 796.0,481.4 796.7,484.8 797.5,483.6 798.4,486.5 799.2,492.3 800.1,491.9 801.0,488.0 801.7,486.8 802.5,490.1 803.2,490.0 804.0,486.3 804.7,485.8 805.4,490.2 806.2,492.3 807.1,494.5 808.0,498.9 808.7,501.4 809.4,499.0 810.1,501.0 810.9,503.1 811.6,500.4 812.3,503.2 813.0,505.1 813.8,502.6 814.5,505.4 815.4,503.9 816.2,498.9 817.0,489.8 817.8,483.6 818.5,486.8 819.3,485.8 819.9,492.1 820.6,501.0 821.4,521.3 822.1,538.1 822.9,548.3 823.7,562.1 824.5,565.5 825.4,566.4 826.1,563.5 826.8,565.4 827.6,562.1 828.3,559.1 829.0,560.7 829.8,557.7 830.6,560.3 831.5,566.4 832.3,570.4 833.0,570.8 833.8,567.0 834.5,568.3 835.2,564.3 835.9,565.5 836.7,570.0 837.4,570.8 838.1,570.8 838.8,574.8 839.6,575.1 840.3,575.5 841.0,578.9 841.7,579.5 842.5,577.7 843.2,580.6 843.9,579.5 844.7,579.8 845.4,584.2 846.1,583.9 846.8,582.3 847.6,584.3 848.3,581.7 849.0,581.7 849.7,583.7 850.5,583.9 851.2,581.4 851.9,582.0 852.6,579.5 853.4,579.2 854.1,584.2 854.8,583.9 855.5,579.4 856.3,579.2 857.0,575.1 857.7,575.3 858.5,578.9 859.2,579.5 859.9,577.1 860.6,579.1 861.4,577.3 862.1,579.3 862.8,584.6 863.5,586.0 864.3,581.6 865.0,579.8 865.7,575.1 866.4,571.9 867.2,572.9 867.9,570.8 868.6,568.6 869.4,568.7 870.1,566.4 870.8,564.8 871.5,566.1 872.3,564.3 873.0,564.1 873.7,566.7 874.4,566.4 875.2,564.8 875.9,565.9 876.6,564.3 877.3,563.6 878.1,566.7 878.8,566.4 879.5,564.6 880.3,566.6 881.0,564.3 881.7,562.9 882.4,563.6 883.2,562.1 883.9,560.4 884.6,563.2 885.3,562.1 886.1,559.7 886.8,561.4 887.5,559.9 888.2,560.1 889.0,564.5 889.7,564.3 890.4,561.8 891.2,562.9 891.9,559.9 892.6,557.8 893.3,559.5 894.1,557.7 894.8,555.8 895.5,558.8 896.2,557.7 897.0,554.3 897.7,554.7 898.4,551.2 899.1,552.4 899.9,557.2 900.6,557.7 901.3,557.8 902.1,562.0 902.8,562.1 903.5,558.6 904.2,559.6 905.0,555.5 905.7,555.8 906.4,561.6 907.1,562.1 907.9,559.4 908.6,560.3 909.3,557.7 910.0,553.5 910.8,552.5 911.5,549.0 912.2,547.6 913.0,549.4 913.7,546.8 914.4,546.8 915.1,550.1 915.9,549.0 916.6,545.3 917.3,546.4 918.0,542.5 918.8,539.6 919.5,539.1 920.2,535.9 921.0,523.4 921.7,514.1 922.4,488.0 923.1,461.8 923.9,514.1 924.6,528.9 925.2,542.5 926.0,540.7 926.8,540.3 927.5,550.0 928.3,557.7 929.2,560.2 930.0,564.3 930.8,565.0 931.5,562.8 932.2,564.3 932.9,564.2 933.7,560.9 934.4,562.1 935.1,565.0 935.8,564.3 936.6,566.4 937.3,569.6 938.0,568.4 938.7,570.8 939.5,572.7 940.2,570.9 940.9,573.0 941.7,574.5 942.4,573.2 943.1,575.1 943.8,575.8 944.6,574.3 945.3,575.1 946.0,576.9 946.7,573.5 947.5,575.1 948.2,577.1 948.9,575.1 949.6,577.3 950.4,579.8 951.1,578.0 951.8,579.5 952.6,580.0 953.3,577.3 954.0,577.3 954.7,578.1 955.5,576.6 956.2,577.3 956.9,578.2 957.6,576.7 958.4,577.3 959.1,577.5 959.8,574.8 960.5,575.1 961.3,577.3 962.0,574.9 962.7,577.3 963.6,567.1 964.5,553.4 965.2,560.5 966.0,570.8 966.7,572.8 967.4,570.5 968.2,573.0 968.9,570.9 969.6,566.4 970.4,564.3 971.1,564.5 971.8,559.9 972.5,559.9 973.3,561.5 974.0,560.3 974.7,562.1 975.4,564.5 976.2,563.8 976.9,566.4 977.6,564.7 978.3,559.5 979.1,557.7 979.8,558.6 980.5,554.6 981.3,555.5 982.0,556.1 982.7,552.9 983.4,553.4 984.2,555.0 984.9,553.2 985.6,555.5 986.3,558.1 987.1,556.1 987.8,557.7 988.5,559.6 989.2,556.9 990.0,558.8 990.5,563.4 991.2,566.4 992.0,566.4 992.7,568.8 993.5,572.4 994.2,582.9 995.0,569.4 995.7,570.0 996.5,567.9 997.2,565.6 998.0,564.9 998.7,567.2 999.5,567.9 1000.2,562.8 1001.0,560.4 1002.2,555.9 1003.2,561.9 1004.0,564.8 1004.7,564.9 1005.5,565.0 1006.2,567.9 1007.0,568.0 1007.7,564.9 1008.5,562.7 1009.2,563.4 1010.0,562.4 1010.7,558.9 1011.5,559.8 1012.2,561.9 1013.0,565.8 1013.7,566.4 1014.5,564.0 1015.2,564.9 1016.0,565.8 1016.7,563.4 1017.5,564.3 1018.2,567.9 1019.0,567.0 1019.7,564.9 1020.5,566.3 1021.2,569.4 1022.0,567.1 1022.7,563.4 1023.5,561.3 1024.2,561.9 1025.0,562.5 1025.7,560.4 1026.4,557.4 1027.2,555.9 1027.9,559.3 1028.7,558.9 1029.4,555.6 1030.2,555.9 1030.9,558.4 1031.7,557.4 1032.4,555.5 1033.2,555.9 1033.9,555.4 1034.7,552.9 1035.4,554.3 1036.2,557.4 1036.9,560.6 1037.7,560.4 1038.4,561.9 1039.2,566.4 1039.9,566.6 1040.7,564.9 1041.4,564.6 1042.2,567.9 1042.9,567.7 1043.7,564.9 1044.4,561.6 1045.2,560.4 1045.9,559.3 1046.7,555.9 1047.4,553.7 1048.2,554.4 1048.9,556.4 1049.7,555.9 1050.4,553.0 1051.2,552.9 1051.9,552.9 1052.7,551.4 1053.4,545.4 1054.2,542.4 1054.9,544.9 1055.7,545.4 1056.7,533.5 1057.6,548.4 1058.4,547.4 1059.1,549.9 1059.9,556.0 1060.6,560.4 1061.4,564.7 1062.1,570.9 1062.9,572.2 1063.6,570.9 1064.4,570.6 1065.1,572.4 1065.9,574.4 1066.6,573.9 1067.4,572.9 1068.1,575.4 1068.9,577.7 1069.6,578.4 1070.4,575.3 1071.1,575.4 1071.8,576.1 1072.6,573.9 1073.3,570.8 1074.1,570.9 1074.8,572.8 1075.6,572.4 1076.3,569.7 1077.1,569.4 1077.8,569.7 1078.6,567.9 1079.3,566.7 1080.1,567.9 1080.8,567.3 1081.6,564.9 1082.3,565.6 1083.1,567.9 1083.8,567.6 1084.6,564.9 1085.6,554.4 1086.7,570.9 1087.9,566.4 1088.6,566.3 1089.4,567.9 1090.1,567.6 1090.9,564.9 1091.6,566.6 1092.4,570.9 1093.1,567.4 1093.9,561.9 1095.1,552.9 1095.8,555.1 1096.6,558.9 1097.5,556.6 1098.4,551.4 1099.1,555.7 1099.9,563.4 1100.6,560.5 1101.4,555.9 1102.1,555.3 1102.9,557.4 1103.6,559.6 1104.4,558.9 1105.1,555.7 1105.9,555.9 1106.6,561.9 1107.4,564.9 1108.1,561.7 1108.9,560.4 1109.6,559.8 1110.4,557.4 1111.1,556.5 1111.9,558.9 1112.6,560.6 1113.4,560.4 1114.1,560.6 1114.9,561.9 1115.6,564.4 1116.4,563.4 1117.1,564.1 1117.8,566.4 1118.6,568.9 1119.3,569.4 1120.1,566.2 1120.8,564.9 1121.6,563.6 1122.3,560.4 1123.1,556.6 1123.8,555.9 1124.6,556.2 1125.3,554.4 1126.1,555.5 1126.8,558.9 1127.6,558.6 1128.3,555.9 1129.1,553.5 1129.8,554.4 1130.6,556.5 1131.3,557.4 1132.1,531.2 1132.8,505.0 1134.0,549.9 1135.1,555.9 1135.8,556.1 1136.6,558.9 1137.3,561.2 1138.1,561.9 1138.8,559.7 1139.6,558.9 1140.3,563.3 1141.1,564.9 1141.8,549.9 1143.0,560.4 1143.8,560.1 1144.5,561.9 1145.3,558.8 1146.0,554.4 1146.8,556.1 1147.5,560.4 1148.3,558.5 1149.0,552.9 1149.8,557.5 1150.5,564.9 1151.3,565.4 1152.0,563.4 1152.8,560.3 1153.5,560.4 1154.3,560.7 1155.0,557.4 1155.8,558.9 1156.5,561.9 1157.3,558.4 1158.0,552.9 1158.8,551.1 1159.5,552.9 1160.6,573.9 1161.3,577.2 1162.0,576.9 1162.8,576.8 1163.5,578.4 1164.3,580.7 1165.0,579.9 1165.8,578.9 1166.5,581.4 1167.3,583.5 1168.0,582.9 1168.8,579.9 1169.5,579.9 1170.3,582.7 1171.0,582.9 1171.8,578.3 1172.5,575.4 1173.3,575.5 1174.0,573.9 1174.8,577.8 1175.5,582.9 1176.3,585.9 1177.0,585.9 1177.8,580.6 1178.5,576.9 1179.3,576.8 1180.0,573.9 1180.8,572.1 1181.5,572.4 1182.6,548.4 1183.8,573.9 1185.0,567.9 1186.0,573.9 1187.1,533.5 1188.3,576.9 1189.0,575.1 1189.8,570.9 1191.0,558.9 1192.0,549.9 1193.1,567.9 1193.8,561.6 1194.6,558.9 1195.8,542.4 1196.5,557.8 1197.3,570.9 1198.0,563.0 1198.8,557.4 1199.5,562.2 1200.3,564.9 1201.0,561.1 1201.8,558.9 1202.5,556.8 1203.3,552.9 1204.0,557.6 1204.8,564.9 1205.5,560.6 1206.3,552.9 1207.0,548.5 1207.7,545.4 1208.5,550.3 1209.2,551.4 1209.7,549.9 1210.5,549.0 1211.2,551.6 1212.0,551.4 1212.7,550.4 1213.5,553.5 1214.2,552.9 1215.0,552.2 1215.7,554.6 1216.5,554.4 1217.2,554.7 1218.0,558.7 1218.7,558.9 1219.7,559.6 1220.7,563.4 1221.4,561.0 1222.2,555.9 1222.9,552.9 1223.7,552.9 1224.6,557.5 1225.5,558.9 1226.2,557.6 1227.0,558.5 1227.7,557.4 1228.5,555.2 1229.2,556.2 1230.0,554.4 1230.7,555.2 1231.5,558.4 1232.2,558.9 1233.0,555.6 1233.7,556.3 1234.5,552.9 1235.2,551.5 1236.0,554.8 1236.7,552.9 1237.5,552.2 1238.2,554.2 1239.0,552.9 1239.7,552.7 1240.5,555.4 1241.2,554.4 1242.0,553.8 1242.7,556.2 1243.5,555.9 1244.2,554.4 1245.0,556.4 1245.7,554.4 1246.4,554.7 1247.2,559.3 1247.9,558.9 1248.7,556.9 1249.4,557.9 1250.2,555.9 1250.9,551.1 1251.7,549.9 1252.4,556.6 1253.2,560.4 1253.9,556.7 1254.7,554.4 1255.4,555.3 1256.2,552.9 1256.9,555.6 1257.7,560.4 1258.7,559.3 1259.6,554.4 1260.7,564.9 1261.4,563.0 1262.2,565.6 1262.9,563.4 1263.7,561.2 1264.4,563.7 1265.2,561.9 1265.9,561.6 1266.7,565.5 1267.4,566.4 1268.2,566.9 1268.9,571.1 1269.7,570.9 1270.4,569.8 1271.2,571.4 1271.9,569.4 1272.7,568.0 1273.4,571.9 1274.2,570.9 1274.9,572.9 1275.7,578.4 1276.4,578.6 1277.2,576.1 1277.9,576.9 1278.7,578.3 1279.4,575.8 1280.2,576.9 1280.9,579.0 1281.7,577.3 1282.4,579.9 1283.2,582.2 1283.9,582.3 1284.7,584.4 1285.6,587.3 1286.6,587.4 1287.5,581.8 1288.4,579.9 1289.3,577.1 1290.2,570.9 1291.2,570.9 1292.1,573.9 1292.9,574.4 1293.6,571.1 1294.4,572.4 1295.1,571.5 1295.9,568.5 1296.6,567.9 1297.4,570.0 1298.1,567.2 1298.9,569.4 1299.6,569.5 1300.4,565.6 1301.1,566.4 1301.9,568.6 1302.6,568.0 1303.4,570.9 1304.1,570.1 1304.9,567.0 1305.6,566.4 1306.4,566.2 1307.1,563.8 1307.9,563.4 1308.6,563.5 1309.4,560.2 1310.1,560.4 1310.9,560.4 1311.6,557.0 1312.4,557.4 1313.1,557.6 1313.9,555.2 1314.6,555.9 1315.4,557.7 1316.1,555.8 1316.9,557.4 1317.6,558.7 1318.4,555.7 1319.1,555.9 1319.9,562.3 1320.6,566.4 1321.4,564.5 1322.1,564.9 1322.9,563.0 1323.6,558.9 1324.7,548.4 1325.9,560.4 1326.6,560.8 1327.4,564.9 1328.1,567.7 1328.9,567.9 1330.1,572.4 1330.8,567.4 1331.6,564.9 1332.3,563.8 1333.1,560.4 1333.8,562.3 1334.6,566.4 1335.5,568.3 1336.4,566.4 1337.1,565.5 1337.8,567.9 1338.6,570.8 1339.3,570.9 1340.1,570.1 1340.8,572.3 1341.6,570.9 1342.3,567.2 1343.1,564.9 1343.8,565.2 1344.6,563.4 1345.3,559.8 1346.1,557.4 1346.8,556.7 1347.6,552.9 1348.3,550.3 1349.1,551.4 1349.8,554.3 1350.6,554.4 1351.3,550.9 1352.1,549.9 1352.8,550.1 1353.6,548.4 1354.3,549.5 1355.1,552.9 1355.8,550.4 1356.6,545.4 1357.6,564.9 1358.8,555.9 1359.7,563.8 1360.6,573.9 1361.8,555.9 1362.6,559.9 1363.3,561.9 1364.1,562.6 1364.8,564.9 1365.6,561.2 1366.3,554.4 1367.5,567.9 1368.6,554.4 1369.6,569.4 1370.8,530.5 1372.0,558.9 1372.8,563.8 1373.5,572.4 1374.3,577.1 1375.0,578.4 1375.9,578.5 1376.8,581.4 1377.6,582.5 1378.3,581.4 1379.1,582.9 1379.8,585.1 1380.6,582.0 1381.3,584.4 1382.0,582.7 1382.8,578.4 1383.5,579.3 1384.3,582.9 1385.0,584.9 1385.8,583.0 1386.5,584.4 1387.3,586.9 1388.0,585.3 1388.8,587.4 1389.5,589.6 1390.3,587.2 1391.0,588.9 1391.8,588.8 1392.5,584.6 1393.3,584.4 1394.0,584.2 1394.8,580.2 1395.5,579.9 1396.3,581.2 1397.0,577.3 1397.8,578.4 1398.5,578.5 1399.3,575.2 1400.0,575.4 1400.8,575.7 1401.5,570.8 1402.3,570.9 1403.0,571.4 1403.8,567.1 1404.5,567.9 1405.3,567.6 1406.0,564.6 1406.8,564.9 1407.5,565.8 1408.3,562.7 1409.0,563.4 1409.8,563.8 1410.5,558.6 1411.3,558.9 1412.0,559.0 1412.8,555.5 1413.5,555.9 1414.3,559.0 1415.0,557.4 1415.8,560.4 1416.5,562.0 1417.3,559.8 1418.0,561.9 1418.8,563.5 1419.5,562.2 1420.3,563.4 1421.0,565.4 1421.8,563.0 1422.5,564.9 1423.3,563.0 1424.0,558.9 1424.8,556.2 1425.5,557.8 1426.3,554.4 1427.0,551.8 1427.7,553.5 1428.5,551.4 1429.2,548.9 1430.0,549.9 1430.6,547.0 1431.4,547.5 1432.3,545.4 1433.1,547.6 1433.9,551.9 1434.7,555.0 1435.5,555.2 1436.2,557.9 1436.9,565.7 1437.7,568.3 1438.5,558.6 1439.3,551.9 1440.3,552.6 1441.3,550.3 1442.1,550.3 1442.9,553.1 1443.7,553.6 1444.4,552.9 1445.1,555.4 1445.8,555.2 1446.6,555.8 1447.5,560.1 1448.3,555.4 1449.1,548.7 1450.1,545.7 1451.1,545.4 1451.9,551.0 1452.7,553.6 1453.5,547.9 1454.3,543.8 1455.0,538.1 1455.6,529.0 1456.8,538.9 1457.6,547.7 1458.4,558.5 1459.2,556.7 1460.1,553.6 1460.9,553.0 1461.7,555.2 1462.5,558.8 1463.3,560.1 1464.1,560.8 1465.0,565.0 1465.7,568.4 1466.4,568.7 1467.1,571.5 1468.1,570.5 1469.0,568.3 1469.9,557.9 1470.7,548.7 1471.5,554.0 1472.3,556.8 1473.1,561.0 1473.9,568.3 1474.8,565.1 1475.6,559.6 1476.4,556.8 1477.2,564.6 1478.0,569.9 1478.7,567.1 1479.5,569.6 1480.2,566.6 1481.1,564.1 1482.1,565.0 1483.1,568.1 1484.1,568.3 1484.8,567.5 1485.5,570.2 1486.2,569.9 1486.9,569.1 1487.6,571.8 1488.3,571.5 1489.3,572.2 1490.3,574.8 1491.1,577.0 1491.9,574.6 1492.7,576.5 1493.6,579.1 1494.4,577.4 1495.2,579.7 1496.0,581.8 1496.8,580.7 1497.7,583.0 1498.5,584.3 1499.3,582.1 1500.1,583.0 1500.9,580.6 1501.7,574.8 1502.7,572.1 1503.7,573.2 1504.4,575.1 1505.1,574.5 1505.8,576.5 1506.5,575.9 1507.2,570.6 1508.0,569.9 1508.9,571.6 1509.9,571.5 1510.7,569.1 1511.5,570.3 1512.4,568.3 1513.1,565.5 1513.8,567.5 1514.5,565.0 1515.5,564.6 1516.5,566.6 1517.3,564.2 1518.1,560.1 1519.1,560.6 1520.0,563.4 1520.8,562.9 1521.5,559.1 1522.2,558.5 1523.0,556.0 1523.8,551.9 1524.5,551.6 1525.2,554.5 1525.9,553.6 1526.9,554.2 1527.9,558.5 1528.9,561.0 1529.9,560.1 1530.6,559.3 1531.3,562.8 1532.0,561.7 1532.7,561.5 1533.4,563.7 1534.1,563.4 1535.1,564.3 1536.1,568.3 1536.9,563.9 1537.7,558.5 1538.5,557.0 1539.3,556.8 1540.2,560.9 1541.0,561.7 1541.8,560.1 1542.6,560.1 1543.4,559.3 1544.2,556.8 1545.1,563.4 1545.9,488.2 1546.7,561.7 1547.5,561.5 1548.3,563.4 1549.1,557.7 1550.0,548.7 1550.8,552.2 1551.6,556.8 1552.7,568.3 1553.5,570.0 1554.2,567.3 1554.9,568.3 1555.6,570.2 1556.3,568.2 1557.0,569.9 1557.8,566.6 1558.6,561.7 1559.6,559.1 1560.6,560.1 1561.4,557.6 1562.2,553.6 1563.0,545.4 1563.9,540.5 1564.7,550.4 1565.5,556.8 1566.3,556.5 1567.1,558.5 1568.1,562.8 1569.1,563.4 1569.7,561.1 1570.4,560.1 1571.2,562.5 1572.0,562.2 1572.9,565.0 1573.6,570.0 1574.3,572.1 1575.0,578.1 1576.0,576.1 1576.9,571.5 1577.9,565.8 1578.9,563.4 1579.6,567.0 1580.3,568.2 1581.0,571.5 1581.8,570.0 1582.7,565.0 1583.5,566.6 1584.3,569.9 1585.0,571.6 1585.7,570.3 1586.4,571.5 1587.4,575.4 1588.4,576.5 1589.2,575.8 1590.0,578.4 1590.8,578.1 1591.7,577.5 1592.5,579.1 1593.3,578.1 1594.1,575.9 1594.9,577.8 1595.7,576.5 1596.6,575.6 1597.4,577.8 1598.2,576.5 1599.0,574.5 1599.8,577.0 1600.6,574.8 1601.4,573.9 1602.1,577.6 1602.8,576.5 1603.8,574.9 1604.7,574.8 1605.5,577.7 1606.4,576.4 1607.2,578.1 1608.0,581.3 1608.8,583.0 1609.6,577.4 1610.5,573.2 1611.2,573.7 1611.9,569.8 1612.6,569.9 1613.6,569.3 1614.5,565.0 1615.4,563.7 1616.2,567.9 1617.0,566.6 1617.8,564.7 1618.6,566.6 1619.4,565.0 1620.3,564.3 1621.1,568.7 1621.9,568.3 1622.7,568.0 1623.5,570.7 1624.3,569.9 1625.3,563.6 1626.3,558.5 1627.0,561.2 1627.7,561.4 1628.4,565.0 1629.3,566.0 1630.1,562.2 1630.9,563.4 1631.7,562.5 1632.5,558.5 1633.5,556.9 1634.5,556.8 1635.2,559.5 1635.9,557.1 1636.6,560.1 1637.4,560.5 1638.2,556.7 1639.1,556.8 1639.9,557.0 1640.7,555.2 1641.7,559.4 1642.7,565.0 1643.4,565.3 1644.1,561.0 1644.8,561.7 1645.6,564.1 1646.4,565.0 1647.2,556.8 1648.1,551.9 1648.9,563.5 1649.7,571.5 1649.9,566.6 1650.7,568.9 1651.5,573.2 1652.4,570.8 1653.2,565.0 1654.0,565.9 1654.8,568.3 1655.6,566.8 1656.5,563.4 1657.3,561.2 1658.1,561.7 1658.9,565.9 1659.7,566.6 1660.5,561.3 1661.4,558.5 1662.2,558.3 1663.0,556.8 1663.8,560.8 1664.6,568.3 1665.4,566.3 1666.3,561.7 1667.1,557.7 1667.9,556.8 1668.7,553.6 1669.5,548.7 1670.3,545.2 1671.2,543.8 1672.0,543.6 1672.8,542.1 1673.6,546.2 1674.4,551.9 1675.3,555.5 1676.1,556.8 1676.9,559.8 1677.7,565.0 1678.5,565.6 1679.3,563.4 1680.2,565.0 1681.0,569.9 1681.8,568.5 1682.6,565.0 1683.4,562.4 1684.2,563.4 1685.1,565.6 1685.9,565.0 1686.9,561.5 1687.8,560.1 1688.7,564.2 1689.5,566.6 1690.1,566.4 1690.8,569.9 1691.6,567.3 1692.4,561.7 1693.2,559.5 1694.1,558.5 1694.9,563.2 1695.7,565.0 1696.5,565.6 1697.3,568.3 1698.1,571.0 1699.0,571.5 1699.8,570.8 1700.6,573.2 1701.4,574.9 1702.2,574.8 1703.0,576.3 1703.9,579.7 1704.7,582.6 1705.5,583.0 1706.3,580.4 1707.1,581.4 1707.9,583.7 1708.8,584.6 1709.6,583.8 1710.4,586.3 1711.2,585.3 1712.0,581.4 1712.9,582.2 1713.7,584.6 1714.5,587.7 1715.3,587.9 1716.0,586.9 1716.6,588.7 1717.0,588.7" fill="none" stroke="#d8ad1e" stroke-width="2.1" stroke-linejoin="round"/><polyline points="104.0,385.2 104.7,299.9 105.6,315.7 106.5,333.5 107.1,325.4 107.8,312.8 108.5,320.2 109.1,333.0 109.8,341.3 110.7,322.8 111.6,307.6 112.3,302.7 112.9,294.7 113.6,294.1 114.2,297.3 115.1,311.0 116.0,320.6 116.7,322.2 117.4,326.5 118.1,328.3 118.8,315.8 119.4,307.6 120.3,303.3 121.2,296.0 121.9,299.5 122.6,307.9 123.3,312.8 124.2,321.6 125.1,333.5 125.8,328.6 126.5,318.5 127.2,312.8 128.0,318.6 128.9,317.4 129.8,323.1 130.7,313.6 131.6,302.4 132.3,293.5 132.9,287.8 133.6,277.9 134.5,285.2 135.4,297.3 136.1,302.1 136.8,303.0 137.5,307.6 138.4,305.2 139.3,299.9 140.0,304.2 140.7,311.3 141.4,315.4 142.0,307.4 142.7,302.4 143.6,315.7 144.5,325.7 145.2,300.7 145.9,275.7 146.6,250.7 147.3,298.1 148.0,345.6 148.6,393.0 149.5,371.0 150.5,349.0 151.3,346.1 152.2,346.7 153.0,343.8 153.9,337.5 154.9,333.5 155.5,332.5 156.2,327.1 156.9,325.7 157.6,333.4 158.3,337.3 159.0,346.4 159.9,355.9 160.8,362.0 161.5,346.4 162.2,330.9 162.9,315.4 163.8,292.7 164.7,270.1 165.3,296.6 166.0,323.1 166.9,323.9 167.8,328.3 168.5,324.2 169.2,315.5 169.9,312.8 170.5,318.5 171.2,318.7 171.9,323.1 172.6,320.6 173.3,313.4 174.0,311.5 174.8,331.8 175.5,352.0 176.3,372.3 177.2,364.8 178.1,350.9 178.9,343.8 179.8,350.5 180.6,352.0 181.5,359.4 182.2,352.7 182.9,340.8 183.6,333.5 184.4,343.0 185.3,346.7 186.2,356.8 186.9,363.3 187.7,363.8 188.5,369.7 189.5,60.0 190.3,61.8 191.1,59.2 191.8,61.2 192.6,57.9 193.4,61.5 194.2,58.9 195.0,61.7 195.7,60.0 196.2,380.1 197.1,372.9 197.9,371.6 198.8,363.1 199.6,359.4 200.5,367.8 201.3,371.5 202.2,380.1 203.0,368.4 203.9,356.8 204.7,345.1 205.6,333.5 206.5,343.4 207.4,349.0 208.1,358.6 208.8,372.9 209.4,382.7 210.2,378.5 211.0,378.3 211.8,374.9 212.5,372.8 213.2,374.3 213.8,371.0 214.7,375.0 215.6,385.7 216.4,390.4 217.1,385.5 217.8,384.6 218.5,380.1 219.3,371.3 220.1,368.3 220.8,356.6 221.6,351.6 222.3,362.8 223.0,368.3 223.7,380.1 224.5,372.2 225.2,360.3 226.0,355.3 226.8,343.8 227.5,352.4 228.2,366.1 228.8,374.9 229.6,369.8 230.4,368.8 231.2,360.8 232.0,359.4 232.7,353.0 233.5,343.0 234.3,340.2 235.1,330.9 235.7,333.8 236.4,343.3 237.1,346.4 238.0,339.1 238.9,337.7 239.7,330.9 240.6,331.8 241.4,337.6 242.3,338.7 243.2,327.5 244.0,320.2 244.9,307.6 245.8,310.2 246.6,317.3 247.5,320.6 248.3,321.5 249.2,327.3 250.1,328.3 250.9,328.7 251.8,333.1 252.7,333.5 253.3,326.6 254.0,325.0 254.7,318.0 255.6,335.6 256.5,356.8 257.4,348.8 258.3,337.0 259.1,328.3 260.0,333.8 260.8,335.9 261.7,341.3 262.6,341.3 263.4,335.5 264.3,336.1 265.2,346.0 266.0,349.5 266.9,359.4 267.7,361.5 268.6,358.2 269.5,359.4 270.3,359.0 271.2,352.3 272.1,351.6 272.9,351.6 273.8,349.1 274.6,349.0 275.5,344.6 276.4,336.6 277.2,333.5 277.9,321.7 278.5,307.6 279.4,281.1 280.3,254.6 281.0,291.4 281.6,328.3 282.3,323.9 283.0,323.3 283.7,318.0 284.4,321.8 285.1,329.2 285.8,333.5 286.7,331.2 287.6,330.9 288.3,240.6 289.0,150.3 289.7,60.0 290.5,61.7 291.3,59.0 292.1,61.2 292.9,58.0 293.7,61.5 294.6,60.0 295.3,200.6 296.1,341.3 297.0,332.2 297.9,325.7 298.8,323.9 299.7,318.0 300.5,315.4 301.2,317.7 301.9,315.6 302.6,318.0 303.5,337.2 304.4,354.2 305.3,335.1 306.2,318.0 306.9,330.6 307.6,337.0 308.3,349.0 309.2,339.8 310.1,328.3 310.8,321.3 311.5,320.1 312.2,312.8 313.1,309.4 314.0,307.6 314.7,317.0 315.4,323.9 316.0,333.5 316.9,342.4 317.8,346.3 318.6,354.2 319.5,360.1 320.4,362.0 321.2,369.1 322.0,380.1 322.7,374.9 323.4,365.1 324.1,359.4 324.8,356.6 325.6,346.9 326.4,343.8 327.3,340.3 328.1,332.4 329.0,328.3 329.7,331.5 330.3,330.9 331.2,339.0 332.1,351.6 332.9,359.4 333.8,352.9 334.7,350.9 335.5,343.8 336.4,337.0 337.2,333.0 338.1,325.7 338.8,328.5 339.5,338.4 340.2,341.3 341.0,340.0 341.9,343.5 342.8,341.3 343.5,334.8 344.3,333.3 345.1,323.7 345.9,320.6 346.6,324.6 347.3,324.5 347.9,328.3 348.8,339.4 349.8,349.0 350.7,354.5 351.6,364.5 352.3,351.1 353.1,336.1 354.0,337.8 354.9,343.8 355.8,267.5 356.7,191.2 357.6,125.6 358.6,60.0 359.2,177.3 359.8,294.7 360.6,318.0 361.4,341.3 362.0,339.8 362.7,333.5 363.6,334.3 364.4,339.7 365.3,341.3 366.1,341.6 367.0,348.9 367.9,349.0 368.8,335.4 369.7,325.7 370.4,334.3 371.1,338.1 371.7,346.4 372.6,346.9 373.5,343.6 374.3,343.8 375.2,349.7 376.1,351.6 376.8,335.9 377.4,323.1 378.1,322.5 378.8,318.8 379.5,318.0 380.4,325.1 381.2,327.1 382.1,333.5 383.0,327.8 383.8,317.5 384.7,311.5 385.5,326.3 386.4,334.2 387.3,349.0 388.1,342.0 389.0,332.4 389.9,325.7 390.5,333.1 391.2,335.3 391.9,343.8 392.7,343.4 393.5,337.3 394.3,337.2 395.0,333.5 395.9,327.7 396.8,325.7 397.5,334.0 398.2,335.4 398.9,343.8 399.8,335.7 400.6,322.6 401.5,315.4 402.4,320.8 403.2,320.7 404.1,325.7 405.0,326.0 405.8,320.3 406.7,319.3 407.5,325.2 408.4,326.1 409.3,330.9 410.1,327.6 411.0,319.9 411.8,318.0 412.5,330.3 413.2,338.3 413.9,351.6 414.8,346.9 415.7,338.7 416.4,325.2 417.1,317.6 417.8,305.0 418.4,288.2 419.1,274.0 419.7,223.5 420.4,173.1 421.0,228.7 421.7,284.3 422.6,297.2 423.5,307.6 424.1,315.7 424.8,328.3 425.6,328.4 426.5,322.4 427.4,323.1 428.2,333.2 429.1,337.7 430.0,346.4 430.8,351.6 431.7,352.4 432.5,356.8 433.4,349.8 434.3,340.4 435.1,333.5 436.0,332.3 436.9,324.5 437.7,323.1 438.6,332.2 439.4,335.6 440.3,343.8 441.2,354.3 442.0,359.0 442.9,369.7 443.8,359.9 444.6,345.5 445.5,336.1 446.3,339.8 447.2,340.4 448.1,343.8 448.9,342.5 449.8,336.4 450.7,336.1 451.5,338.7 452.4,335.4 453.2,338.7 454.2,335.0 455.1,328.3 455.7,326.2 456.4,328.7 457.1,325.7 458.0,328.7 458.9,336.9 459.7,341.3 460.4,331.6 461.1,326.6 461.8,318.0 462.7,309.3 463.6,302.4 464.5,311.2 465.4,315.4 466.1,312.0 466.8,311.4 467.5,307.6 468.3,312.0 469.2,322.9 470.1,328.3 470.9,327.4 471.8,329.4 472.7,328.3 473.5,328.9 474.4,333.8 475.2,333.5 476.1,331.7 477.0,334.1 477.8,330.9 478.7,334.7 479.6,343.7 480.4,346.4 481.3,341.5 482.1,342.5 483.0,338.7 483.9,340.9 484.7,347.2 485.6,349.0 486.5,356.3 487.3,367.3 488.2,373.6 489.0,368.9 489.9,366.6 490.8,362.0 491.6,362.1 492.5,368.4 493.4,369.7 494.2,357.6 495.1,350.6 495.9,338.7 496.8,346.9 497.7,358.5 498.5,367.1 499.4,349.9 500.3,332.6 501.1,315.4 502.0,320.8 502.8,333.4 503.7,338.7 504.6,339.7 505.4,346.5 506.3,349.0 507.1,350.5 508.0,356.0 508.9,356.8 509.7,355.2 510.6,360.2 511.5,359.4 512.3,360.0 513.2,366.4 514.0,367.1 514.7,366.8 515.4,370.6 516.1,369.7 517.2,60.0 518.0,58.7 518.9,61.2 519.7,60.0 520.5,229.1 521.3,398.2 522.2,402.5 523.1,408.5 524.0,393.9 524.8,379.2 525.7,364.5 526.6,371.0 527.4,372.4 528.3,380.1 529.1,374.7 530.0,364.4 530.9,359.4 531.8,386.5 532.7,413.7 533.4,402.6 534.1,385.4 534.7,374.9 535.6,384.9 536.5,390.9 537.3,400.8 538.0,391.7 538.7,378.8 539.4,369.7 540.3,373.7 541.1,370.9 542.0,374.9 542.9,371.9 543.7,364.9 544.6,362.0 545.4,365.4 546.3,363.6 547.2,367.1 548.1,375.4 549.0,380.1 549.7,373.7 550.3,369.7 551.0,366.2 551.7,359.9 552.4,356.8 553.3,358.9 554.2,359.4 555.1,348.6 556.0,341.3 556.7,335.2 557.4,326.6 558.1,320.6 558.8,321.6 559.5,317.6 560.2,318.0 561.0,317.5 561.7,312.8 562.5,326.7 563.3,343.8 564.2,335.8 565.1,323.1 565.8,321.3 566.5,323.0 567.2,320.6 568.1,324.9 569.0,333.5 569.8,327.9 570.5,320.6 571.4,327.2 572.3,338.7 573.2,324.2 574.2,307.6 574.9,318.4 575.7,333.5 576.6,343.7 577.5,349.0 578.4,336.5 579.3,328.3 580.0,328.8 580.7,325.7 581.4,325.7 582.1,335.1 582.8,338.9 583.5,349.0 584.4,338.6 585.3,325.7 586.1,331.2 587.0,342.3 587.9,349.0 588.8,350.6 589.7,356.8 590.4,358.4 591.1,357.2 591.7,359.4 592.7,366.9 593.6,369.7 594.3,354.6 595.1,343.8 596.0,357.8 596.9,367.1 597.6,357.1 598.3,353.7 599.0,343.8 599.9,347.1 600.7,355.3 601.6,359.4 602.5,341.0 603.4,325.7 604.3,330.6 605.2,333.5 605.9,327.2 606.6,326.8 607.3,320.6 608.0,318.5 608.7,319.7 609.3,318.0 610.2,312.9 611.2,312.8 612.1,322.7 613.0,328.3 613.7,323.2 614.3,323.1 615.0,318.0 615.9,318.3 616.8,323.1 617.5,323.0 618.2,318.3 618.9,318.0 619.8,327.1 620.7,333.5 621.5,345.2 622.3,359.4 623.2,349.8 624.1,338.7 624.7,342.0 625.4,349.0 626.3,310.2 627.2,271.4 628.0,302.4 628.7,333.5 629.7,325.9 630.6,315.4 631.2,321.4 631.9,331.8 632.6,338.7 633.5,342.5 634.4,349.0 635.3,337.1 636.2,323.1 637.0,317.0 637.8,312.8 638.7,328.2 639.6,341.3 640.5,327.4 641.4,318.0 642.1,328.0 642.8,333.8 643.5,343.8 644.4,337.9 645.3,328.3 646.0,329.7 646.7,334.3 647.4,336.1 648.3,325.3 649.2,318.0 649.9,317.9 650.6,312.6 651.3,312.8 651.9,306.5 652.6,295.3 653.3,289.5 654.2,310.9 655.1,328.3 656.0,334.9 656.9,343.8 657.6,338.6 658.3,328.5 659.0,323.1 659.9,317.4 660.7,307.9 661.6,302.4 662.3,311.1 663.0,313.9 663.7,323.1 664.6,330.7 665.5,333.5 666.4,337.4 667.3,343.8 668.0,334.5 668.7,320.6 669.4,310.2 670.2,310.2 671.1,306.8 672.0,307.6 672.8,309.9 673.7,306.6 674.5,307.6 675.4,314.9 676.3,315.7 677.1,323.1 677.8,321.9 678.5,316.0 679.2,315.4 680.1,311.1 681.0,302.4 681.9,307.5 682.8,315.4 683.5,319.1 684.2,316.8 684.9,320.6 685.6,318.9 686.3,311.4 687.0,310.2 687.9,307.4 688.8,299.9 689.7,307.8 690.6,320.6 691.3,321.4 692.0,317.8 692.7,318.0 693.4,306.9 694.2,293.4 695.1,307.1 696.0,323.1 696.9,333.9 697.8,341.3 698.5,329.7 699.2,323.1 699.9,312.8 700.8,322.5 701.7,336.1 702.6,334.2 703.5,328.3 704.2,323.5 704.9,323.1 705.6,318.0 706.5,318.7 707.3,323.4 708.2,323.1 708.8,315.9 709.5,310.2 710.1,315.3 710.8,315.4 711.6,310.6 712.5,312.1 713.4,307.6 714.0,311.6 714.7,320.3 715.4,323.1 716.3,324.2 717.1,331.0 718.0,333.5 718.9,339.1 719.8,349.0 720.7,346.1 721.6,338.7 722.3,329.0 723.0,325.1 723.7,315.4 724.4,323.3 725.1,336.7 725.8,343.8 726.7,338.8 727.6,338.7 728.4,343.5 729.3,343.4 730.2,349.0 731.1,349.2 732.0,346.4 732.7,346.3 733.4,349.5 734.0,349.0 735.0,340.3 735.9,333.5 736.5,320.3 737.2,302.4 737.9,328.3 738.7,354.2 739.6,318.0 740.5,281.7 741.2,226.3 741.9,170.9 742.7,115.4 743.4,60.0 744.1,113.5 744.9,167.0 745.7,220.5 746.5,274.0 747.1,288.4 747.8,307.6 748.7,302.1 749.6,294.7 750.2,328.3 750.9,362.0 751.8,328.3 752.7,294.7 753.4,292.0 754.1,294.4 754.7,292.1 755.4,287.3 756.0,284.3 756.7,320.6 757.3,356.8 758.2,303.7 759.1,250.7 759.8,279.2 760.4,307.6 761.1,321.4 761.8,335.2 762.5,349.0 763.2,343.4 763.9,334.0 764.6,328.3 765.5,338.1 766.4,343.8 767.3,329.2 768.1,314.5 769.0,299.9 769.2,294.4 770.1,315.5 771.0,336.7 771.8,333.2 772.5,332.2 773.2,326.9 774.0,325.6 774.8,333.8 775.7,338.5 776.6,347.7 777.4,333.0 778.3,318.3 779.1,303.6 779.9,311.5 780.6,313.6 781.3,322.0 782.1,307.2 782.8,292.5 783.5,277.8 784.3,295.5 785.0,310.9 785.7,290.7 786.5,270.5 787.2,285.8 788.0,303.6 788.7,296.1 789.4,285.2 790.3,302.3 791.3,322.0 792.2,312.7 793.1,299.9 794.0,291.3 794.9,285.2 795.9,303.7 796.8,318.3 797.5,323.5 798.3,335.2 799.0,340.4 799.7,348.9 800.5,362.4 801.2,341.6 801.9,320.7 802.7,299.9 803.4,325.6 804.1,351.4 804.9,349.4 805.6,342.4 806.3,340.4 807.1,351.2 807.8,355.4 808.6,366.1 809.3,368.8 810.0,366.5 810.8,370.1 811.5,369.8 812.2,367.0 813.0,368.3 813.7,363.3 814.4,362.4 815.2,360.8 815.9,355.1 816.8,312.8 817.8,270.5 818.7,279.8 819.6,292.5 820.7,369.8 821.6,391.9 822.5,413.9 823.5,427.4 824.4,436.0 825.3,441.3 826.2,450.7 826.9,449.5 827.7,442.4 828.4,439.7 829.2,445.0 829.9,445.3 830.6,450.7 831.4,448.3 832.1,441.7 832.8,439.7 833.7,446.0 834.6,447.8 835.4,454.4 836.3,451.5 837.1,445.5 838.0,443.4 838.7,448.6 839.5,449.4 840.2,455.8 840.9,458.1 841.7,458.7 842.4,465.5 843.1,464.7 843.9,469.1 844.7,475.9 845.6,477.5 846.4,483.8 847.3,483.7 848.2,480.6 849.0,480.1 849.8,482.6 850.5,480.8 851.2,483.8 852.0,467.7 852.7,447.0 853.6,470.9 854.5,494.9 855.5,481.6 856.4,472.8 857.1,476.3 857.8,474.0 858.6,479.9 859.3,480.1 860.1,476.1 860.8,477.9 861.5,472.6 862.3,472.8 863.1,472.8 864.0,466.6 864.8,465.4 865.7,461.6 866.6,453.8 867.4,450.7 868.1,454.8 868.9,454.2 869.6,458.1 870.5,451.5 871.3,441.9 872.2,436.0 873.1,441.2 873.9,441.9 874.8,447.0 875.5,447.4 876.2,441.6 877.0,443.5 877.7,439.7 878.4,438.3 879.2,443.6 879.9,440.8 880.7,443.4 881.4,444.7 882.1,440.0 882.9,443.0 883.6,438.6 884.3,439.7 885.1,440.4 885.8,436.4 886.5,439.3 887.3,434.3 888.0,436.0 888.9,443.0 889.7,443.6 890.6,450.7 891.3,451.3 892.1,445.6 892.8,448.1 893.5,443.5 894.3,443.4 895.0,441.6 895.7,435.5 896.5,436.8 897.2,429.9 897.9,428.6 898.8,427.2 899.7,421.5 900.5,421.3 901.3,430.2 902.0,434.4 902.7,443.4 903.6,443.0 904.4,439.3 905.3,439.7 906.2,446.6 907.0,448.0 907.9,454.4 908.6,453.0 909.3,447.0 910.1,446.9 910.8,443.4 911.7,425.2 912.7,410.2 913.6,418.2 914.5,421.3 915.4,415.6 916.3,413.9 917.3,400.7 918.2,384.5 919.0,319.6 919.8,254.7 920.6,189.8 921.4,124.9 922.2,60.0 923.1,240.6 924.1,421.3 925.0,393.7 925.9,366.1 926.6,393.7 927.4,421.3 928.3,434.0 929.2,450.7 929.9,450.1 930.7,444.7 931.4,443.4 932.2,443.2 932.9,438.6 933.6,439.7 934.4,442.7 935.1,442.5 935.8,447.4 936.6,447.0 937.3,447.2 938.0,452.1 938.8,450.9 939.5,454.4 940.4,458.3 941.2,457.0 942.1,459.9 942.8,462.5 943.6,459.4 944.3,464.3 945.0,461.6 945.8,463.6 946.5,465.8 947.2,463.2 948.0,466.4 948.7,464.0 949.4,465.4 950.2,468.3 950.9,464.6 951.6,469.0 952.4,467.2 953.1,469.1 954.0,469.1 954.8,462.2 955.7,461.7 956.4,464.9 957.2,462.8 957.9,466.8 958.6,465.4 959.4,465.4 960.1,470.4 960.8,469.4 961.6,472.8 962.5,391.9 963.4,310.9 964.3,386.3 965.3,461.7 966.1,466.3 967.0,464.5 967.8,469.1 968.7,465.3 969.6,457.4 970.4,454.4 971.1,451.7 971.9,444.6 972.6,444.9 973.4,439.7 974.1,438.1 974.8,443.2 975.6,440.1 976.3,443.8 977.0,443.4 977.8,440.8 978.5,442.5 979.2,439.6 980.0,439.7 980.8,438.0 981.7,430.9 982.5,428.6 983.4,435.6 984.3,437.3 985.1,443.4 985.9,443.5 986.6,437.7 987.3,439.1 988.1,436.0 988.1,436.5 988.9,439.1 989.7,443.5 990.7,449.6 991.6,452.7 992.7,459.7 993.5,463.9 994.4,471.3 995.1,464.1 995.7,455.1 996.6,449.3 997.4,445.8 998.2,451.3 999.0,455.1 999.7,454.4 1000.4,457.4 1001.1,440.6 1001.8,419.2 1002.5,426.7 1003.2,436.5 1004.1,444.3 1005.0,450.4 1005.8,442.7 1006.6,438.8 1007.4,443.3 1008.3,443.5 1009.2,437.6 1010.1,436.5 1011.0,439.5 1012.0,438.8 1012.8,441.0 1013.6,445.8 1014.4,446.9 1015.2,443.5 1016.1,443.7 1017.1,445.8 1018.0,448.9 1018.9,448.1 1019.7,449.5 1020.5,452.7 1021.3,450.7 1022.1,445.8 1023.1,445.3 1024.0,448.1 1024.7,446.0 1025.4,441.2 1026.1,444.7 1026.8,450.4 1027.7,450.4 1028.6,448.1 1029.4,445.9 1030.2,449.7 1030.9,448.1 1031.9,444.0 1032.8,443.5 1033.6,441.1 1034.4,436.5 1035.6,426.1 1036.7,443.5 1037.5,447.3 1038.4,455.1 1039.1,454.1 1039.7,450.4 1040.6,449.8 1041.4,452.7 1042.2,452.8 1043.0,448.1 1043.9,441.0 1044.8,438.8 1046.0,422.6 1047.2,406.4 1048.3,408.7 1049.1,402.6 1049.9,394.8 1050.6,391.5 1051.3,392.5 1052.1,392.5 1053.0,387.9 1053.8,385.4 1054.6,385.6 1055.5,381.8 1056.4,375.2 1057.6,385.6 1058.4,383.8 1059.2,385.6 1059.9,394.9 1060.6,399.5 1061.5,404.1 1062.2,417.7 1062.9,434.2 1063.7,428.4 1064.5,418.0 1065.3,412.5 1066.2,411.1 1066.8,424.8 1067.5,436.5 1068.2,427.2 1068.9,422.6 1069.6,437.3 1070.3,450.4 1071.5,459.7 1072.3,451.7 1073.1,445.8 1074.0,445.4 1075.0,441.2 1075.9,439.2 1076.8,438.8 1077.6,435.6 1078.4,429.6 1079.6,422.6 1080.5,419.3 1081.4,418.0 1082.2,416.1 1083.1,411.1 1083.9,416.9 1084.7,427.3 1085.4,388.5 1086.1,349.7 1087.0,455.1 1087.7,438.9 1088.4,418.0 1089.1,435.7 1089.8,455.1 1090.5,446.7 1091.2,436.5 1092.0,441.3 1092.8,450.4 1093.6,435.0 1094.4,418.0 1095.1,413.3 1095.8,411.1 1096.7,413.2 1097.6,413.4 1098.3,402.0 1099.0,392.5 1099.7,422.6 1100.4,452.7 1101.4,442.0 1102.3,429.6 1103.1,420.8 1103.9,415.7 1104.7,421.2 1105.5,422.6 1106.2,414.9 1106.9,411.1 1107.7,423.7 1108.5,431.9 1109.3,428.8 1110.2,429.6 1111.1,435.6 1112.0,438.8 1112.9,438.2 1113.9,441.2 1114.7,444.8 1115.5,443.5 1116.3,443.9 1117.1,448.1 1118.0,450.4 1119.0,450.4 1119.9,444.9 1120.8,441.2 1121.6,449.3 1122.4,452.7 1123.6,450.4 1124.3,451.0 1125.0,455.1 1125.9,418.0 1126.8,426.3 1127.8,431.9 1128.6,432.4 1129.4,436.5 1130.2,430.2 1131.0,420.3 1132.2,200.1 1133.3,376.3 1134.0,399.5 1134.7,422.6 1135.5,424.4 1136.3,429.6 1137.1,432.8 1137.9,434.2 1138.9,432.8 1139.8,434.2 1141.0,457.4 1142.1,392.5 1143.3,411.1 1144.1,420.6 1144.9,427.3 1145.8,415.7 1146.7,406.4 1147.7,415.7 1148.6,420.3 1149.4,426.9 1150.2,436.5 1151.0,443.1 1151.8,445.8 1152.5,432.2 1153.2,422.6 1154.0,417.7 1154.8,408.7 1155.7,413.7 1156.5,422.6 1157.2,396.6 1157.9,370.5 1158.7,375.5 1159.5,376.3 1160.6,469.0 1161.3,464.3 1162.0,462.0 1162.7,465.6 1163.4,464.3 1164.3,465.6 1165.3,469.0 1166.2,466.7 1167.1,459.7 1167.9,464.4 1168.7,473.6 1169.9,478.2 1170.6,457.4 1171.3,436.5 1172.0,429.5 1172.7,418.0 1173.4,426.4 1174.1,436.5 1174.9,451.3 1175.7,464.3 1176.9,480.5 1177.5,451.6 1178.2,422.6 1178.9,440.1 1179.6,462.0 1180.3,440.0 1181.0,418.0 1181.8,380.9 1182.6,343.9 1183.8,422.6 1184.6,440.4 1185.4,455.1 1186.1,307.5 1186.8,160.0 1188.0,469.0 1188.7,445.8 1189.4,422.6 1190.1,432.8 1190.7,445.8 1191.9,339.3 1193.1,443.5 1193.8,421.5 1194.5,399.5 1195.1,376.3 1195.8,353.2 1196.5,382.1 1197.2,411.1 1198.4,450.4 1199.5,399.5 1200.4,419.3 1201.2,434.2 1202.3,392.5 1203.0,416.8 1203.7,441.2 1204.4,423.4 1205.1,405.7 1205.8,387.9 1206.7,385.9 1207.7,385.6 1208.5,400.0 1209.3,411.1 1209.3,427.3 1210.4,427.3 1211.6,422.6 1212.7,441.2 1213.9,445.8 1214.8,443.1 1215.7,443.5 1216.6,446.8 1217.4,448.1 1218.2,447.8 1219.0,450.4 1219.9,455.9 1220.8,457.4 1221.7,449.3 1222.5,445.8 1223.4,444.3 1224.3,441.2 1225.1,444.1 1225.9,450.4 1226.9,451.3 1227.8,450.4 1228.7,444.8 1229.6,443.5 1230.5,449.0 1231.3,452.7 1232.0,453.5 1232.8,457.3 1233.6,457.4 1234.7,436.5 1235.7,432.2 1236.6,431.9 1237.4,432.0 1238.2,429.6 1239.0,430.9 1239.8,434.2 1240.8,435.2 1241.7,431.9 1242.4,425.1 1243.1,422.6 1243.8,430.7 1244.5,434.2 1245.2,438.7 1245.9,445.8 1246.7,443.8 1247.5,438.8 1248.3,441.1 1249.1,445.8 1249.8,445.2 1250.5,441.2 1251.4,409.9 1252.1,421.9 1252.8,436.5 1253.6,443.7 1254.4,448.1 1255.2,434.4 1256.0,425.0 1256.7,433.2 1257.4,436.5 1258.4,438.8 1259.1,432.4 1259.7,429.6 1260.7,457.4 1261.6,459.5 1262.5,459.7 1263.5,457.8 1264.4,459.7 1265.2,462.4 1266.0,462.0 1266.8,461.8 1267.6,466.6 1268.3,473.3 1269.0,475.9 1269.8,472.5 1270.6,473.6 1271.4,476.7 1272.3,475.9 1273.2,470.7 1274.1,469.0 1275.0,475.9 1276.0,478.2 1276.8,471.4 1277.6,469.0 1278.4,469.1 1279.2,466.6 1279.9,469.1 1280.6,473.6 1281.5,466.6 1282.2,472.7 1282.9,475.9 1283.7,476.6 1284.5,480.5 1285.3,483.8 1286.2,485.2 1287.1,475.7 1288.0,469.0 1288.9,461.4 1289.9,450.4 1290.7,451.9 1291.5,455.1 1292.3,460.7 1293.1,462.0 1294.0,457.8 1295.0,457.4 1296.1,441.2 1296.9,443.6 1297.7,443.5 1298.4,444.5 1299.1,448.1 1299.9,443.7 1300.7,436.5 1301.9,450.4 1303.1,452.7 1303.9,446.8 1304.7,443.5 1305.4,447.9 1306.1,448.1 1306.9,445.3 1307.7,445.8 1308.5,449.8 1309.3,450.4 1310.0,441.3 1310.7,434.2 1311.5,433.1 1312.3,427.3 1313.5,431.9 1314.4,432.9 1315.3,436.5 1316.1,436.7 1317.0,434.2 1317.8,434.5 1318.6,436.5 1319.5,448.3 1320.4,455.1 1321.6,457.4 1322.7,445.8 1323.9,422.6 1325.1,392.5 1326.2,427.3 1327.4,455.1 1328.3,458.1 1329.2,464.3 1330.0,463.2 1330.8,457.4 1331.7,453.8 1332.5,455.1 1333.4,459.8 1334.3,459.7 1335.2,458.7 1336.2,462.0 1337.0,460.9 1337.8,455.1 1338.6,457.3 1339.4,464.3 1340.3,464.2 1341.3,459.7 1342.2,454.1 1343.1,450.4 1343.9,449.8 1344.7,445.8 1345.9,434.2 1347.1,427.3 1348.2,411.1 1349.4,413.4 1350.5,422.6 1351.7,411.1 1352.8,422.6 1354.0,385.6 1355.2,394.8 1356.3,422.6 1357.5,436.5 1358.6,429.6 1359.8,408.7 1361.0,457.4 1362.1,427.3 1362.9,426.7 1363.7,429.6 1364.7,442.5 1365.6,450.4 1366.7,415.7 1367.9,436.5 1369.1,459.7 1370.2,464.3 1370.9,353.2 1371.8,404.1 1372.5,417.0 1373.2,434.2 1374.2,443.5 1375.3,459.7 1376.5,473.6 1377.2,477.9 1377.9,478.2 1378.7,473.8 1379.5,473.6 1380.3,473.8 1381.1,471.3 1381.8,467.7 1382.5,469.0 1383.3,475.5 1384.1,478.2 1385.3,480.5 1386.2,480.2 1387.1,482.8 1387.9,484.4 1388.7,482.8 1389.9,487.5 1390.6,475.8 1391.3,469.0 1392.0,477.6 1392.7,482.8 1393.4,476.0 1394.1,471.3 1395.0,464.3 1395.9,460.7 1396.9,455.1 1397.5,455.4 1398.2,459.7 1398.9,460.3 1399.6,457.4 1400.3,451.6 1401.0,450.4 1401.8,445.7 1402.6,438.8 1403.8,436.5 1404.5,435.1 1405.2,436.5 1405.9,440.9 1406.6,441.2 1407.3,439.2 1408.0,438.8 1408.8,434.0 1409.6,427.3 1410.7,411.1 1411.4,422.1 1412.1,436.5 1412.8,428.5 1413.5,418.0 1414.2,424.0 1414.9,431.9 1415.7,436.6 1416.5,438.8 1417.3,438.1 1418.2,441.2 1418.9,445.1 1419.5,445.8 1420.7,452.7 1421.5,443.7 1422.3,436.5 1423.3,430.5 1424.2,422.6 1425.0,422.7 1425.8,427.3 1427.0,434.2 1428.1,443.5 1429.3,404.1 1429.3,404.1 1430.4,380.9 1431.6,367.1 1432.7,376.3 1433.9,427.3 1435.1,438.8 1435.9,440.7 1436.7,438.8 1437.4,445.9 1438.1,455.1 1438.9,448.1 1439.7,436.5 1440.5,431.1 1441.3,427.3 1442.0,426.3 1442.7,422.6 1443.5,433.1 1444.3,448.1 1445.5,443.5 1446.6,422.6 1447.4,433.9 1448.3,441.2 1448.9,418.0 1449.6,394.8 1450.5,390.1 1451.3,387.9 1452.4,418.0 1453.6,399.5 1454.4,386.7 1455.2,369.4 1455.9,373.4 1456.6,380.9 1457.7,431.9 1458.6,437.6 1459.4,438.8 1460.5,418.0 1461.7,394.8 1462.4,406.4 1463.1,422.6 1463.8,433.4 1464.5,441.2 1465.2,442.7 1465.9,448.1 1466.7,447.5 1467.5,443.5 1468.6,443.5 1469.8,438.8 1470.9,376.3 1472.1,371.7 1473.3,445.8 1474.4,438.8 1475.6,452.7 1476.7,399.5 1477.9,450.4 1479.1,434.2 1479.9,435.3 1480.7,441.2 1481.6,441.0 1482.5,436.5 1483.2,442.6 1483.9,452.7 1484.6,451.4 1485.3,445.8 1486.2,449.1 1487.2,457.4 1488.0,462.0 1488.8,464.3 1489.9,431.9 1490.6,449.3 1491.3,469.0 1492.1,454.8 1493.0,436.5 1494.1,466.6 1495.0,462.2 1496.0,462.0 1496.8,467.1 1497.6,469.0 1498.4,469.7 1499.2,473.6 1500.1,478.5 1501.1,480.5 1502.2,431.9 1503.4,459.7 1504.5,455.1 1505.7,459.7 1506.8,415.7 1508.0,455.1 1509.2,441.2 1510.0,427.3 1510.8,418.0 1511.5,437.5 1512.2,452.7 1513.0,437.1 1513.8,425.0 1514.6,439.7 1515.4,452.7 1516.1,443.6 1516.8,438.8 1517.6,432.3 1518.4,422.6 1519.2,433.1 1520.0,445.8 1521.0,448.2 1521.9,448.1 1522.8,426.1 1523.8,404.1 1524.6,407.9 1525.4,415.7 1526.2,417.6 1527.0,418.0 1527.9,421.7 1528.8,427.3 1529.8,437.8 1530.7,445.8 1531.6,436.5 1532.6,436.5 1533.5,441.2 1534.3,449.4 1535.0,451.1 1535.8,459.7 1536.7,456.8 1537.6,450.4 1538.5,441.7 1539.3,436.5 1540.1,446.4 1540.9,452.7 1541.6,446.4 1542.3,443.5 1543.1,439.4 1543.9,431.9 1545.1,448.1 1546.0,442.5 1546.9,441.2 1547.7,429.7 1548.5,413.4 1549.7,370.5 1550.8,418.0 1552.0,452.7 1552.9,452.4 1553.9,455.1 1554.7,448.8 1555.5,438.8 1556.3,434.1 1557.1,431.9 1557.8,437.8 1558.5,441.2 1559.3,438.4 1560.1,438.8 1560.9,432.5 1561.7,422.6 1562.9,408.7 1564.0,427.3 1565.0,427.9 1565.9,431.9 1566.8,439.0 1567.8,441.2 1568.6,433.2 1569.4,427.3 1570.5,455.1 1571.5,448.8 1572.4,438.8 1573.2,442.1 1574.0,450.4 1574.8,460.6 1575.6,466.6 1576.6,454.5 1577.5,445.8 1578.2,439.1 1578.9,429.6 1579.6,440.9 1580.3,455.1 1581.0,447.0 1581.6,434.2 1582.5,428.4 1583.3,427.3 1584.4,450.4 1585.4,452.3 1586.3,450.4 1587.1,452.7 1587.9,459.7 1589.1,445.8 1590.2,466.6 1591.0,459.7 1591.8,448.1 1592.5,455.1 1593.2,466.6 1594.0,469.2 1594.8,469.0 1595.7,466.2 1596.5,466.6 1597.4,469.9 1598.3,469.0 1599.2,465.2 1600.2,464.3 1601.0,468.7 1601.8,469.0 1602.6,465.0 1603.4,464.3 1604.1,462.2 1604.8,457.4 1605.6,461.6 1606.4,469.0 1607.2,472.2 1608.1,473.6 1608.7,463.0 1609.4,455.1 1610.3,455.4 1611.1,452.7 1611.9,448.5 1612.7,445.8 1613.6,445.7 1614.5,443.5 1615.5,440.0 1616.4,438.8 1617.2,442.3 1618.0,441.2 1618.8,437.1 1619.6,436.5 1620.6,433.2 1621.5,427.3 1622.4,422.5 1623.3,422.6 1624.0,427.3 1624.7,429.6 1625.4,410.6 1626.1,394.8 1627.3,408.7 1628.4,436.5 1629.6,404.1 1630.4,415.4 1631.2,422.6 1631.9,411.4 1632.6,404.1 1633.4,412.6 1634.2,418.0 1635.0,415.9 1635.8,418.0 1636.8,421.9 1637.7,422.6 1638.6,421.8 1639.5,425.0 1640.4,431.2 1641.2,434.2 1642.3,411.1 1643.5,438.8 1644.3,428.3 1645.1,422.6 1645.8,436.2 1646.5,445.8 1647.3,414.5 1648.1,383.3 1649.3,441.2 1649.5,431.9 1650.6,441.2 1651.8,408.7 1653.0,436.5 1654.1,441.2 1655.3,438.8 1656.0,435.6 1656.8,435.2 1657.6,431.9 1658.4,431.8 1659.2,436.5 1660.1,419.2 1661.1,399.5 1662.2,392.5 1663.4,438.8 1664.5,427.3 1665.3,416.1 1666.2,406.4 1666.8,413.4 1667.5,418.0 1668.4,409.5 1669.2,404.1 1670.3,385.6 1671.5,404.1 1672.6,408.7 1673.8,387.9 1675.0,394.8 1676.1,413.4 1677.3,422.6 1678.2,422.7 1679.1,418.0 1680.0,436.5 1680.7,435.1 1681.4,436.5 1682.2,430.4 1683.1,420.3 1684.2,436.5 1685.4,422.6 1686.5,441.2 1687.7,427.3 1688.8,438.8 1689.8,440.1 1690.7,445.8 1691.5,435.1 1692.3,422.6 1693.5,448.1 1694.6,436.5 1695.8,438.8 1696.5,428.9 1697.2,422.6 1697.9,432.1 1698.6,436.5 1699.3,439.5 1700.0,445.8 1700.8,451.0 1701.6,452.7 1702.7,459.7 1703.9,469.0 1705.1,473.6 1706.2,466.6 1707.4,475.9 1708.5,466.6 1709.7,469.0 1710.6,463.0 1711.5,459.7 1712.2,451.1 1712.9,437.7 1713.9,464.3 1714.7,464.2 1715.5,469.0 1716.2,469.9 1717.0,469.0" fill="none" stroke="#5291e2" stroke-width="2.1" stroke-linejoin="round"/>
</g>
</svg>
</body></html>
